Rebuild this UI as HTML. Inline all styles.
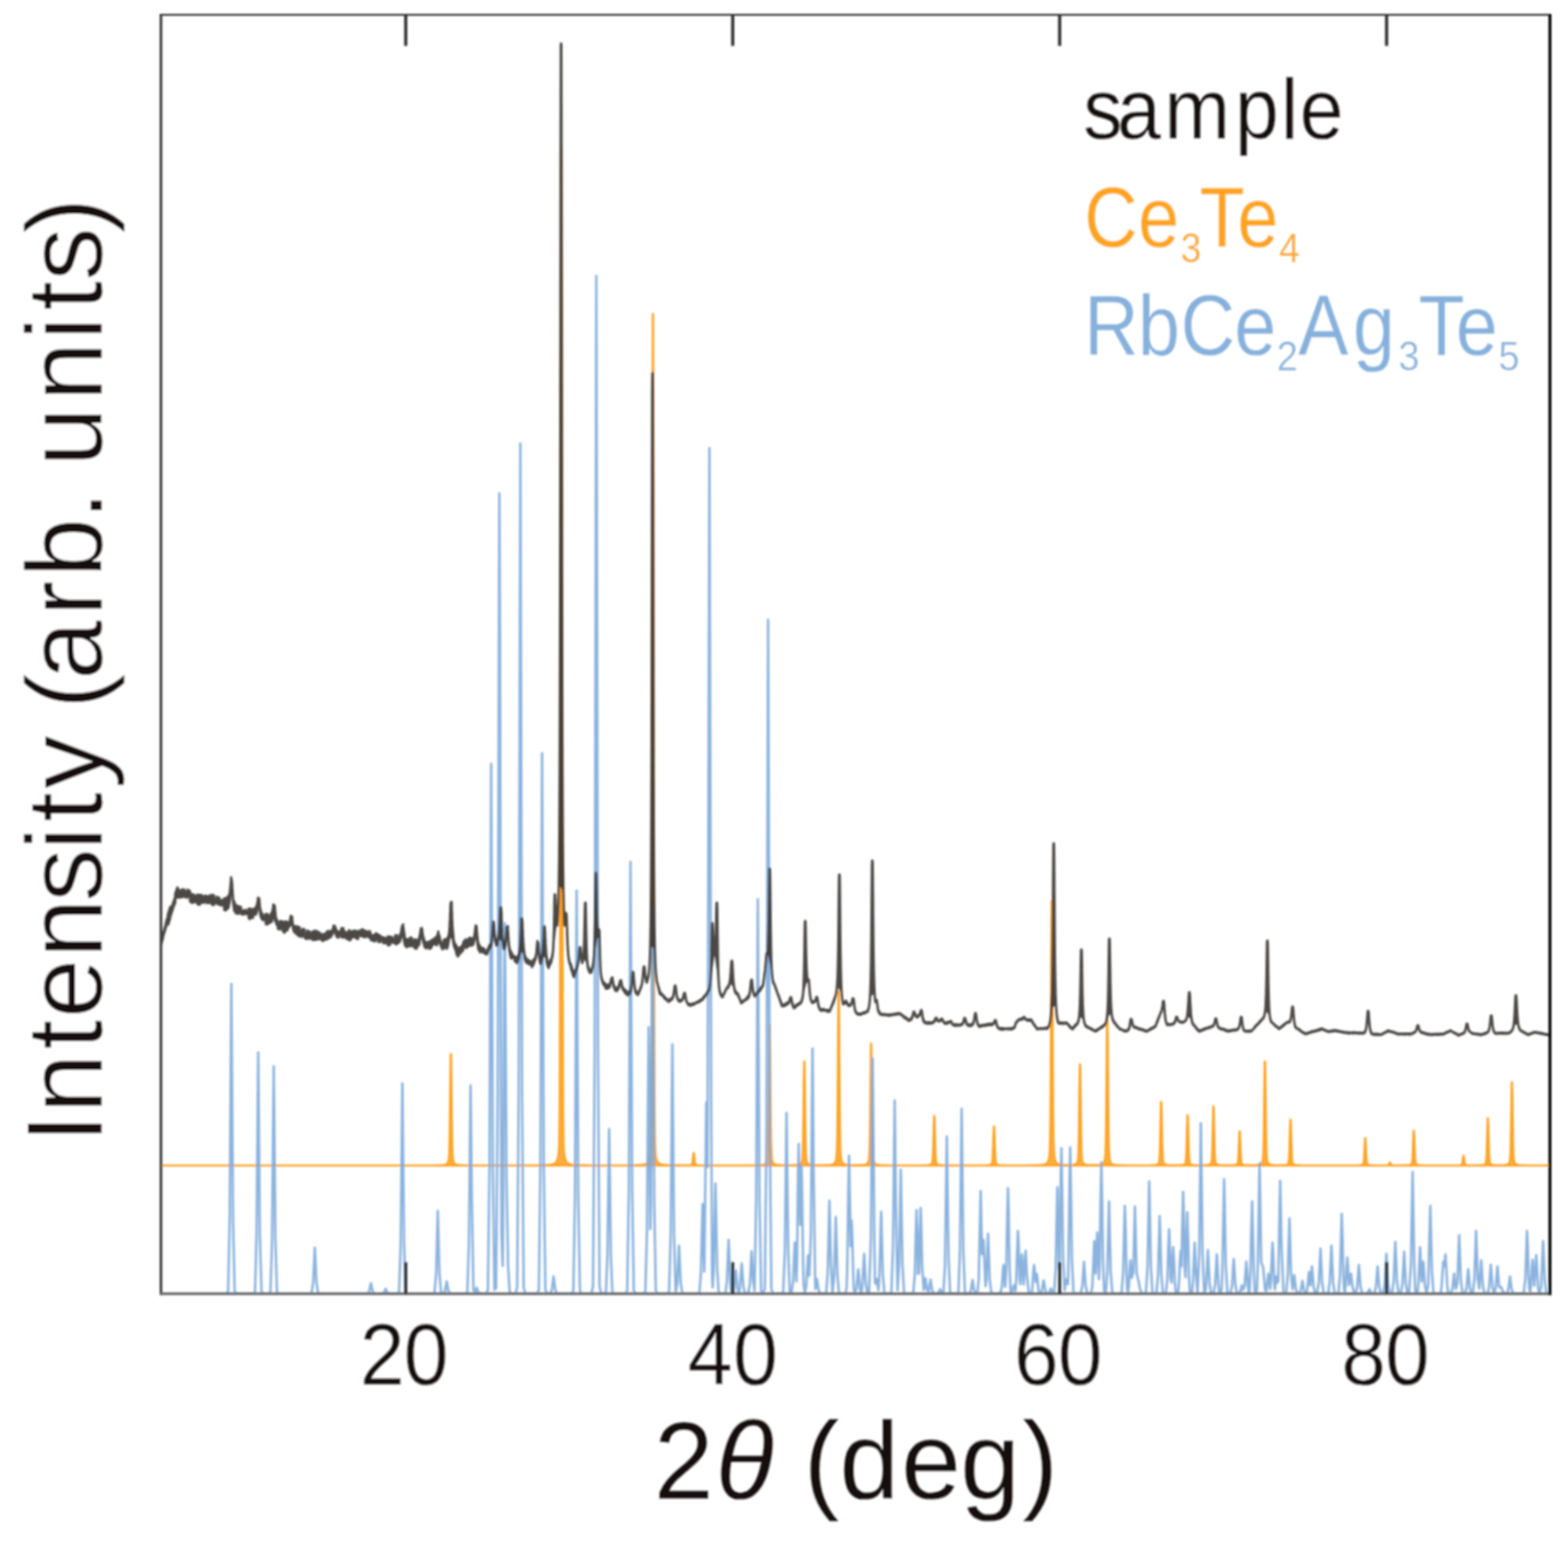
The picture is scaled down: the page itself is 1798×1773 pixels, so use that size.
<!DOCTYPE html>
<html lang="en">
<head>
<meta charset="utf-8">
<title>XRD pattern: sample, Ce3Te4, RbCe2Ag3Te5</title>
<style>
html,body{margin:0;padding:0;background:#fff;}
body{width:1798px;height:1773px;overflow:hidden;font-family:"Liberation Sans",sans-serif;}
svg{display:block;}
</style>
</head>
<body>
<svg width="1798" height="1773" viewBox="0 0 1798 1773">
<defs><filter id="soft" x="0" y="0" width="1798" height="1773" filterUnits="userSpaceOnUse"><feGaussianBlur stdDeviation="0.85"/></filter><clipPath id="plot"><rect x="184.2" y="17" width="1593" height="1466.8"/></clipPath></defs>
<rect width="1798" height="1773" fill="#fff"/>
<g filter="url(#soft)">
<g clip-path="url(#plot)" fill="none" stroke-linejoin="round" stroke-linecap="butt">
<path id="ce3te4" stroke="#ffa01e" fill="#ffa01e" fill-opacity="0.85" stroke-width="2.2" d="M184.2 1336.6L489.7 1336.5L497.7 1336.5L501.7 1336.4L503.7 1336.4L505.2 1336.3L506.2 1336.3L507.2 1336.2L507.7 1336.2L508.2 1336.1L508.7 1336L509.2 1336L509.7 1335.9L510.2 1335.8L510.7 1335.6L511.2 1335.5L511.7 1335.2L512.2 1334.9L512.7 1334.5L513.2 1334L513.7 1333.1L514.2 1331.7L514.7 1328.8L515.2 1320.2L515.7 1296.9L516.2 1253.2L516.7 1211.9L516.9 1208.7L517.1 1208.7L517.2 1209.1L517.7 1243.1L518.2 1289.7L518.7 1317.1L519.2 1327.7L519.7 1331.3L520.2 1332.9L520.7 1333.8L521.2 1334.4L521.7 1334.9L522.2 1335.2L522.7 1335.4L523.2 1335.6L523.7 1335.8L524.2 1335.9L524.7 1336L525.2 1336L525.7 1336.1L526.2 1336.2L527.2 1336.2L528.2 1336.3L529.7 1336.4L531.7 1336.4L534.7 1336.5L540.2 1336.5L557.2 1336.6L603.2 1336.6L603.7 1336.5L612.2 1336.5L617.2 1336.4L620.2 1336.4L622.7 1336.3L624.7 1336.2L626.2 1336.2L627.2 1336.1L628.2 1336L629.2 1335.9L629.7 1335.9L630.2 1335.8L630.7 1335.8L631.2 1335.7L631.7 1335.6L632.2 1335.6L632.7 1335.5L633.2 1335.3L633.7 1335.2L634.2 1335.1L634.7 1334.9L635.2 1334.7L635.7 1334.4L636.2 1334.1L636.7 1333.8L637.2 1333.3L637.7 1332.7L638.2 1332L638.7 1331L639.2 1329.7L639.7 1327.9L640.2 1325.3L640.7 1320.9L641.2 1310.1L641.7 1267.3L642.2 1112.9L642.7 753L643.2 305.2L643.5 169.4L643.9 169.4L644.2 305.2L644.7 753L645.2 1112.9L645.7 1267.3L646.2 1310.1L646.7 1320.9L647.2 1325.3L647.7 1327.9L648.2 1329.7L648.7 1331L649.2 1332L649.7 1332.7L650.2 1333.3L650.7 1333.8L651.2 1334.1L651.7 1334.4L652.2 1334.7L652.7 1334.9L653.2 1335.1L653.7 1335.2L654.2 1335.3L654.7 1335.5L655.2 1335.6L655.7 1335.6L656.2 1335.7L656.7 1335.8L657.2 1335.8L657.7 1335.9L658.7 1336L659.7 1336.1L660.7 1336.1L661.7 1336.2L663.2 1336.2L665.2 1336.3L667.7 1336.4L671.2 1336.4L676.2 1336.5L683.7 1336.5L684.2 1336.6L708.2 1336.6L708.7 1336.5L718.2 1336.5L723.2 1336.4L726.2 1336.4L728.7 1336.3L730.7 1336.2L732.2 1336.2L733.2 1336.1L734.2 1336.1L735.2 1336L735.7 1335.9L736.2 1335.9L736.7 1335.8L737.2 1335.7L737.7 1335.6L738.2 1335.6L738.7 1335.4L739.2 1335.3L739.7 1335.2L740.2 1335L740.7 1334.8L741.2 1334.5L741.7 1334.2L742.2 1333.8L742.7 1333.4L743.2 1332.8L743.7 1331.9L744.2 1330.9L744.7 1329.3L745.2 1327.1L745.7 1323.5L746.2 1314.4L746.7 1278.6L747.2 1149.5L747.7 848.3L748.2 473.6L748.5 360L748.9 360L749.2 473.6L749.7 848.3L750.2 1149.5L750.7 1278.6L751.2 1314.4L751.7 1323.5L752.2 1327.1L752.7 1329.3L753.2 1330.9L753.7 1331.9L754.2 1332.8L754.7 1333.4L755.2 1333.8L755.7 1334.2L756.2 1334.5L756.7 1334.8L757.2 1335L757.7 1335.2L758.2 1335.3L758.7 1335.4L759.2 1335.5L759.7 1335.6L760.2 1335.7L760.7 1335.8L761.2 1335.9L761.7 1335.9L762.7 1336L763.7 1336.1L764.7 1336.1L765.7 1336.2L767.2 1336.3L769.2 1336.3L771.7 1336.4L775.2 1336.4L788.7 1336.4L789.2 1336.5L790.7 1336.4L791.2 1336.4L791.7 1336.3L792.2 1336.2L792.7 1336L793.2 1335.7L793.7 1334.7L794.2 1332.1L794.7 1327.1L795.2 1322.4L795.4 1322L795.7 1322L796.2 1325.9L796.7 1331.2L797.2 1334.4L797.7 1335.6L798.2 1336L798.7 1336.2L799.2 1336.3L799.7 1336.4L800.7 1336.4L802.2 1336.5L805.2 1336.6L860.7 1336.5L865.2 1336.4L867.7 1336.4L869.2 1336.3L870.7 1336.3L871.7 1336.2L872.7 1336.1L873.2 1336.1L873.7 1336L874.2 1335.9L874.7 1335.8L875.2 1335.7L875.7 1335.6L876.2 1335.4L876.7 1335.2L877.2 1334.9L877.7 1334.6L878.2 1334.1L878.7 1333.4L879.2 1332.5L879.7 1330.9L880.2 1327.8L880.7 1319.1L881.2 1294.5L881.7 1243.7L882.2 1185.8L882.5 1175L882.8 1175L883.2 1206.2L883.7 1267L884.2 1307.1L884.7 1323.7L885.2 1329.3L885.7 1331.6L886.2 1332.9L886.7 1333.7L887.2 1334.3L887.7 1334.7L888.2 1335L888.7 1335.3L889.2 1335.5L889.7 1335.6L890.2 1335.7L890.7 1335.8L891.2 1335.9L891.7 1336L892.2 1336L893.2 1336.1L894.2 1336.2L895.2 1336.3L896.7 1336.3L899.2 1336.4L910.2 1336.3L911.7 1336.2L912.7 1336.2L913.7 1336.1L914.2 1336L914.7 1335.9L915.2 1335.9L915.7 1335.7L916.2 1335.6L916.7 1335.4L917.2 1335.2L917.7 1334.9L918.2 1334.5L918.7 1333.8L919.2 1332.9L919.7 1331.2L920.2 1327.1L920.7 1314.9L921.2 1285.3L921.7 1240.5L922.1 1217.4L922.5 1217.4L922.7 1225.4L923.2 1268.1L923.7 1305.5L924.2 1323.7L924.7 1330.1L925.2 1332.4L925.7 1333.5L926.2 1334.2L926.7 1334.7L927.2 1335.1L927.7 1335.3L928.2 1335.5L928.7 1335.7L929.2 1335.8L929.7 1335.9L930.2 1336L930.7 1336L931.2 1336.1L932.2 1336.2L933.2 1336.2L934.7 1336.3L937.2 1336.3L946.2 1336.3L948.2 1336.2L949.2 1336.2L950.2 1336.1L951.2 1336L951.7 1336L952.2 1335.9L952.7 1335.8L953.2 1335.7L953.7 1335.6L954.2 1335.5L954.7 1335.4L955.2 1335.2L955.7 1334.9L956.2 1334.6L956.7 1334.2L957.2 1333.6L957.7 1332.9L958.2 1331.7L958.7 1330L959.2 1326.7L959.7 1318.1L960.2 1293L960.7 1236.7L961.2 1161.8L961.5 1136.9L961.9 1136.9L962.2 1161.8L962.7 1236.8L963.2 1293.1L963.7 1318.2L964.2 1326.7L964.7 1330L965.2 1331.7L965.7 1332.9L966.2 1333.6L966.7 1334.2L967.2 1334.6L967.7 1334.9L968.2 1335.2L968.7 1335.3L969.2 1335.5L969.7 1335.6L970.2 1335.7L970.7 1335.8L971.2 1335.9L971.7 1336L972.2 1336L973.2 1336.1L974.2 1336.2L975.7 1336.2L977.7 1336.3L986.7 1336.2L988.2 1336.2L989.2 1336.1L989.7 1336L990.2 1336L990.7 1335.9L991.2 1335.8L991.7 1335.7L992.2 1335.6L992.7 1335.5L993.2 1335.3L993.7 1335L994.2 1334.7L994.7 1334.2L995.2 1333.5L995.7 1332.5L996.2 1330.8L996.7 1326.8L997.2 1315.2L997.7 1285.2L998.2 1234.2L998.7 1197L998.8 1196.6L999 1196.6L999.2 1200L999.7 1245.2L1000.2 1293.2L1000.7 1318.7L1001.2 1328L1001.7 1331.2L1002.2 1332.8L1002.7 1333.7L1003.2 1334.3L1003.7 1334.8L1004.2 1335.1L1004.7 1335.4L1005.2 1335.6L1005.7 1335.7L1006.2 1335.8L1006.7 1335.9L1007.2 1336L1007.7 1336.1L1008.2 1336.1L1009.2 1336.2L1010.2 1336.3L1011.2 1336.3L1012.7 1336.4L1014.7 1336.4L1018.2 1336.5L1025.2 1336.5L1059.2 1336.5L1061.2 1336.4L1062.7 1336.4L1063.7 1336.3L1064.2 1336.3L1064.7 1336.2L1065.2 1336.1L1065.7 1336.1L1066.2 1335.9L1066.7 1335.8L1067.2 1335.6L1067.7 1335.3L1068.2 1334.8L1068.7 1334L1069.2 1332.1L1069.7 1326.2L1070.2 1312.1L1070.7 1290.7L1071.2 1279.7L1071.5 1279.7L1071.7 1283.5L1072.2 1303.9L1072.7 1321.8L1073.2 1330.4L1073.7 1333.5L1074.2 1334.6L1074.7 1335.1L1075.2 1335.5L1075.7 1335.7L1076.2 1335.9L1076.7 1336L1077.2 1336.1L1077.7 1336.2L1078.2 1336.2L1079.2 1336.3L1080.2 1336.4L1081.7 1336.4L1084.2 1336.5L1089.7 1336.6L1128.7 1336.5L1130.7 1336.4L1132.2 1336.4L1133.2 1336.3L1133.7 1336.2L1134.2 1336.2L1134.7 1336.1L1135.2 1336L1135.7 1335.8L1136.2 1335.6L1136.7 1335.2L1137.2 1334.6L1137.7 1333L1138.2 1328.4L1138.7 1317.2L1139.2 1300.2L1139.7 1291.5L1140 1291.5L1140.2 1294.5L1140.7 1310.7L1141.2 1324.9L1141.7 1331.7L1142.2 1334.1L1142.7 1335L1143.2 1335.4L1143.7 1335.7L1144.2 1335.9L1144.7 1336L1145.2 1336.1L1145.7 1336.2L1146.2 1336.3L1147.2 1336.4L1148.2 1336.4L1149.7 1336.5L1152.7 1336.5L1161.2 1336.6L1165.7 1336.6L1166.2 1336.5L1178.7 1336.5L1183.7 1336.4L1186.7 1336.4L1188.7 1336.3L1190.2 1336.2L1191.7 1336.2L1192.7 1336.1L1193.7 1336L1194.2 1336L1194.7 1335.9L1195.2 1335.8L1195.7 1335.8L1196.2 1335.7L1196.7 1335.6L1197.2 1335.5L1197.7 1335.3L1198.2 1335.2L1198.7 1334.9L1199.2 1334.7L1199.7 1334.4L1200.2 1334L1200.7 1333.5L1201.2 1332.8L1201.7 1331.9L1202.2 1330.6L1202.7 1328.8L1203.2 1325.9L1203.7 1320L1204.2 1303.7L1204.7 1257.5L1205.2 1162L1205.7 1053.1L1206 1032.9L1206.2 1032.9L1206.7 1091.6L1207.2 1205.9L1207.7 1281.3L1208.2 1312.4L1208.7 1322.9L1209.2 1327.2L1209.7 1329.6L1210.2 1331.2L1210.7 1332.3L1211.2 1333.1L1211.7 1333.7L1212.2 1334.1L1212.7 1334.5L1213.2 1334.8L1213.7 1335L1214.2 1335.2L1214.7 1335.3L1215.2 1335.5L1215.7 1335.6L1216.2 1335.7L1216.7 1335.7L1217.2 1335.8L1217.7 1335.9L1218.2 1335.9L1219.2 1336L1220.2 1336L1221.7 1336.1L1228.7 1336.1L1229.2 1336L1229.7 1336L1230.2 1335.9L1230.7 1335.8L1231.2 1335.8L1231.7 1335.7L1232.2 1335.5L1232.7 1335.4L1233.2 1335.2L1233.7 1334.9L1234.2 1334.5L1234.7 1333.9L1235.2 1333.1L1235.7 1331.7L1236.2 1328.4L1236.7 1318.8L1237.2 1293.9L1237.7 1251.6L1238.2 1220.7L1238.2 1220.4L1238.5 1220.4L1238.7 1223.3L1239.2 1260.7L1239.7 1300.5L1240.2 1321.6L1240.7 1329.4L1241.2 1332.1L1241.7 1333.3L1242.2 1334.1L1242.7 1334.6L1243.2 1335L1243.7 1335.2L1244.2 1335.4L1244.7 1335.6L1245.2 1335.7L1245.7 1335.8L1246.2 1335.9L1246.7 1336L1247.2 1336.1L1248.2 1336.1L1249.2 1336.2L1251.2 1336.2L1257.2 1336.2L1258.7 1336.1L1259.7 1336L1260.2 1336L1260.7 1335.9L1261.2 1335.8L1261.7 1335.7L1262.2 1335.6L1262.7 1335.5L1263.2 1335.3L1263.7 1335.1L1264.2 1334.9L1264.7 1334.5L1265.2 1334L1265.7 1333.4L1266.2 1332.4L1266.7 1330.9L1267.2 1328.1L1267.7 1320.7L1268.2 1299.2L1268.7 1250.8L1269.2 1186.3L1269.5 1165L1269.8 1165L1270.2 1186.3L1270.7 1250.8L1271.2 1299.2L1271.7 1320.7L1272.2 1328.1L1272.7 1330.9L1273.2 1332.4L1273.7 1333.4L1274.2 1334L1274.7 1334.5L1275.2 1334.9L1275.7 1335.2L1276.2 1335.4L1276.7 1335.5L1277.2 1335.7L1277.7 1335.8L1278.2 1335.9L1278.7 1336L1279.2 1336L1279.7 1336.1L1280.7 1336.2L1281.7 1336.2L1282.7 1336.3L1284.2 1336.4L1286.2 1336.4L1289.2 1336.5L1298.2 1336.5L1318.7 1336.5L1320.7 1336.4L1322.2 1336.3L1323.2 1336.3L1323.7 1336.2L1324.2 1336.2L1324.7 1336.1L1325.2 1336L1325.7 1335.9L1326.2 1335.8L1326.7 1335.6L1327.2 1335.4L1327.7 1335.1L1328.2 1334.6L1328.7 1333.8L1329.2 1332.1L1329.7 1327.2L1330.2 1314L1330.7 1289L1331.2 1265.4L1331.3 1263.6L1331.7 1263.6L1331.7 1263.8L1332.2 1283.2L1332.7 1309.8L1333.2 1325.5L1333.7 1331.5L1334.2 1333.6L1334.7 1334.5L1335.2 1335L1335.7 1335.3L1336.2 1335.6L1336.7 1335.8L1337.2 1335.9L1337.7 1336L1338.2 1336.1L1338.7 1336.1L1339.2 1336.2L1340.2 1336.3L1341.2 1336.3L1342.7 1336.4L1346.7 1336.4L1351.7 1336.4L1353.2 1336.3L1354.2 1336.2L1354.7 1336.2L1355.2 1336.2L1355.7 1336.1L1356.2 1336L1356.7 1335.9L1357.2 1335.7L1357.7 1335.5L1358.2 1335.2L1358.7 1334.8L1359.2 1334L1359.7 1332L1360.2 1326L1360.7 1311.7L1361.2 1289.9L1361.7 1278.8L1362 1278.8L1362.2 1282.6L1362.7 1303.3L1363.2 1321.5L1363.7 1330.3L1364.2 1333.4L1364.7 1334.5L1365.2 1335.1L1365.7 1335.4L1366.2 1335.7L1366.7 1335.8L1367.2 1336L1367.7 1336.1L1368.2 1336.1L1368.7 1336.2L1369.7 1336.3L1370.7 1336.3L1371.7 1336.4L1374.7 1336.4L1381.2 1336.4L1382.7 1336.3L1383.7 1336.2L1384.2 1336.2L1384.7 1336.1L1385.2 1336.1L1385.7 1336L1386.2 1335.8L1386.7 1335.7L1387.2 1335.5L1387.7 1335.2L1388.2 1334.7L1388.7 1334L1389.2 1332.4L1389.7 1327.9L1390.2 1315.5L1390.7 1292.3L1391.2 1270.4L1391.3 1268.7L1391.7 1268.7L1391.7 1268.9L1392.2 1286.9L1392.7 1311.7L1393.2 1326.2L1393.7 1331.9L1394.2 1333.8L1394.7 1334.6L1395.2 1335.1L1395.7 1335.4L1396.2 1335.7L1396.7 1335.8L1397.2 1335.9L1397.7 1336L1398.2 1336.1L1398.7 1336.2L1399.7 1336.3L1400.7 1336.3L1402.2 1336.4L1404.7 1336.4L1412.7 1336.4L1414.2 1336.3L1415.2 1336.2L1415.7 1336.2L1416.2 1336.1L1416.7 1336L1417.2 1335.9L1417.7 1335.7L1418.2 1335.5L1418.7 1335L1419.2 1334.1L1419.7 1331.5L1420.2 1324.4L1420.7 1311L1421.2 1298.3L1421.3 1297.3L1421.7 1297.3L1421.7 1297.4L1422.2 1307.9L1422.7 1322.2L1423.2 1330.6L1423.7 1333.8L1424.2 1334.9L1424.7 1335.4L1425.2 1335.7L1425.7 1335.9L1426.2 1336L1426.7 1336.1L1427.2 1336.2L1427.7 1336.2L1428.7 1336.3L1430.2 1336.3L1439.2 1336.3L1440.2 1336.2L1441.2 1336.2L1441.7 1336.1L1442.2 1336L1442.7 1336L1443.2 1335.9L1443.7 1335.8L1444.2 1335.7L1444.7 1335.5L1445.2 1335.3L1445.7 1335L1446.2 1334.6L1446.7 1334.1L1447.2 1333.3L1447.7 1332L1448.2 1329.3L1448.7 1321.3L1449.2 1299.5L1449.7 1258.5L1450.2 1219.9L1450.3 1217L1450.7 1217L1450.7 1217.3L1451.2 1249.2L1451.7 1292.7L1452.2 1318.3L1452.7 1328.3L1453.2 1331.6L1453.7 1333.1L1454.2 1334L1454.7 1334.5L1455.2 1335L1455.7 1335.2L1456.2 1335.5L1456.7 1335.6L1457.2 1335.8L1457.7 1335.9L1458.2 1336L1458.7 1336L1459.2 1336.1L1460.2 1336.2L1461.2 1336.2L1462.2 1336.3L1464.2 1336.3L1471.7 1336.3L1472.7 1336.2L1473.2 1336.2L1473.7 1336.1L1474.2 1336L1474.7 1335.9L1475.2 1335.8L1475.7 1335.6L1476.2 1335.3L1476.7 1334.9L1477.2 1334.2L1477.7 1332.4L1478.2 1327L1478.7 1313.9L1479.2 1294.1L1479.7 1283.9L1480 1283.9L1480.2 1287.4L1480.7 1306.3L1481.2 1322.8L1481.7 1330.9L1482.2 1333.7L1482.7 1334.7L1483.2 1335.2L1483.7 1335.5L1484.2 1335.8L1484.7 1335.9L1485.2 1336L1485.7 1336.1L1486.2 1336.2L1486.7 1336.2L1487.7 1336.3L1488.7 1336.4L1490.2 1336.4L1491.7 1336.5L1496.2 1336.5L1520.2 1336.6L1552.2 1336.5L1556.2 1336.5L1558.2 1336.4L1559.2 1336.4L1559.7 1336.3L1560.2 1336.3L1560.7 1336.2L1561.2 1336.1L1561.7 1335.9L1562.2 1335.7L1562.7 1335.4L1563.2 1334.7L1563.7 1332.6L1564.2 1326.8L1564.7 1316L1565.2 1305.8L1565.3 1305L1565.7 1305L1565.7 1305.1L1566.2 1313.5L1566.7 1325L1567.2 1331.8L1567.7 1334.4L1568.2 1335.3L1568.7 1335.7L1569.2 1335.9L1569.7 1336.1L1570.2 1336.2L1570.7 1336.2L1571.2 1336.3L1572.2 1336.4L1573.2 1336.4L1575.2 1336.5L1579.7 1336.5L1590.2 1336.5L1590.7 1336.5L1591.2 1336.4L1591.7 1336.3L1592.2 1335.9L1592.7 1335L1593.2 1333.7L1593.7 1333L1594 1333L1594.2 1333.2L1594.7 1334.5L1595.2 1335.6L1595.7 1336.2L1596.2 1336.4L1596.7 1336.4L1597.7 1336.5L1612.7 1336.4L1614.2 1336.4L1615.2 1336.3L1615.7 1336.2L1616.2 1336.1L1616.7 1336L1617.2 1335.9L1617.7 1335.6L1618.2 1335.3L1618.7 1334.6L1619.2 1332.9L1619.7 1327.9L1620.2 1316.6L1620.7 1301.6L1621 1296.6L1621.3 1296.6L1621.7 1301.6L1622.2 1316.6L1622.7 1327.9L1623.2 1332.9L1623.7 1334.6L1624.2 1335.3L1624.7 1335.6L1625.2 1335.9L1625.7 1336L1626.2 1336.1L1626.7 1336.2L1627.2 1336.3L1628.2 1336.4L1629.2 1336.4L1630.7 1336.5L1633.7 1336.5L1643.7 1336.6L1671.2 1336.5L1673.2 1336.5L1674.2 1336.4L1674.7 1336.3L1675.2 1336.2L1675.7 1336L1676.2 1335.5L1676.7 1334.1L1677.2 1331L1677.7 1326.8L1678 1325.4L1678.3 1325.4L1678.7 1326.8L1679.2 1331L1679.7 1334.1L1680.2 1335.5L1680.7 1336L1681.2 1336.2L1681.7 1336.3L1682.2 1336.4L1683.2 1336.4L1684.7 1336.5L1695.2 1336.4L1697.2 1336.4L1698.2 1336.3L1699.2 1336.2L1699.7 1336.2L1700.2 1336.1L1700.7 1336L1701.2 1335.9L1701.7 1335.7L1702.2 1335.5L1702.7 1335.2L1703.2 1334.6L1703.7 1333.6L1704.2 1330.7L1704.7 1322.4L1705.2 1305.3L1705.7 1285.8L1706 1282.2L1706.2 1282.2L1706.7 1292.7L1707.2 1313.1L1707.7 1326.6L1708.2 1332.2L1708.7 1334.1L1709.2 1334.9L1709.7 1335.3L1710.2 1335.6L1710.7 1335.8L1711.2 1335.9L1711.7 1336L1712.2 1336.1L1712.7 1336.2L1713.7 1336.2L1714.7 1336.3L1716.7 1336.4L1723.2 1336.3L1724.2 1336.2L1725.2 1336.2L1725.7 1336.1L1726.2 1336.1L1726.7 1336L1727.2 1335.9L1727.7 1335.8L1728.2 1335.6L1728.7 1335.4L1729.2 1335.2L1729.7 1334.8L1730.2 1334.3L1730.7 1333.4L1731.2 1331.9L1731.7 1327.7L1732.2 1315.7L1732.7 1288.7L1733.2 1252.7L1733.5 1240.8L1733.8 1240.8L1734.2 1252.7L1734.7 1288.7L1735.2 1315.7L1735.7 1327.7L1736.2 1331.9L1736.7 1333.4L1737.2 1334.3L1737.7 1334.8L1738.2 1335.2L1738.7 1335.4L1739.2 1335.6L1739.7 1335.8L1740.2 1335.9L1740.7 1336L1741.2 1336.1L1741.7 1336.1L1742.2 1336.2L1743.2 1336.3L1744.2 1336.3L1745.7 1336.4L1747.2 1336.4L1750.2 1336.5L1756.7 1336.5L1774.2 1336.6L1777.2 1336.6Z"/>
<path id="rbce2ag3te5" stroke="#7ba9d9" stroke-opacity="0.88" stroke-width="2.8" d="M184.7 1483.6L259.7 1483.6L261.6 1481L263.4 1397.7L265.3 1128.3L267.2 1399L269.1 1481L270.9 1483.6L290.5 1483.6L292.4 1481.6L294.2 1416.7L296.1 1206.8L298 1417.7L299.9 1481.6L301.7 1483.6L308.3 1483.6L310.1 1481.7L312 1421.5L313.9 1222.8L315.8 1420.5L317.6 1481.7L319.5 1483.6L355.4 1483.6L357.2 1483.2L359.1 1471.1L361 1431L362.9 1471.1L364.8 1483.2L366.6 1483.6L419.7 1483.6L421.6 1483.5L423.4 1480.7L425.3 1471.6L427.2 1480.7L429.1 1483.5L430.9 1483.6L436.6 1483.6L438.4 1483.6L440.3 1482.3L442.2 1478L444.1 1482.2L445.9 1483.6L447.8 1483.6L455.8 1483.6L457.6 1481.8L459.5 1426.2L461.4 1242.6L463.3 1425.3L465.1 1481.8L467 1483.6L496.4 1483.6L498.2 1482.9L500.1 1461L502 1388.7L503.9 1461L505.8 1482.9L506.6 1483.3L507.6 1483.6L508.4 1483.5L510.3 1480.2L512.2 1469.7L514.1 1480.3L516 1483.5L517.8 1483.6L534 1483.6L535.9 1481.9L537.7 1425.9L539.6 1244.9L541 1374.2L542.9 1479.3L544.7 1481.9L546.6 1476.7L548.5 1482L550.4 1483.5L552.2 1483.6L557.6 1483.6L559.5 1479.2L561.3 1336.6L563.2 875.8L565.1 1338.8L567 1479.2L568.8 1477.1L570.7 1261.7L572.6 565.7L573.3 721.6L574.5 1264.9L575.1 1414.8L576.4 1451.8L577 1382.5L578.2 1131.1L578.9 1059L580.8 1352L582.6 1450.8L584.5 1482.6L586.4 1483.6L591.1 1483.6L593 1476.5L594.8 1247.9L596.7 508.7L598.6 1251.4L600.5 1476.5L602.3 1483.6L616 1483.6L617.9 1479.1L619.7 1333.8L621.6 864L623.5 1336L625.4 1479.1L627.2 1483.6L629.2 1483.6L631 1483.5L632.9 1478.9L634.8 1464L636.7 1478.9L638.5 1483.5L640.4 1483.6L655.6 1483.6L657.5 1480.2L659.3 1371.8L661.2 1021.3L663.1 1373.5L665 1480.2L666.8 1483.6L678.2 1483.6L680 1475.1L681.9 1205.6L683.8 316.4L685.7 1201.4L687.5 1475.1L689.4 1483.6L692.9 1483.6L694.8 1482.2L696.6 1438.7L698.5 1295L700.4 1438.7L702.2 1482.2L704.1 1483.6L717.4 1483.6L719.2 1480L721.1 1365.7L723 988.5L724.9 1365.7L726.8 1480L728.6 1483.6L738.2 1483.6L740 1481.4L741.9 1410.8L742.7 1302.9L743.8 1178L744.5 1241.5L745.7 1409.7L746.4 1378.4L747.5 1133.8L748.3 1042L749.4 1220L750.2 1376.8L752 1480.4L753.9 1483.6L765.4 1483.6L767.2 1481.5L769.1 1415.5L771 1197.6L772.9 1415.5L774.8 1481.5L776.6 1472.4L778.6 1428.6L780.5 1470.5L782.4 1483.2L784.2 1483.6L800.1 1483.6L802 1482.9L803.8 1458.8L805.7 1381L807.6 1458.4L809.9 1264.5L811.3 1338.4L813.5 514L814.8 983.4L815.4 1252.6L816.6 1462.1L817.2 1476.5L818.5 1453.6L819.1 1419.2L820.4 1357.5L822.3 1453.1L824.1 1482.7L826 1483.6L829.9 1483.6L831.8 1483.1L833.6 1468.9L835.5 1421.8L837.4 1468.9L838.1 1479.2L839.2 1483.1L840 1483.4L841.1 1481.7L841.8 1477.2L843.7 1457L844.9 1468.6L845.6 1477.3L846.8 1482.9L847.5 1482.7L848.6 1475.4L849.3 1463.9L850.5 1449L852.4 1475.4L854.2 1483.3L856.1 1483.6L858 1483.2L859.9 1472L861.8 1435L863.4 1466.1L865.2 1480.3L867.1 1375.9L869 1031.5L870.9 1375.9L872.8 1480.3L874.6 1483.6L877 1478L878.9 1299.5L880.8 710.7L882.7 1296.7L884.5 1478L886.4 1483.6L896.3 1483.6L898.1 1482.1L900 1434.2L901.9 1276.3L903.8 1433.5L905.6 1482.1L907.5 1483.2L909.5 1469.6L910.3 1448.9L911.4 1425L912.1 1437.2L913.3 1469.4L914 1442.7L915.1 1347.5L915.9 1311.8L917 1381.1L917.8 1404.8L919 1337L919.6 1360.6L920.9 1448.7L921.5 1472L922.8 1482.5L924.6 1474.7L926.6 1440L928 1462.9L929.8 1415.6L931.7 1202.5L933 1350.4L934.9 1478.2L936.8 1467L938.7 1479.6L940.5 1483.5L942.4 1483.6L945.5 1483.6L947.4 1482.8L949.2 1457.8L951.1 1377L952.8 1449.4L954.6 1482.5L956.5 1462.6L958.4 1395.6L960.3 1462.3L962.1 1483L964 1483.6L968 1483.6L969.9 1482.4L970.9 1475.1L971.7 1445.3L972.8 1366.2L973.6 1325.4L974.6 1380.6L975.5 1429.2L976.5 1400L977.4 1421.6L978.4 1463.7L979.2 1479.2L980.2 1483L982.1 1477.9L984.1 1455.7L985.3 1467.7L986 1477L987.1 1482.8L987.9 1482.4L989 1472.7L989.7 1457.6L990.9 1437.9L992.8 1472.5L994.6 1483.3L996.5 1482.3L998.7 1418.4L999.7 1294.9L1000.6 1214L1001.5 1297.8L1002.5 1419.4L1003.4 1471.8L1004.4 1472.2L1005.3 1467L1006.2 1472L1007.2 1479.6L1008.5 1461.2L1010.4 1389.7L1012.3 1460.9L1014.1 1482.9L1016 1483.6L1020.3 1483.6L1022.1 1482L1024 1430L1025.9 1261.9L1027.3 1382L1029.2 1479.6L1031 1449.2L1032.9 1341.4L1034.8 1449.7L1036.7 1482.6L1038.5 1483.6L1045.4 1483.6L1047.2 1482.9L1049.1 1460.8L1050.1 1416.2L1051 1388L1052 1417.7L1052.9 1460.8L1053.8 1459.9L1054.8 1415.9L1055.7 1385.4L1056.6 1414.4L1057.3 1451.2L1059.2 1479.4L1061.1 1465.8L1063 1479.3L1064.8 1481.1L1067 1467.5L1068.9 1479.8L1070.8 1483.5L1072.4 1483.6L1074.2 1483.6L1076.1 1482.4L1078 1478.5L1079.9 1482.4L1081.8 1482.6L1083.6 1452.2L1085.7 1303.4L1087.6 1440.7L1089.5 1482.3L1091.3 1483.6L1097.1 1483.6L1099 1482.1L1100.8 1432.3L1102.7 1271.6L1104.6 1433.1L1106.5 1482.1L1108.3 1483.6L1109.6 1483.6L1111.5 1483.5L1113.3 1479.8L1115.2 1468L1117.1 1479.9L1118.9 1483.5L1120.8 1482.7L1122.3 1467.4L1124.5 1366L1126 1438.4L1127.9 1421.8L1129.2 1454.3L1130.1 1475.1L1131.1 1467.3L1133 1415L1134.9 1467.3L1136.8 1483.1L1138.6 1483.6L1145.2 1483.6L1147 1483.4L1148.9 1475.7L1150.2 1455.6L1150.8 1450.6L1152 1466.2L1152.7 1475.6L1153.9 1454.8L1154.5 1419.9L1155.8 1362.6L1156.4 1380.4L1157.7 1454.3L1158.8 1480.3L1159.5 1482.7L1160.7 1481.3L1161.4 1478.2L1162.6 1474L1163.5 1477L1164.5 1480.5L1165.4 1466.5L1166.3 1436.8L1167.3 1411.7L1168.2 1430.3L1169.2 1466.2L1170 1472.7L1171 1450.3L1171.9 1438.7L1172.9 1454.4L1173.8 1472.9L1176.1 1434.5L1177.5 1462.3L1179.8 1483.2L1181.7 1483.4L1183.2 1481.5L1183.9 1475.7L1185 1457.5L1185.8 1450.6L1186.9 1463.9L1187.7 1470.1L1188.8 1460.7L1189.5 1465.5L1190.7 1478.1L1191.4 1482.1L1192.5 1483.4L1194.4 1482L1196.8 1468.3L1198.7 1479.9L1199.4 1482.5L1200.5 1483.5L1201.2 1483.5L1202.4 1483.2L1203.1 1482.2L1205 1477.6L1206.9 1482.2L1208.8 1482.7L1210.6 1454.6L1211.5 1404.9L1212.5 1361.7L1213.3 1393.2L1214.4 1454.6L1215.2 1443.9L1216.2 1359.9L1217.1 1316.9L1218.1 1375L1219 1442.1L1220.8 1479.7L1221.6 1474L1222.7 1467.5L1223.5 1470.8L1224.6 1472.6L1225.3 1443.1L1226.5 1350.8L1227.2 1316L1228.3 1384.5L1229.1 1443.7L1231 1482.4L1232.8 1483.6L1237.4 1483.6L1239.2 1483.3L1241.1 1474.9L1243 1447.2L1244.9 1474.9L1246.8 1483.3L1248.6 1483.6L1251 1483.2L1252.6 1475.3L1254.8 1423.5L1256.3 1460.5L1257.3 1434.1L1258.2 1413.4L1259.2 1435.2L1260.1 1466.9L1261 1447.2L1262 1379.8L1262.9 1333L1263.8 1378.2L1264.8 1447.7L1266.1 1480.5L1268 1482.8L1269.8 1458L1271.7 1377.8L1273.6 1458.4L1275.5 1482.8L1277.3 1483.6L1284.2 1483.6L1286 1482.9L1287.9 1459.6L1289.8 1382.9L1290.7 1409.9L1291.7 1459.3L1292.5 1478.5L1293.5 1481.7L1294.4 1474.5L1295.4 1455.9L1296.3 1445.5L1297.7 1465.5L1299.5 1459.4L1301.4 1383.7L1303.3 1459.8L1305.6 1469L1307 1477.3L1309.3 1483.5L1311.2 1483.6L1312.2 1483.6L1314 1482.7L1315.9 1453L1317.8 1355L1319.7 1452.5L1321.5 1482.7L1323.4 1483.6L1324.2 1483.6L1326 1483L1327.9 1462.4L1329.8 1394.7L1331.7 1462.1L1333.5 1483L1335 1483.4L1336.8 1483.1L1338.7 1466.1L1339.7 1432.1L1340.6 1410L1341.5 1432.9L1342.5 1465.8L1343.4 1470.9L1344.3 1446.9L1345.3 1430.3L1346.2 1446L1347.2 1470.7L1348.2 1481.5L1349 1483.2L1350 1483.2L1350.9 1481.7L1351.9 1472L1353 1447.5L1353.8 1435L1354.8 1452.2L1355.7 1408.2L1356.7 1366.8L1357.5 1397L1358.6 1455.8L1359.4 1464.6L1360.5 1419.4L1361.4 1390.5L1362.3 1418.5L1363.3 1461.4L1364.3 1480L1365.2 1482.9L1366.2 1483.2L1367 1481.3L1368 1469.5L1369.9 1425.2L1371.4 1459.8L1373.2 1482.2L1375.1 1437L1377 1288.1L1378.9 1437L1380.8 1482.2L1382.6 1479.3L1383.2 1471.7L1385.1 1433.7L1387 1471.5L1388.8 1483.2L1389.7 1483.4L1390.7 1483.5L1391.5 1483.3L1393.4 1472.9L1395.3 1438.7L1397.2 1472.7L1398.1 1481.5L1399 1483.2L1400 1482.6L1400.9 1477.4L1401.8 1451.9L1403.7 1352.4L1405.6 1452.3L1407.5 1482.6L1409.1 1483.3L1411 1483.3L1412.8 1474L1414.7 1443.8L1416.6 1474.1L1418.4 1483.3L1420.2 1483.5L1422.1 1481.3L1424 1474L1425.3 1479.1L1427.2 1474.9L1429.1 1447L1430.2 1460.8L1431 1474.8L1432 1482.4L1432.8 1480.1L1433.9 1458.4L1434.7 1418.1L1435.8 1377.8L1437.7 1458L1438.7 1479.4L1439.5 1482.8L1440.5 1482.5L1441.4 1477.8L1442.4 1447.9L1444.3 1333.8L1446.2 1447.4L1448.5 1454L1449.9 1470.6L1450.8 1479.7L1452.2 1480.6L1453.6 1467.5L1454.5 1460.7L1455.5 1467.8L1456.4 1478.1L1457.3 1469.5L1458.2 1445.9L1459.2 1425.2L1460 1440.3L1461.1 1469.7L1461.9 1478.9L1463 1469.1L1463.8 1464L1464.8 1470.9L1465.7 1469L1468 1354.1L1469.4 1426.9L1471.8 1482.7L1473 1483.3L1473.6 1483.4L1474.8 1483L1476.7 1463L1478.6 1397.3L1480.3 1458.8L1482.2 1478.5L1484.1 1462.4L1486 1478.5L1487.8 1483.4L1489.7 1483.5L1491.5 1480.1L1493.4 1469L1495.3 1480.1L1497.2 1483.4L1498.8 1480.2L1501 1459L1502.5 1474.1L1504.4 1452.3L1506.3 1476.1L1508.2 1483.4L1510 1483.4L1512.3 1471.1L1514.2 1432L1516.1 1471.3L1518 1483.2L1519.8 1483.6L1521.1 1483.6L1523 1483.2L1524.8 1470.3L1526.7 1428.6L1528.6 1470.5L1530.5 1483.2L1532.3 1483.6L1534.8 1482.9L1536.6 1461.8L1538.5 1392.2L1539.4 1417.2L1540.4 1461.8L1541.2 1479L1542.2 1481.5L1543.1 1473.7L1544.1 1453.5L1545 1442.1L1546.9 1473.7L1549.2 1460.7L1550.6 1473.6L1552.6 1483.3L1554.5 1483.4L1556.3 1475.6L1558.2 1450.6L1560.1 1475.7L1562 1483.4L1563.8 1483.6L1564.8 1483.6L1566.7 1483.6L1568.5 1482.4L1570.4 1478.5L1572.3 1482.4L1574.1 1483.6L1576 1483.4L1577.8 1476L1579.7 1452.3L1581.6 1476.1L1583.5 1483.4L1584.2 1483.5L1585.3 1483.4L1586 1483.3L1587.9 1472.7L1589.8 1437.9L1591.7 1472.5L1593.5 1483.3L1594.4 1483.5L1595.4 1483.4L1596.2 1483.2L1598.1 1469.5L1600 1424.3L1601.9 1469.5L1603.8 1483.2L1604.5 1483.4L1605.6 1483.4L1606.3 1483.2L1608.2 1472.1L1610.1 1435.3L1612 1471.9L1613.8 1483.2L1615.7 1482.9L1617.9 1450.3L1619.8 1344L1621.7 1449.8L1622.8 1479.2L1623.5 1482.6L1624.7 1483.2L1625.4 1481.9L1626.5 1471.8L1628.4 1430.3L1630.2 1469.7L1632.1 1447L1634 1474.8L1635.8 1483.2L1637.7 1473.2L1640.1 1382.9L1642 1459.3L1643.8 1482.9L1645.7 1483.6L1649.4 1483.6L1651.2 1483.3L1651.9 1482.7L1653.1 1474.9L1653.8 1464.3L1655 1447L1655.6 1452.4L1656.9 1445.3L1657.5 1438.7L1658.8 1460L1659.4 1472.9L1660.6 1482.5L1661.2 1483.3L1663.1 1483.5L1665.5 1478.1L1667.4 1460.7L1669.3 1478.1L1671.2 1471.4L1673.2 1416.7L1675.1 1467.7L1677 1483.1L1678 1483.4L1678.8 1483.5L1679.8 1483.4L1681.7 1477L1683.6 1455.7L1685.5 1476.9L1687 1483.2L1688.8 1483.1L1690.7 1466.5L1692.6 1411.7L1694.5 1466.2L1696.3 1477.7L1698.5 1445.5L1700.4 1474.5L1702.2 1483.3L1703.9 1483.5L1705.8 1483.4L1707.6 1475.7L1709.5 1450.6L1711.4 1475.7L1713.2 1483.4L1715.1 1477.2L1715.8 1468.3L1717.1 1452.3L1719 1476L1721.4 1476L1722.7 1479.9L1725.2 1483.5L1725.9 1483.6L1727 1483.5L1727.8 1483.5L1729.6 1478.9L1731.5 1464L1733.4 1478.9L1735.2 1483.5L1737.1 1483.6L1745.4 1483.6L1747.2 1483.1L1749.1 1466.5L1751 1411.7L1751.8 1427.7L1752.9 1466.5L1753.7 1479.2L1754.8 1481.2L1755.5 1474.2L1756.6 1453.3L1757.4 1444.6L1759.3 1474.3L1761.6 1439.5L1763 1464.5L1763.9 1478.1L1765.3 1483.3L1767.2 1476.2L1769.5 1423.5L1771.4 1469.3L1773.2 1483.2L1775.1 1483.6L1776.7 1483.6"/>
<g id="sample" opacity="0.9">
<path fill="#373432" stroke="none" d="M514.6 1074.5L514.8 1072.9L515 1071L515.2 1068.7L515.4 1065.9L515.6 1062.6L515.8 1058.7L516 1054.3L516.2 1049.4L516.4 1044.4L516.6 1039.9L516.8 1036.7L517 1035.5L517.2 1035.5L517.2 1035.5L517.4 1035.5L517.6 1036.8L517.8 1040.3L518 1045.2L518.2 1050.6L518.4 1055.9L518.6 1060.8L518.8 1065L519 1068.6L519.2 1071.6L519.4 1074.1L519.6 1076.2L519.8 1078ZM571.6 1075.9L571.8 1074.5L572 1072.8L572.2 1070.7L572.4 1068.3L572.6 1065.3L572.8 1061.9L573 1057.9L573.2 1053.6L573.4 1049.2L573.6 1045.2L573.8 1042.3L574 1041.3L574.2 1041.3L574.2 1041.3L574.4 1041.3L574.6 1042.5L574.8 1045.8L575 1050.4L575.2 1055.5L575.4 1060.5L575.6 1065.1L575.8 1069L576 1072.4L576.2 1075.3L576.4 1077.6L576.6 1079.6L576.8 1081.2ZM595.7 1092.6L595.9 1091L596.1 1089.1L596.3 1086.8L596.5 1084L596.7 1080.7L596.9 1076.9L597.1 1072.5L597.3 1067.6L597.5 1062.6L597.7 1058.1L597.9 1055L598.1 1053.8L598.3 1053.8L598.3 1053.8L598.5 1053.8L598.7 1055L598.9 1058.1L599.1 1062.6L599.3 1067.6L599.5 1072.5L599.7 1076.9L599.9 1080.8L600.1 1084.1L600.3 1086.8L600.5 1089.1L600.7 1091L600.9 1092.6ZM621.6 1096.9L621.8 1095.5L622 1093.8L622.2 1091.8L622.4 1089.4L622.6 1086.5L622.8 1083.2L623 1079.3L623.2 1075L623.4 1070.7L623.6 1066.8L623.8 1064L624 1063L624.2 1063L624.2 1063L624.4 1063L624.6 1064.1L624.8 1067L625 1071.2L625.2 1075.8L625.4 1080.3L625.6 1084.5L625.8 1088.1L626 1091.1L626.2 1093.7L626.4 1095.8L626.6 1097.6L626.8 1099.1ZM633.7 1095.2L633.9 1093.6L634.1 1091.6L634.3 1089.1L634.5 1085.9L634.7 1081.8L634.9 1076.4L635.1 1069.5L635.3 1060.7L635.5 1050.1L635.7 1038.8L635.9 1029.5L636.1 1025.8L636.3 1025.8L636.3 1025.8L636.5 1025.8L636.7 1026.7L636.9 1029.3L637.1 1032.9L637.3 1036.8L637.5 1040.7L637.7 1044.3L637.9 1047.4L638.1 1050L638.3 1052.2L638.5 1054.1L638.7 1055.6L638.9 1056.9ZM640.8 1014.6L641 1001.8L641.2 985.6L641.4 964.6L641.6 936.7L641.8 898.9L642 846.6L642.2 772.8L642.4 667.4L642.6 519.6L642.8 328.9L643 137.5L643.2 50.3L643.4 50.3L643.4 50.3L643.6 50.3L643.8 138.2L644 331.2L644.2 523.5L644.4 672.5L644.6 778.7L644.8 853.1L645 905.9L645.2 943.9L645.4 972.1L645.6 993.3L645.8 1009.7L646 1022.5ZM668.6 1098.6L668.8 1097.1L669 1095.3L669.2 1093.1L669.4 1090.2L669.6 1086.4L669.8 1081.6L670 1075.3L670.2 1067.3L670.4 1057.6L670.6 1047.4L670.8 1038.9L671 1035.5L671.2 1035.5L671.2 1035.5L671.4 1035.5L671.6 1039.3L671.8 1048.8L672 1060.4L672.2 1071.2L672.4 1080.1L672.6 1087.2L672.8 1092.7L673 1096.9L673.2 1100.1L673.4 1102.7L673.6 1104.7L673.8 1106.3ZM680.8 1101.4L681 1099.1L681.2 1096.2L681.4 1092.6L681.6 1088L681.8 1082.1L682 1074.4L682.2 1064.4L682.4 1051.7L682.6 1036.4L682.8 1020.1L683 1006.7L683.2 1001.3L683.4 1001.3L683.4 1001.3L683.6 1001.3L683.8 1005.4L684 1015.7L684.2 1028.1L684.4 1039.8L684.6 1049.5L684.8 1057.1L685 1063L685.2 1067.6L685.4 1071.1L685.6 1073.1L685.8 1071.5L686 1069.9ZM745.7 1084.6L745.9 1075.9L746.1 1064.9L746.3 1050.5L746.5 1031.5L746.7 1005.8L746.9 970.2L747.1 919.9L747.3 848.2L747.5 747.5L747.7 617.7L747.9 487.3L748.1 427.9L748.3 427.9L748.3 427.9L748.5 427.9L748.7 487.7L748.9 618.9L749.1 749.5L749.3 850.9L749.5 923.1L749.7 973.7L749.9 1009.5L750.1 1035.4L750.3 1054.5L750.5 1068.9L750.7 1080.1L750.9 1088.8ZM814.1 1130.5L814.3 1128.8L814.5 1126.8L814.7 1124.2L814.9 1120.9L815.1 1116.7L815.3 1111.1L815.5 1104L815.7 1094.9L815.9 1084L816.1 1072.3L816.3 1062.6L816.5 1058.8L816.7 1058.8L816.7 1058.8L816.9 1058.8L817.1 1059.9L817.3 1062.9L817.5 1067.1L817.7 1071.8L817.9 1076.4L818.1 1080.6L818.3 1084.2L818.5 1087.3L818.7 1089.9L818.9 1092.1L819.1 1093.9L819.3 1095.7ZM819.4 1095.1L819.6 1093.8L819.8 1092L820 1089.9L820.2 1087.2L820.4 1083.6L820.6 1079L820.8 1073.1L821 1065.5L821.2 1056.4L821.4 1046.7L821.6 1038.7L821.8 1035.5L822 1035.5L822 1035.5L822.2 1035.5L822.4 1040.7L822.6 1053.6L822.8 1069.3L823 1084.1L823.2 1096.3L823.4 1105.9L823.6 1113.3L823.8 1119.1L824 1123.5L824.2 1127L824.4 1129.7L824.6 1131.9ZM836.6 1127.4L836.8 1126.3L837 1125.1L837.2 1123.6L837.4 1121.8L837.6 1119.7L837.8 1117.2L838 1114.3L838.2 1111.1L838.4 1107.8L838.6 1104.9L838.8 1102.9L839 1102.1L839.2 1102.1L839.2 1102.1L839.4 1102.1L839.6 1103L839.8 1105.5L840 1109L840.2 1112.9L840.4 1116.7L840.6 1120.2L840.8 1123.2L841 1125.8L841.2 1127.9L841.4 1129.7L841.6 1131.2L841.8 1132.5ZM880 1092.7L880.2 1092L880.4 1091.3L880.6 1086.4L880.8 1081.9L881 1076L881.2 1068.4L881.4 1058.6L881.6 1046L881.8 1031L882 1014.9L882.2 1001.6L882.4 996.3L882.6 996.3L882.6 996.3L882.8 996.3L883 1002.7L883.2 1018.9L883.4 1038.5L883.6 1056.8L883.8 1072L884 1084L884.2 1093.3L884.4 1100.4L884.6 1105.9L884.8 1110.3L885 1113.7L885.2 1116.4ZM920.7 1141.1L920.9 1139.2L921.1 1136.7L921.3 1133.7L921.5 1129.8L921.7 1124.7L921.9 1118.2L922.1 1109.7L922.3 1099L922.5 1086.1L922.7 1072.3L922.9 1060.9L923.1 1056.3L923.3 1056.3L923.3 1056.3L923.5 1056.3L923.7 1059.9L923.9 1069.1L924.1 1080.1L924.3 1090.5L924.5 1099.1L924.7 1105.9L924.9 1111.1L925.1 1115.1L925.3 1118.3L925.5 1120.7L925.7 1122.6L925.9 1124.2ZM959.9 1130.5L960.1 1127.5L960.3 1123.9L960.5 1119.3L960.7 1113.4L960.9 1105.9L961.1 1096L961.3 1083.3L961.5 1067.2L961.7 1047.7L961.9 1027L962.1 1009.8L962.3 1003L962.5 1003L962.5 1003L962.7 1003L962.9 1010.3L963.1 1028.7L963.3 1050.9L963.5 1071.6L963.7 1088.9L963.9 1102.5L964.1 1113L964.3 1121.1L964.5 1127.4L964.7 1132.3L964.9 1136.2L965.1 1139.4ZM997.7 1143.1L997.9 1139.5L998.1 1135L998.3 1129.4L998.5 1122.2L998.7 1113L998.9 1100.9L999.1 1085.4L999.3 1065.6L999.5 1041.8L999.7 1016.4L999.9 995.5L1000.1 987.1L1000.3 987.1L1000.3 987.1L1000.5 987.1L1000.7 995.3L1000.9 1015.7L1001.1 1040.5L1001.3 1063.8L1001.5 1083.1L1001.7 1098.2L1001.9 1110L1002.1 1119L1002.3 1126L1002.5 1131.5L1002.7 1135.9L1002.9 1139.4ZM1205.7 1156L1205.9 1151.7L1206.1 1146.3L1206.3 1139.5L1206.5 1130.8L1206.7 1119.6L1206.9 1105L1207.1 1086.2L1207.3 1062.3L1207.5 1033.5L1207.7 1002.8L1207.9 977.4L1208.1 967.3L1208.3 967.3L1208.3 967.3L1208.5 967.3L1208.7 977.3L1208.9 1002.2L1209.1 1032.5L1209.3 1060.8L1209.5 1084.3L1209.7 1102.9L1209.9 1117.2L1210.1 1128.2L1210.3 1136.8L1210.5 1143.5L1210.7 1148.8L1210.9 1153ZM1237.4 1166.3L1237.6 1164.5L1237.8 1162.3L1238 1159.5L1238.2 1156L1238.4 1151.4L1238.6 1145.4L1238.8 1137.8L1239 1128L1239.2 1116.2L1239.4 1103.7L1239.6 1093.3L1239.8 1089.2L1240 1089.2L1240 1089.2L1240.2 1089.2L1240.4 1093.5L1240.6 1104.1L1240.8 1117L1241 1129.1L1241.2 1139.1L1241.4 1147L1241.6 1153.1L1241.8 1157.8L1242 1161.5L1242.2 1164.3L1242.4 1166.6L1242.6 1168.4ZM1269.5 1165.9L1269.7 1163.8L1269.9 1161.3L1270.1 1158.1L1270.3 1153.9L1270.5 1148.6L1270.7 1141.8L1270.9 1132.8L1271.1 1121.5L1271.3 1107.9L1271.5 1093.3L1271.7 1081.3L1271.9 1076.5L1272.1 1076.5L1272.1 1076.5L1272.3 1076.5L1272.5 1081.1L1272.7 1092.7L1272.9 1106.7L1273.1 1119.8L1273.3 1130.7L1273.5 1139.3L1273.7 1146L1273.9 1151.1L1274.1 1155L1274.3 1158.1L1274.5 1160.6L1274.7 1162.6ZM1361.2 1165.6L1361.4 1164.5L1361.6 1163.1L1361.8 1161.5L1362 1159.5L1362.2 1157.2L1362.4 1154.4L1362.6 1151.3L1362.8 1147.8L1363 1144.3L1363.2 1141.1L1363.4 1138.8L1363.6 1138L1363.8 1138L1363.8 1138L1364 1138L1364.2 1138.9L1364.4 1141.5L1364.6 1145L1364.8 1149L1365 1152.9L1365.2 1156.4L1365.4 1159.5L1365.6 1162.1L1365.8 1164.3L1366 1166.2L1366.2 1167.7L1366.4 1169ZM1450.7 1159.6L1450.9 1157.7L1451.1 1155.4L1451.3 1152.5L1451.5 1148.8L1451.7 1144L1451.9 1137.8L1452.1 1129.7L1452.3 1119.5L1452.5 1107.1L1452.7 1094L1452.9 1083.1L1453.1 1078.8L1453.3 1078.8L1453.3 1078.8L1453.5 1078.8L1453.7 1083.4L1453.9 1094.8L1454.1 1108.7L1454.3 1121.7L1454.5 1132.5L1454.7 1141L1454.9 1147.6L1455.1 1152.6L1455.3 1156.5L1455.5 1159.6L1455.7 1162L1455.9 1164ZM1735.7 1175.7L1735.9 1174.3L1736.1 1172.6L1736.3 1170.5L1736.5 1168.1L1736.7 1165.2L1736.9 1161.8L1737.1 1157.9L1737.3 1153.6L1737.5 1149.3L1737.7 1145.3L1737.9 1142.5L1738.1 1141.5L1738.3 1141.5L1738.3 1141.5L1738.5 1141.5L1738.7 1142.5L1738.9 1145.2L1739.1 1149L1739.3 1153.2L1739.5 1157.3L1739.7 1161.1L1739.9 1164.4L1740.1 1167.2L1740.3 1169.5L1740.5 1171.5L1740.7 1173.1L1740.9 1174.4Z"/>
<path stroke="#373432" stroke-width="2.8" d="M184.2 1080.4L184.4 1084.4L184.6 1079.4L184.8 1083.2L185 1078.2L185.2 1081.8L185.4 1076.2L185.6 1080.6L185.8 1075.1L186 1079.2L186.2 1073.8L186.4 1077.7L186.6 1072.3L186.8 1076.4L187 1070.5L187.2 1074L187.4 1069.3L187.6 1072.5L187.8 1067.8L188 1071.1L188.2 1066.8L188.4 1069.9L188.6 1065L188.8 1068.6L189 1063.8L189.2 1067.3L189.4 1062.4L189.6 1065.9L189.8 1061.2L190 1064.6L190.2 1058.3L190.4 1063.2L190.6 1057.2L190.8 1062.1L191 1055.5L191.2 1060.7L191.4 1054.7L191.6 1059.3L191.8 1053.2L192 1058L192.2 1051.9L192.4 1056.7L192.6 1048.4L192.8 1060.2L193 1047.5L193.2 1060L193.4 1046.6L193.6 1058.1L193.8 1044.3L194 1056L194.2 1043.7L194.4 1054.8L194.6 1041.9L194.8 1054.9L195 1041L195.2 1052.2L195.4 1039.8L195.6 1050.4L195.8 1043.5L196 1049.3L196.2 1042.5L196.4 1048.6L196.6 1041.4L196.8 1046.9L197 1040.2L197.2 1045.6L197.4 1039.2L197.6 1044.7L197.8 1038L198 1043.3L198.2 1036.2L198.4 1041.8L198.6 1035.5L198.8 1040.6L199 1034.2L199.2 1039.2L199.4 1033.1L199.6 1038.6L199.8 1031.9L200 1037.4L200.2 1031L200.4 1036.2L200.6 1029.7L200.8 1036L201 1024.8L201.2 1031.3L201.4 1023.3L201.6 1030.3L201.8 1023L202 1029L202.2 1021.1L202.4 1028.4L202.6 1020.2L202.8 1027.1L203 1019.2L203.2 1025.8L203.4 1017.9L203.6 1025.6L203.8 1018.4L204 1029.2L204.2 1022.5L204.4 1028.8L204.6 1022.7L204.8 1028.9L205 1022.8L205.2 1029.3L205.4 1022.8L205.6 1029.4L205.8 1022.9L206 1028.8L206.2 1022.9L206.4 1028.9L206.6 1021.1L206.8 1027.7L207 1020.7L207.2 1028L207.4 1021.1L207.6 1028.1L207.8 1021L208 1028.3L208.2 1020.9L208.4 1028.6L208.6 1021.2L208.8 1029L209 1020.7L209.2 1028L209.4 1020.8L209.6 1028.1L209.8 1020.2L210 1027.6L210.2 1020.2L210.4 1028L210.6 1021.4L210.8 1027.6L211 1020.1L211.2 1028.1L211.4 1021.1L211.6 1027.7L211.8 1021.3L212 1027.9L212.2 1022.8L212.4 1028.3L212.6 1023.1L212.8 1029L213 1022.9L213.2 1028.2L213.4 1022.9L213.6 1028.8L213.8 1023.1L214 1029.1L214.2 1023.3L214.4 1029.4L214.6 1023.5L214.8 1028.9L215 1020.5L215.2 1027L215.4 1020.6L215.6 1027.2L215.8 1020.6L216 1027.4L216.2 1021.6L216.4 1027.4L216.6 1021.9L216.8 1027.7L217 1022.2L217.2 1027.9L217.4 1022.3L217.6 1028L217.8 1022L218 1033.9L218.2 1025L218.4 1033.2L218.6 1025.2L218.8 1034.1L219 1025.6L219.2 1034.7L219.4 1025.6L219.6 1034.3L219.8 1026L220 1035.5L220.2 1026.5L220.4 1035.1L220.6 1025.8L220.8 1032.7L221 1026L221.2 1034.1L221.4 1026L221.6 1033.6L221.8 1026.2L222 1034.1L222.2 1026.6L222.4 1035L222.6 1026.9L222.8 1034.8L223 1026.9L223.2 1034.3L223.4 1026.9L223.6 1033.2L223.8 1027.9L224 1033.6L224.2 1028L224.4 1033.4L224.6 1028.3L224.8 1033.8L225 1028.4L225.2 1034.4L225.4 1028.5L225.6 1034.4L225.8 1028.5L226 1034.1L226.2 1026.8L226.4 1036.8L226.6 1026L226.8 1037.1L227 1026.2L227.2 1036.6L227.4 1026.8L227.6 1036.6L227.8 1026.6L228 1037.2L228.2 1026.4L228.4 1036.2L228.6 1026.5L228.8 1037.7L229 1026.6L229.2 1034.4L229.4 1026.9L229.6 1034.4L229.8 1027.1L230 1035.5L230.2 1026.7L230.4 1035.2L230.6 1026.5L230.8 1035.5L231 1026.7L231.2 1035.2L231.4 1026.7L231.6 1035.4L231.8 1028.3L232 1034.8L232.2 1028.5L232.4 1034.8L232.6 1028.4L232.8 1035L233 1028.6L233.2 1034.2L233.4 1028.7L233.6 1035.1L233.8 1028.4L234 1034.9L234.2 1028.6L234.4 1035.2L234.6 1027.4L234.8 1034.2L235 1027.8L235.2 1034L235.4 1027.7L235.6 1034L235.8 1027.7L236 1034.4L236.2 1027.4L236.4 1033.8L236.6 1027.7L236.8 1033.8L237 1028L237.2 1034.7L237.4 1027.7L237.6 1035.6L237.8 1028.9L238 1034.4L238.2 1029L238.4 1035.3L238.6 1028.8L238.8 1035.8L239 1029L239.2 1035.1L239.4 1029.2L239.6 1035.4L239.8 1029.2L240 1034.8L240.2 1027.9L240.4 1034.8L240.6 1027.1L240.8 1035L241 1026.7L241.2 1035L241.4 1026.9L241.6 1035.1L241.8 1028.1L242 1035.7L242.2 1027.8L242.4 1035.7L242.6 1027.9L242.8 1035.1L243 1026.7L243.2 1037.7L243.4 1026.6L243.6 1037.7L243.8 1027.6L244 1037.6L244.2 1026.9L244.4 1037.3L244.6 1026.6L244.8 1037L245 1026.6L245.2 1037.9L245.4 1027.9L245.6 1036.8L245.8 1030.9L246 1035.2L246.2 1031.3L246.4 1035L246.6 1031.2L246.8 1035L247 1031.3L247.2 1035.4L247.4 1031.8L247.6 1035.5L247.8 1031.7L248 1035.7L248.2 1031.8L248.4 1035.6L248.6 1028.6L248.8 1036.2L249 1029L249.2 1036.5L249.4 1029.4L249.6 1036.5L249.8 1029.1L250 1037L250.2 1029.2L250.4 1036.9L250.6 1030L250.8 1036.7L251 1029.3L251.2 1037.3L251.4 1029.6L251.6 1037L251.8 1032.5L252 1037.8L252.2 1032.6L252.4 1037.6L252.6 1032.9L252.8 1037.6L253 1032.8L253.2 1037.7L253.4 1033.1L253.6 1038L253.8 1033.1L254 1038.4L254.2 1032.5L254.4 1037L254.6 1032.6L254.8 1037.4L255 1032.5L255.2 1037.8L255.4 1032.5L255.6 1037.4L255.8 1032.7L256 1038.1L256.2 1032.8L256.4 1038.1L256.6 1033.4L256.8 1038.5L257 1030.3L257.2 1043.6L257.4 1030.2L257.6 1043.1L257.8 1031.8L258 1043.6L258.2 1030.7L258.4 1043L258.6 1030.7L258.8 1044.2L259 1031.5L259.2 1043.5L259.4 1030.6L259.6 1043.1L259.8 1030.6L260 1041.9L260.2 1029.5L260.4 1042.6L260.6 1029.7L260.8 1041.1L261 1028.7L261.2 1041.9L261.4 1029.3L261.6 1041L261.8 1027.5L262 1040.9L262.2 1027.4L262.4 1039.2L262.6 1027.1L262.8 1036.8L263 1026.1L263.2 1035L263.4 1023.3L263.6 1032.8L263.8 1020.4L264 1029.2L264.2 1016.1L264.4 1023.8L264.6 1011.4L264.8 1019.8L265 1006.1L265.2 1010.8L265.4 1008.5L265.5 1009.6L265.6 1010.2L265.8 1009.6L266 1014.3L266.2 1013.3L266.4 1020.6L266.6 1020.5L266.8 1027.3L267 1026.5L267.2 1033.5L267.4 1031.5L267.6 1037.3L267.8 1034.9L268 1040.2L268.2 1033.3L268.4 1043.5L268.6 1034.5L268.8 1044.7L269 1035.4L269.2 1045.1L269.4 1037.6L269.6 1045.8L269.8 1038.1L270 1046.2L270.2 1038.7L270.4 1047.3L270.6 1038.1L270.8 1047.5L271 1038.2L271.2 1047.4L271.4 1039.7L271.6 1047.3L271.8 1039.4L272 1047.1L272.2 1038.9L272.4 1047.3L272.6 1039.5L272.8 1047.8L273 1039.1L273.2 1048L273.4 1040L273.6 1047.9L273.8 1040.5L274 1045.9L274.2 1039.6L274.4 1045.6L274.6 1040.8L274.8 1045.7L275 1040.4L275.2 1046L275.4 1039.8L275.6 1046L275.8 1040.9L276 1046.1L276.2 1040.2L276.4 1046.1L276.6 1044.2L276.8 1048L277 1044.6L277.2 1048.6L277.4 1044.3L277.6 1048.6L277.8 1044.6L278 1048.6L278.2 1044.5L278.4 1048.3L278.6 1044.7L278.8 1048.4L279 1044.9L279.2 1048.6L279.4 1044.2L279.6 1047.8L279.8 1044.3L280 1048.1L280.2 1044.5L280.4 1048.1L280.6 1044.4L280.8 1047.9L281 1043.9L281.2 1048L281.4 1044L281.6 1048.3L281.8 1044L282 1048.1L282.2 1044.9L282.4 1047.7L282.6 1044.8L282.8 1048L283 1045L283.2 1047.9L283.4 1045.1L283.6 1048.1L283.8 1045.1L284 1048.1L284.2 1045.3L284.4 1048L284.6 1045.4L284.8 1048.2L285 1042.4L285.2 1052.8L285.4 1042.1L285.6 1053.1L285.8 1042.7L286 1052.9L286.2 1043L286.4 1054.2L286.6 1042.9L286.8 1053L287 1042.7L287.2 1053.3L287.4 1042.1L287.6 1052.9L287.8 1043L288 1051.2L288.2 1043L288.4 1052.2L288.6 1043.5L288.8 1051.8L289 1043.4L289.2 1051.4L289.4 1043.4L289.6 1051.5L289.8 1042.8L290 1052.6L290.2 1042.7L290.4 1050.9L290.6 1042.7L290.8 1049.4L291 1042.8L291.2 1049.1L291.4 1042.4L291.6 1049.2L291.8 1042.5L292 1048.8L292.2 1042L292.4 1048L292.6 1042L292.8 1048.3L293 1041.2L293.2 1047.3L293.4 1040.4L293.6 1048.7L293.8 1040L294 1047.6L294.2 1039.2L294.4 1046.1L294.6 1037.2L294.8 1045.1L295 1036L295.2 1042.2L295.4 1033.6L295.6 1039.9L295.8 1029.9L296 1036.3L296.2 1029.7L296.4 1031.1L296.6 1029.9L296.7 1030.3L296.8 1031L297 1030.1L297.2 1034.6L297.4 1032.1L297.6 1039.2L297.8 1036.6L298 1043.9L298.2 1041.2L298.4 1047.8L298.6 1044.2L298.8 1050.5L299 1043.6L299.2 1051.1L299.4 1046.3L299.6 1052.6L299.8 1046.8L300 1053.5L300.2 1047.9L300.4 1054L300.6 1047.7L300.8 1054.6L301 1049.1L301.2 1055L301.4 1048.9L301.6 1055.1L301.8 1051.7L302 1054.6L302.2 1051.7L302.4 1054.5L302.6 1051.7L302.8 1054.8L303 1051.6L303.2 1054.6L303.4 1051.7L303.6 1054.7L303.8 1051.8L304 1054.6L304.2 1051.8L304.4 1055L304.6 1048.4L304.8 1059.4L305 1048.4L305.2 1059.4L305.4 1049.2L305.6 1060.2L305.8 1048.9L306 1058.9L306.2 1049.1L306.4 1059.1L306.6 1048.2L306.8 1058.7L307 1049.2L307.2 1059.9L307.4 1050.7L307.6 1057.3L307.8 1050.4L308 1058L308.2 1050.5L308.4 1058.2L308.6 1050.9L308.8 1058.4L309 1050.3L309.2 1057.3L309.4 1050.7L309.6 1057.7L309.8 1050.2L310 1057.2L310.2 1049.2L310.4 1057.8L310.6 1048.8L310.8 1057.7L311 1047.4L311.2 1056.6L311.4 1047.3L311.6 1056.8L311.8 1047L312 1055.9L312.2 1044.8L312.4 1054L312.6 1043.9L312.8 1052.7L313 1040.8L313.2 1051.7L313.4 1037.4L313.6 1049.8L313.8 1040.6L314 1042.6L314.2 1040.3L314.2 1041.3L314.4 1042.7L314.6 1040.5L314.8 1050.4L315 1038.6L315.2 1054.1L315.4 1042.5L315.6 1056.4L315.8 1046.4L316 1056.3L316.2 1050.9L316.4 1057.6L316.6 1052.9L316.8 1059.4L317 1054.1L317.2 1060.2L317.4 1055.1L317.6 1060.8L317.8 1055.4L318 1061L318.2 1056.1L318.4 1062.3L318.6 1058.2L318.8 1065.2L319 1058.5L319.2 1065.3L319.4 1058.6L319.6 1065.5L319.8 1059.1L320 1065.4L320.2 1059.2L320.4 1065.6L320.6 1059.4L320.8 1065.6L321 1059.3L321.2 1065.9L321.4 1056.6L321.6 1063.5L321.8 1056.5L322 1064L322.2 1056.8L322.4 1063.7L322.6 1056.5L322.8 1063.7L323 1056.7L323.2 1064.5L323.4 1057L323.6 1064.1L323.8 1057.2L324 1064.5L324.2 1058L324.4 1067.8L324.6 1058.1L324.8 1068.3L325 1057.9L325.2 1068.4L325.4 1058.3L325.6 1068.2L325.8 1058.1L326 1069.7L326.2 1058.1L326.4 1069.4L326.6 1058.2L326.8 1068.9L327 1056.7L327.2 1066.6L327.4 1057.2L327.6 1066.9L327.8 1057.4L328 1066.8L328.2 1058L328.4 1066.7L328.6 1057.5L328.8 1066.8L329 1057.2L329.2 1066.3L329.4 1057.5L329.6 1067L329.8 1057.6L330 1064.4L330.2 1060.3L330.4 1064L330.6 1059.7L330.8 1063.7L331 1059.5L331.2 1063.2L331.4 1059.5L331.6 1063L331.8 1058.6L332 1061.8L332.2 1057.6L332.4 1060.8L332.6 1054.6L332.8 1060.9L333 1053.1L333.2 1059.7L333.4 1050.4L333.6 1056.5L333.8 1051.7L334 1052.8L334.2 1051.4L334.2 1052.1L334.4 1052.9L334.6 1051.7L334.8 1057.8L335 1051.5L335.2 1060.9L335.4 1056.6L335.6 1062.3L335.8 1059.5L336 1064.7L336.2 1061.5L336.4 1066.5L336.6 1063.1L336.8 1067.7L337 1064.2L337.2 1068.4L337.4 1064.6L337.6 1068.9L337.8 1065L338 1069.4L338.2 1062.5L338.4 1069.9L338.6 1062.2L338.8 1070.1L339 1063.1L339.2 1070.2L339.4 1063.1L339.6 1070.5L339.8 1063.5L340 1070.5L340.2 1063.3L340.4 1070.6L340.6 1063.8L340.8 1071L341 1062.4L341.2 1072.5L341.4 1063.2L341.6 1072.4L341.8 1063.6L342 1072.5L342.2 1063.3L342.4 1073L342.6 1064.3L342.8 1073.5L343 1064.1L343.2 1073.6L343.4 1063.3L343.6 1073.8L343.8 1067.7L344 1073.1L344.2 1067.6L344.4 1072.8L344.6 1068.1L344.8 1073.6L345 1068L345.2 1074.1L345.4 1068.1L345.6 1073.8L345.8 1068.1L346 1074L346.2 1068.5L346.4 1074.3L346.6 1065.7L346.8 1071.7L347 1065.6L347.2 1071.9L347.4 1065.3L347.6 1072.1L347.8 1066L348 1072.1L348.2 1066.4L348.4 1072.3L348.6 1066.3L348.8 1072.6L349 1066L349.2 1072.9L349.4 1070.8L349.6 1075.5L349.8 1070.9L350 1076.2L350.2 1071.2L350.4 1075.9L350.6 1071.2L350.8 1075.7L351 1071.5L351.2 1076.6L351.4 1071.5L351.6 1076.3L351.8 1071.9L352 1076.8L352.2 1067.5L352.4 1076.1L352.6 1067.3L352.8 1076.3L353 1068.2L353.2 1075.8L353.4 1068.5L353.6 1076.2L353.8 1068.3L354 1075.9L354.2 1068.7L354.4 1076.4L354.6 1068.2L354.8 1076.1L355 1070L355.2 1076.1L355.4 1070.7L355.6 1076L355.8 1070.2L356 1075.9L356.2 1070.3L356.4 1075.7L356.6 1070.6L356.8 1076.5L357 1070.5L357.2 1076.4L357.4 1070.8L357.6 1076.2L357.8 1068.9L358 1077.3L358.2 1068.8L358.4 1077.7L358.6 1068.5L358.8 1077.8L359 1069.2L359.2 1077.3L359.4 1069.5L359.6 1078.1L359.8 1069.6L360 1077.3L360.2 1069.6L360.4 1077.9L360.6 1067.5L360.8 1077.5L361 1067.6L361.2 1077L361.4 1069L361.6 1077.7L361.8 1068.5L362 1077.7L362.2 1068.5L362.4 1077.2L362.6 1068.7L362.8 1077.2L363 1067.7L363.2 1077.7L363.4 1069.6L363.6 1076.4L363.8 1069.6L364 1076.2L364.2 1069L364.4 1076.6L364.6 1069L364.8 1076.5L365 1069.4L365.2 1076.5L365.4 1070.2L365.6 1077L365.8 1069.2L366 1076.6L366.2 1070.9L366.4 1076.9L366.6 1071.7L366.8 1076.9L367 1071L367.2 1076.9L367.4 1071L367.6 1076.8L367.8 1071.7L368 1077.1L368.2 1071.9L368.4 1076.9L368.6 1071.2L368.8 1077.1L369 1072.1L369.2 1078.5L369.4 1072.7L369.6 1078.6L369.8 1072.7L370 1079.2L370.2 1072.6L370.4 1078.8L370.6 1072.6L370.8 1078.6L371 1072.3L371.2 1078.4L371.4 1072.5L371.6 1078.1L371.8 1071L372 1077.6L372.2 1071.6L372.4 1077.4L372.6 1071.4L372.8 1077.3L373 1071.6L373.2 1077.5L373.4 1071.2L373.6 1077L373.8 1070.6L374 1076.9L374.2 1071L374.4 1077.3L374.6 1069.4L374.8 1076.5L375 1068.4L375.2 1076.8L375.4 1069.2L375.6 1076.2L375.8 1068.3L376 1076.2L376.2 1067.9L376.4 1075.9L376.6 1067.8L376.8 1076.1L377 1068.7L377.2 1075.9L377.4 1068.9L377.6 1074.9L377.8 1068.7L378 1074.9L378.2 1068.2L378.4 1074.5L378.6 1068.5L378.8 1074.5L379 1068.4L379.2 1074.5L379.4 1068.3L379.6 1074.1L379.8 1067.6L380 1073.7L380.2 1067.9L380.4 1072.5L380.6 1067.6L380.8 1072L381 1067.3L381.2 1071.3L381.4 1066.7L381.6 1070.2L381.8 1064.8L382 1068.8L382.2 1063.3L382.4 1066.9L382.6 1061.6L382.8 1065.4L383 1063.7L383.2 1064.9L383.3 1064.3L383.4 1063.7L383.6 1064.9L383.8 1061.8L384 1068L384.2 1062.6L384.4 1069.5L384.6 1064.2L384.8 1071.3L385 1064.9L385.2 1072.2L385.4 1065.6L385.6 1072.2L385.8 1067.8L386 1073.6L386.2 1067.9L386.4 1074.6L386.6 1068.4L386.8 1074.5L387 1068.4L387.2 1075L387.4 1068.8L387.6 1075.3L387.8 1068.9L388 1075.2L388.2 1069.1L388.4 1074.7L388.6 1068.2L388.8 1072.3L389 1068.4L389.2 1072.1L389.4 1068.9L389.6 1072.2L389.8 1068.8L390 1072.3L390.2 1068.7L390.4 1072.2L390.6 1068.8L390.8 1072.4L391 1068.9L391.2 1072.5L391.4 1064.7L391.6 1074.8L391.8 1065.3L392 1074.5L392.2 1064.6L392.4 1074.5L392.6 1065.8L392.8 1075L393 1064.5L393.2 1074.4L393.4 1065.7L393.6 1075.1L393.8 1064.8L394 1074.2L394.2 1069L394.4 1073.9L394.6 1068.6L394.8 1074L395 1068.6L395.2 1074.5L395.4 1069.1L395.6 1074.5L395.8 1069L396 1074.5L396.2 1068.7L396.4 1074.1L396.6 1069.2L396.8 1074.7L397 1070.3L397.2 1076.6L397.4 1070.2L397.6 1076.4L397.8 1070.1L398 1076.2L398.2 1070.3L398.4 1075.5L398.6 1070.2L398.8 1076L399 1070.3L399.2 1076.7L399.4 1070.5L399.6 1076.5L399.8 1068L400 1077.9L400.2 1067L400.4 1077.2L400.6 1067.4L400.8 1078.4L401 1067.3L401.2 1077.7L401.4 1067.8L401.6 1076.9L401.8 1067.7L402 1077.5L402.2 1067.9L402.4 1077.4L402.6 1069.3L402.8 1074.5L403 1068.9L403.2 1074.2L403.4 1069.2L403.6 1074.4L403.8 1069.1L404 1074.7L404.2 1069.2L404.4 1074.3L404.6 1068.7L404.8 1074.2L405 1069L405.2 1074.3L405.4 1067.4L405.6 1074.6L405.8 1067.5L406 1074.3L406.2 1067.6L406.4 1074.6L406.6 1067.9L406.8 1074.7L407 1067.4L407.2 1074.3L407.4 1068.1L407.6 1074.4L407.8 1068.2L408 1074.2L408.2 1068.4L408.4 1076L408.6 1067.9L408.8 1076.3L409 1068.6L409.2 1076.1L409.4 1068.2L409.6 1076.2L409.8 1068.5L410 1075.8L410.2 1068.7L410.4 1076.9L410.6 1067.9L410.8 1075.8L411 1067.9L411.2 1072.6L411.4 1068L411.6 1072.3L411.8 1068.1L412 1072.4L412.2 1068.3L412.4 1072.5L412.6 1068.5L412.8 1072.6L413 1067.9L413.2 1072.5L413.4 1067.7L413.6 1072.5L413.8 1067L414 1073.5L414.2 1067.1L414.4 1073.4L414.6 1066.1L414.8 1073.7L415 1066.9L415.2 1073.4L415.4 1066.3L415.6 1073.7L415.8 1065.9L416 1073.4L416.2 1066.1L416.4 1073.7L416.6 1067.3L416.8 1074.3L417 1067.9L417.2 1074.7L417.4 1067.8L417.6 1074.3L417.8 1067.6L418 1074.3L418.2 1067.3L418.4 1074.2L418.6 1068.1L418.8 1074.5L419 1067.5L419.2 1074.7L419.4 1068.6L419.6 1073.3L419.8 1068.4L420 1073.1L420.2 1068.9L420.4 1073.1L420.6 1069.2L420.8 1073.4L421 1069.5L421.2 1073.6L421.4 1069.6L421.6 1073.7L421.8 1069L422 1073.7L422.2 1068.5L422.4 1074.5L422.6 1068.5L422.8 1074.9L423 1068.9L423.2 1075.1L423.4 1067.9L423.6 1075.2L423.8 1068.6L424 1075L424.2 1068.5L424.4 1075.3L424.6 1068.9L424.8 1075.3L425 1072.5L425.2 1077.8L425.4 1072.5L425.6 1078.2L425.8 1072.9L426 1077.7L426.2 1072.9L426.4 1078.1L426.6 1073.1L426.8 1077.8L427 1073.3L427.2 1078.1L427.4 1073.3L427.6 1078.9L427.8 1072.5L428 1078.7L428.2 1072.6L428.4 1079L428.6 1072.9L428.8 1078.9L429 1073.2L429.2 1078.9L429.4 1073.2L429.6 1078.6L429.8 1073.3L430 1079.5L430.2 1073.5L430.4 1079.3L430.6 1071L430.8 1076.3L431 1070.4L431.2 1076.3L431.4 1071.4L431.6 1076.7L431.8 1071.2L432 1076.6L432.2 1071.1L432.4 1076.9L432.6 1071.3L432.8 1077L433 1071.5L433.2 1077.2L433.4 1072.4L433.6 1079.3L433.8 1072.8L434 1080.3L434.2 1072.5L434.4 1079.6L434.6 1072.3L434.8 1079.9L435 1073.3L435.2 1080.3L435.4 1073.2L435.6 1080.4L435.8 1073.1L436 1080.3L436.2 1074.6L436.4 1078L436.6 1074.7L436.8 1078.3L437 1075.1L437.2 1078.3L437.4 1075.1L437.6 1078.3L437.8 1074.7L438 1078.4L438.2 1074.8L438.4 1078.5L438.6 1075.2L438.8 1078.7L439 1075.2L439.2 1081L439.4 1075.2L439.6 1081.2L439.8 1075.8L440 1081.8L440.2 1075.5L440.4 1081.6L440.6 1075.9L440.8 1081.7L441 1076L441.2 1081.3L441.4 1075.8L441.6 1081.1L441.8 1075.9L442 1080.9L442.2 1076.2L442.4 1081.3L442.6 1076.1L442.8 1081.5L443 1076.1L443.2 1081.6L443.4 1076.2L443.6 1081.6L443.8 1076L444 1081.1L444.2 1076.1L444.4 1081.3L444.6 1074.2L444.8 1083.9L445 1074.2L445.2 1083.1L445.4 1074.7L445.6 1084L445.8 1074.2L446 1084.1L446.2 1075.2L446.4 1083.9L446.6 1075.2L446.8 1083.9L447 1074.5L447.2 1083.2L447.4 1074.5L447.6 1080.9L447.8 1075.2L448 1080.6L448.2 1075.1L448.4 1081L448.6 1075L448.8 1080.6L449 1075.6L449.2 1080.7L449.4 1074.9L449.6 1080.8L449.8 1075.2L450 1080.9L450.2 1078.4L450.4 1080.9L450.6 1078.5L450.8 1081L451 1078.3L451.2 1080.9L451.4 1078.1L451.6 1080.9L451.8 1078.3L452 1080.6L452.2 1078.2L452.4 1080.6L452.6 1077.9L452.8 1080.6L453 1073.9L453.2 1082.2L453.4 1072.6L453.6 1082.7L453.8 1073.2L454 1082.4L454.2 1073.5L454.4 1082.8L454.6 1073L454.8 1082.8L455 1072.7L455.2 1081.8L455.4 1073L455.6 1081.8L455.8 1076.3L456 1081.8L456.2 1076.4L456.4 1081.1L456.6 1076.2L456.8 1081.3L457 1075.9L457.2 1081L457.4 1075.8L457.6 1080.3L457.8 1075.4L458 1080.4L458.2 1075.2L458.4 1080.1L458.6 1072L458.8 1078.2L459 1072.3L459.2 1077.7L459.4 1071.1L459.6 1076.3L459.8 1069.4L460 1074.6L460.2 1067.3L460.4 1072.3L460.6 1064.2L460.8 1069.6L461 1062.2L461.2 1066.7L461.4 1062.6L461.6 1064.5L461.7 1063.3L461.8 1062.5L462 1064.6L462.2 1060.2L462.4 1071L462.6 1063.9L462.8 1075.2L463 1066.7L463.2 1078.7L463.4 1069.8L463.6 1080.2L463.8 1071.7L464 1082.5L464.2 1075.2L464.4 1084L464.6 1076.3L464.8 1084.7L465 1077L465.2 1084.6L465.4 1077.5L465.6 1085.4L465.8 1077.4L466 1086L466.2 1078.2L466.4 1085.9L466.6 1078.6L466.8 1086.3L467 1077.5L467.2 1083.6L467.4 1077.1L467.6 1084.2L467.8 1077.6L468 1084.5L468.2 1077.8L468.4 1084.1L468.6 1078L468.8 1084.3L469 1077.9L469.2 1084.8L469.4 1077.7L469.6 1085.1L469.8 1076.1L470 1085L470.2 1075.8L470.4 1084.2L470.6 1076.4L470.8 1084.7L471 1075.2L471.2 1084.5L471.4 1075.6L471.6 1084.6L471.8 1075.5L472 1084.3L472.2 1076.1L472.4 1085.1L472.6 1079.2L472.8 1084.4L473 1079.4L473.2 1084.3L473.4 1079.2L473.6 1084.8L473.8 1079.3L474 1084.6L474.2 1079.4L474.4 1084.8L474.6 1078.9L474.8 1084.8L475 1079.4L475.2 1084.9L475.4 1077.5L475.6 1087.4L475.8 1078.5L476 1087.7L476.2 1077.7L476.4 1087L476.6 1078.5L476.8 1086.8L477 1078.1L477.2 1087.9L477.4 1078L477.6 1088L477.8 1078.5L478 1087L478.2 1078.5L478.4 1085.7L478.6 1078.6L478.8 1085.5L479 1078.5L479.2 1084.6L479.4 1078.1L479.6 1084.3L479.8 1077.5L480 1084.1L480.2 1077.1L480.4 1083.8L480.6 1076.7L480.8 1082.8L481 1074.2L481.2 1079.3L481.4 1072.2L481.6 1077.6L481.8 1070.8L482 1075L482.2 1067.3L482.4 1071.9L482.6 1065L482.8 1069.1L483 1066.4L483.2 1067.4L483.3 1067.1L483.4 1066.3L483.6 1067.5L483.8 1064.3L484 1071.7L484.2 1067L484.4 1074.9L484.6 1070.1L484.8 1077.8L485 1073L485.2 1080.1L485.4 1074.8L485.6 1081.6L485.8 1075.6L486 1082.7L486.2 1076.9L486.4 1083.4L486.6 1079.2L486.8 1085.8L487 1079.9L487.2 1086.3L487.4 1080L487.6 1086.1L487.8 1080.6L488 1086.8L488.2 1080.6L488.4 1087.4L488.6 1080.8L488.8 1087.7L489 1080.8L489.2 1087.3L489.4 1080.9L489.6 1085.2L489.8 1080.8L490 1085.2L490.2 1080.6L490.4 1085.7L490.6 1080.6L490.8 1086.1L491 1080.5L491.2 1085.1L491.4 1080.5L491.6 1085.7L491.8 1080.2L492 1085L492.2 1080.2L492.4 1088L492.6 1080L492.8 1088.2L493 1079.7L493.2 1087.6L493.4 1079.8L493.6 1087.8L493.8 1079.6L494 1087.1L494.2 1079.2L494.4 1086.7L494.6 1079.3L494.8 1086.6L495 1078.1L495.2 1083.5L495.4 1077.8L495.6 1083.2L495.8 1078L496 1083.4L496.2 1077.6L496.4 1083.6L496.6 1077.9L496.8 1083.1L497 1078.2L497.2 1083.1L497.4 1077.9L497.6 1083L497.8 1077L498 1082.8L498.2 1076.3L498.4 1082.6L498.6 1075.7L498.8 1082.4L499 1076.2L499.2 1082.3L499.4 1075.6L499.6 1082.3L499.8 1076.3L500 1082L500.2 1075.2L500.4 1081.6L500.6 1074.8L500.8 1084.2L501 1073.4L501.2 1083.1L501.4 1072.9L501.6 1082.8L501.8 1072.2L502 1081.4L502.2 1070.1L502.4 1079.3L502.6 1068.4L502.8 1078L503 1071.9L503.2 1074.1L503.3 1073L503.4 1072.9L503.6 1074L503.8 1072.7L504 1078.5L504.2 1075L504.4 1080.4L504.6 1076.8L504.8 1082.3L505 1078.5L505.2 1083.9L505.4 1079.8L505.6 1084.8L505.8 1080.9L506 1086.2L506.2 1080.9L506.4 1086.8L506.6 1081.1L506.8 1087.7L507 1081.4L507.2 1088.4L507.4 1081.9L507.6 1087.5L507.8 1081.9L508 1088.4L508.2 1082.2L508.4 1088.1L508.6 1082.1L508.8 1087.9L509 1078.6L509.2 1085.7L509.4 1077.3L509.6 1085.9L509.8 1077.5L510 1085.7L510.2 1078L510.4 1085.7L510.6 1078L510.8 1085.7L511 1077.7L511.2 1085.6L511.4 1077.6L511.6 1085.9L511.8 1079.1L512 1087.8L512.2 1078.1L512.4 1088L512.6 1077.7L512.8 1086.4L513 1076.1L513.2 1086.4L513.4 1075.4L513.6 1084.4L513.8 1074.8L514 1082.8L514.2 1073.2L514.4 1080.4L514.6 1072.5L514.8 1078.2L515 1069L515.2 1073.9L515.4 1064.3L515.6 1068.2L515.8 1056.6L516 1059.7L516.2 1047.4L516.4 1050L516.6 1037.6L516.8 1037.8L517 1035.1L517.2 1035.5L517.2 1036.5L517.4 1034.5L517.6 1037.4L517.8 1034.3L518 1048.2L518.2 1045.5L518.4 1059L518.6 1056L518.8 1068.6L519 1064L519.2 1074.8L519.4 1068.3L519.6 1079.1L519.8 1072.6L520 1082.4L520.2 1077.5L520.4 1083.6L520.6 1079.6L520.8 1085.6L521 1080.3L521.2 1086.9L521.4 1082.2L521.6 1087.8L521.8 1082.7L522 1088.8L522.2 1083.6L522.4 1089.5L522.6 1084.1L522.8 1090.2L523 1084L523.2 1093.4L523.4 1085.2L523.6 1094.1L523.8 1085.5L524 1094.6L524.2 1086.9L524.4 1096L524.6 1088.1L524.8 1096.8L525 1088.9L525.2 1096.8L525.4 1088.2L525.6 1096.5L525.8 1089L526 1095.4L526.2 1088.4L526.4 1094.5L526.6 1087.8L526.8 1094.1L527 1087.1L527.2 1093.8L527.4 1086.8L527.6 1093.4L527.8 1086.5L528 1092.6L528.2 1086.3L528.4 1092.8L528.6 1086.3L528.8 1092.1L529 1085.8L529.2 1091.9L529.4 1085.6L529.6 1090.8L529.8 1084.7L530 1090.6L530.2 1084.3L530.4 1090.5L530.6 1083.7L530.8 1090L531 1083.8L531.2 1089.1L531.4 1080.1L531.6 1086.1L531.8 1080.6L532 1085.4L532.2 1079.9L532.4 1084.9L532.6 1079.3L532.8 1084.6L533 1078.6L533.2 1084L533.4 1078.8L533.6 1083.7L533.8 1077.4L534 1083.6L534.2 1079.5L534.4 1086.9L534.6 1079L534.8 1087.1L535 1079.4L535.2 1086.8L535.4 1079L535.6 1086.3L535.8 1078.9L536 1086L536.2 1078.6L536.4 1085.8L536.6 1078.7L536.8 1085.3L537 1076.6L537.2 1084.1L537.4 1076.9L537.6 1084.5L537.8 1076.6L538 1084L538.2 1076.4L538.4 1084.3L538.6 1076.4L538.8 1083.9L539 1075.3L539.2 1083.2L539.4 1075.6L539.6 1083.6L539.8 1077.8L540 1084.4L540.2 1077.9L540.4 1084.3L540.6 1077.5L540.8 1084.5L541 1077.4L541.2 1083.8L541.4 1076.9L541.6 1084.1L541.8 1076.8L542 1083.1L542.2 1076.2L542.4 1083.3L542.6 1077.2L542.8 1082.8L543 1076.2L543.2 1081.1L543.4 1075.1L543.6 1079.7L543.8 1073.7L544 1078.3L544.2 1071.4L544.4 1075.4L544.6 1068.2L544.8 1072.4L545 1064.5L545.2 1067.7L545.4 1061.9L545.6 1062.9L545.8 1061.5L545.8 1062.1L546 1063L546.2 1062.1L546.4 1068.5L546.6 1063.5L546.8 1073.8L547 1069.3L547.2 1079.1L547.4 1073.7L547.6 1083.3L547.8 1077.2L548 1085.8L548.2 1080.4L548.4 1087.9L548.6 1081.7L548.8 1089.4L549 1082.8L549.2 1089.6L549.4 1084L549.6 1090.3L549.8 1084.2L550 1090.9L550.2 1085.2L550.4 1092.1L550.6 1085.4L550.8 1091.7L551 1086.6L551.2 1090.4L551.4 1087L551.6 1090.4L551.8 1087.2L552 1090.9L552.2 1087.6L552.4 1091.4L552.6 1087.8L552.8 1091.7L553 1088.4L553.2 1091.7L553.4 1088.5L553.6 1091.8L553.8 1087.2L554 1092L554.2 1088.2L554.4 1092.3L554.6 1088.5L554.8 1092.7L555 1088.5L555.2 1092.9L555.4 1088.9L555.6 1093.1L555.8 1089.3L556 1093.6L556.2 1089.1L556.4 1093.9L556.6 1091.5L556.8 1093.4L557 1091.8L557.2 1093.8L557.4 1092L557.6 1094.1L557.8 1092.3L558 1094.4L558.2 1092.6L558.4 1094.5L558.6 1092.1L558.8 1093.6L559 1091.1L559.2 1092.5L559.4 1088.7L559.6 1091.9L559.8 1087.7L560 1091L560.2 1086.9L560.4 1090L560.6 1085.6L560.8 1089.1L561 1084.6L561.2 1088.4L561.4 1084.3L561.6 1087.8L561.8 1083.4L562 1087.2L562.2 1084.6L562.4 1086.7L562.6 1083.7L562.8 1085.8L563 1082.5L563.2 1084.2L563.4 1080.5L563.6 1081.8L563.8 1077.7L564 1078.6L564.2 1073.6L564.4 1073.8L564.6 1068.1L564.8 1067.6L565 1061.5L565.2 1064.2L565.4 1057.6L565.6 1058.1L565.8 1056.9L565.8 1057.1L566 1058.1L566.2 1057.5L566.4 1063.6L566.6 1061.1L566.8 1069.9L567 1066.5L567.2 1074.9L567.4 1071.4L567.6 1078.9L567.8 1074L568 1080L568.2 1076.9L568.4 1081.7L568.6 1078.3L568.8 1083.1L569 1079.4L569.2 1084.3L569.4 1080.8L569.6 1084.7L569.8 1080.1L570 1084L570.2 1079.5L570.4 1083.4L570.6 1078.3L570.8 1080.3L571 1077L571.2 1078.7L571.4 1074.8L571.6 1076.3L571.8 1072.6L572 1073.2L572.2 1068.6L572.4 1068.6L572.6 1063.2L572.8 1062.2L573 1055.9L573.2 1054.1L573.4 1044.8L573.6 1047.5L573.8 1041.5L574 1041.8L574.2 1040.5L574.2 1041.3L574.4 1041.8L574.6 1041.5L574.8 1048.3L575 1045.9L575.2 1057.5L575.4 1056.3L575.6 1067.5L575.8 1064.6L576 1075L576.2 1073.7L576.4 1080.1L576.6 1077.7L576.8 1083.8L577 1080.9L577.2 1086L577.4 1083.3L577.6 1088L577.8 1084.5L578 1088.8L578.2 1084.1L578.4 1088.1L578.6 1083.3L578.8 1086.8L579 1080.7L579.2 1085.8L579.4 1079.1L579.6 1084L579.8 1077.3L580 1080.9L580.2 1073.6L580.4 1076.8L580.6 1068.8L580.8 1071.7L581 1063.6L581.2 1067.2L581.4 1062.7L581.6 1063.6L581.7 1063L581.8 1062.6L582 1063.4L582.2 1062.1L582.4 1068.6L582.6 1068.5L582.8 1075.3L583 1075.2L583.2 1081.4L583.4 1080.5L583.6 1086L583.8 1084.4L584 1089.3L584.2 1087.2L584.4 1091.6L584.6 1088.7L584.8 1095.2L585 1089.5L585.2 1096.5L585.4 1090.5L585.6 1098L585.8 1091.5L586 1097.8L586.2 1092.4L586.4 1099.1L586.6 1092.8L586.8 1099.1L587 1092.9L587.2 1099L587.4 1094.9L587.6 1096.7L587.8 1095.1L588 1097L588.2 1095.4L588.4 1097.2L588.6 1095.7L588.8 1097.6L589 1096.1L589.2 1097.9L589.4 1096.3L589.6 1098.3L589.8 1096.6L590 1098.5L590.2 1096.8L590.4 1102.4L590.6 1097.2L590.8 1102.8L591 1097.5L591.2 1102.7L591.4 1097.8L591.6 1103L591.8 1098.4L592 1103.2L592.2 1098.7L592.4 1104L592.6 1099L592.8 1104.7L593 1098.3L593.2 1103.5L593.4 1098L593.6 1102.9L593.8 1097L594 1102.3L594.2 1096.7L594.4 1101L594.6 1095.3L594.8 1100.4L595 1094.2L595.2 1098.4L595.4 1091.9L595.6 1096.3L595.8 1089.3L596 1093.9L596.2 1085.3L596.4 1089.3L596.6 1080.1L596.8 1082.8L597 1072.1L597.2 1073.4L597.4 1062.7L597.6 1063.4L597.8 1053.5L598 1054.8L598.2 1053.3L598.3 1053.8L598.4 1054.5L598.6 1053.6L598.8 1057.5L599 1057.5L599.2 1066.3L599.4 1066.7L599.6 1076.2L599.8 1075.7L600 1083.7L600.2 1082.5L600.4 1089.4L600.6 1086.8L600.8 1093.2L601 1090.3L601.2 1095.7L601.4 1094.1L601.6 1099.6L601.8 1095.7L602 1100.5L602.2 1096.9L602.4 1101.7L602.6 1098.2L602.8 1103L603 1098.6L603.2 1103.4L603.4 1099.5L603.6 1104L603.8 1099.5L604 1104.4L604.2 1100L604.4 1103.8L604.6 1100.3L604.8 1104L605 1100.8L605.2 1104.4L605.4 1101L605.6 1104.8L605.8 1101.6L606 1105.2L606.2 1101.8L606.4 1105.5L606.6 1102.3L606.8 1105.9L607 1101.6L607.2 1105.1L607.4 1102L607.6 1105.4L607.8 1102.7L608 1105.8L608.2 1103.1L608.4 1106.2L608.6 1103L608.8 1106.6L609 1103.4L609.2 1106.9L609.4 1103.7L609.6 1107.3L609.8 1103.6L610 1109.2L610.2 1103.4L610.4 1108.2L610.6 1103.3L610.8 1107.7L611 1102.1L611.2 1106.9L611.4 1101.7L611.6 1106.6L611.8 1100.9L612 1105.4L612.2 1100.5L612.4 1104.8L612.6 1100.9L612.8 1103.1L613 1099.9L613.2 1102.2L613.4 1099.2L613.6 1101.3L613.8 1098.4L614 1100.3L614.2 1096.9L614.4 1098.9L614.6 1095.4L614.8 1096.6L615 1092.8L615.2 1093.7L615.4 1088L615.6 1092.7L615.8 1083.2L616 1087.6L616.2 1079.3L616.4 1082.1L616.6 1080.6L616.7 1081.3L616.8 1082L617 1080.9L617.2 1086.7L617.4 1081.6L617.6 1090.4L617.8 1086L618 1095.5L618.2 1091.8L618.4 1098.6L618.6 1095.3L618.8 1101.7L619 1097.7L619.2 1103.7L619.4 1099.5L619.6 1104.9L619.8 1100.6L620 1105.7L620.2 1100.8L620.4 1104.5L620.6 1099.2L620.8 1103.6L621 1097.9L621.2 1101.3L621.4 1096.3L621.6 1099L621.8 1093.6L622 1096.5L622.2 1089.9L622.4 1091.7L622.6 1084.5L622.8 1085.8L623 1077.3L623.2 1077.1L623.4 1068.8L623.6 1069.1L623.8 1063.2L624 1063.1L624.2 1062.3L624.2 1063L624.4 1063.1L624.6 1063.4L624.8 1067.5L625 1067.5L625.2 1076.4L625.4 1076.8L625.6 1084.9L625.8 1084.1L626 1091.5L626.2 1089.9L626.4 1096.3L626.6 1095.6L626.8 1102.4L627 1098.2L627.2 1105.1L627.4 1100.2L627.6 1106.7L627.8 1102.1L628 1107.5L628.2 1103.1L628.4 1109L628.6 1103.4L628.8 1109L629 1104.2L629.2 1110.1L629.4 1105L629.6 1108.1L629.8 1104L630 1107.5L630.2 1103.4L630.4 1106.8L630.6 1102.7L630.8 1105.9L631 1101.9L631.2 1105.5L631.4 1101L631.6 1104.6L631.8 1100.3L632 1103.6L632.2 1099.3L632.4 1101.1L632.6 1098.6L632.8 1099.7L633 1097.2L633.2 1098.3L633.4 1095.2L633.6 1096.2L633.8 1092.8L634 1092.9L634.2 1088.7L634.4 1088L634.6 1082.4L634.8 1079.6L635 1072.9L635.2 1068.6L635.4 1055.3L635.6 1047.7L635.8 1033.4L636 1027.5L636.2 1025.7L636.3 1025.8L636.4 1026.4L636.6 1026L636.8 1031.6L637 1030.7L637.2 1038.1L637.4 1038.5L637.6 1045.6L637.8 1044.7L638 1051.7L638.2 1049.9L638.4 1056.6L638.6 1053.7L638.8 1059L639 1056L639.2 1061.4L639.4 1055.7L639.6 1056.8L639.8 1048.5L640 1048L640.2 1038.5L640.4 1036.1L640.6 1023.8L640.8 1016.9L641 1000.9L641.2 988L641.4 963.7L641.6 938.8L641.8 897.8L642 848.9L642.2 771.9L642.4 669.8L642.6 518.8L642.8 331.3L643 137.4L643.2 50.8L643.4 50.3L643.4 50L643.6 50.6L643.8 138L644 332.6L644.2 522.3L644.4 673.8L644.6 777.4L644.8 854.7L645 904.6L645.2 945.4L645.4 970.7L645.6 994.6L645.8 1008.5L646 1024L646.2 1029.7L646.4 1042L646.6 1045L646.8 1054.4L647 1058.8L647.2 1061.5L647.4 1056.6L647.6 1059.1L647.8 1054.2L648 1056L648.2 1050.8L648.4 1052.2L648.6 1046.8L648.8 1048.6L649 1047.8L649.2 1048L649.2 1048.3L649.4 1047.7L649.6 1049.7L649.8 1052.3L650 1060.3L650.2 1064.1L650.4 1072.8L650.6 1075.6L650.8 1083.2L651 1084.6L651.2 1090.6L651.4 1090.9L651.6 1095.8L651.8 1095.5L652 1099.1L652.2 1098.6L652.4 1101.5L652.6 1100.9L652.8 1103.6L653 1102.5L653.2 1105.1L653.4 1103.7L653.6 1106.1L653.8 1104.7L654 1106.9L654.2 1105.7L654.4 1108.1L654.6 1105.7L654.8 1111.2L655 1107.1L655.2 1112.1L655.4 1108.6L655.6 1113.7L655.8 1109.6L656 1114.7L656.2 1111.2L656.4 1116L656.6 1112.5L656.8 1117.6L657 1113.4L657.2 1119L657.4 1115.1L657.6 1118.9L657.8 1116.6L658 1120.2L658.2 1117.8L658.4 1120.6L658.6 1117L658.8 1119.4L659 1115.9L659.2 1118L659.4 1114.5L659.6 1116.9L659.8 1113L660 1115.4L660.2 1112.8L660.4 1114.2L660.6 1111.7L660.8 1113.1L661 1110.3L661.2 1111.7L661.4 1109L661.6 1110.4L661.8 1107.6L662 1108.6L662.2 1105.9L662.4 1107.4L662.6 1104.5L662.8 1105.4L663 1102.1L663.2 1104.3L663.4 1099.1L663.6 1100.9L663.8 1095L664 1096.3L664.2 1089.7L664.4 1091.4L664.6 1086.7L664.8 1086.9L665 1086.1L665 1086.3L665.2 1086.8L665.4 1086.5L665.6 1091.2L665.8 1088.2L666 1094.5L666.2 1092.4L666.4 1098.3L666.6 1095.9L666.8 1100.9L667 1098.4L667.2 1102.9L667.4 1099.9L667.6 1104.5L667.8 1100.6L668 1103.6L668.2 1099.2L668.4 1101.9L668.6 1098.1L668.8 1098.7L669 1094.8L669.2 1094.8L669.4 1089.7L669.6 1088L669.8 1081L670 1076.8L670.2 1066.8L670.4 1059.4L670.6 1046.9L670.8 1039.3L671 1035.4L671.2 1035.5L671.2 1035.9L671.4 1035.3L671.6 1039.6L671.8 1047.7L672 1061.7L672.2 1070.2L672.4 1081.4L672.6 1086.1L672.8 1094.3L673 1095.8L673.2 1101.5L673.4 1101.7L673.6 1106L673.8 1105.3L674 1109.3L674.2 1107.2L674.4 1111L674.6 1108.9L674.8 1112.5L675 1109.8L675.2 1113.7L675.4 1110.9L675.6 1114.1L675.8 1111.7L676 1114.7L676.2 1111.9L676.4 1115.3L676.6 1112.2L676.8 1115.8L677 1112.1L677.2 1114.7L677.4 1112.4L677.6 1114.9L677.8 1112.9L678 1115.1L678.2 1112.9L678.4 1114.9L678.6 1111.9L678.8 1113.2L679 1110L679.2 1111.6L679.4 1108.3L679.6 1110L679.8 1107.5L680 1108.6L680.2 1104.8L680.4 1106.3L680.6 1101.8L680.8 1102.6L681 1098L681.2 1097.5L681.4 1091.3L681.6 1089.3L681.8 1081L682 1075.8L682.2 1063L682.4 1053L682.6 1035L682.8 1022.6L683 1006.3L683.2 1001.7L683.4 1001.3L683.4 1001L683.6 1001.7L683.8 1005L684 1017.8L684.2 1026.4L684.4 1041.8L684.6 1048L684.8 1059.5L685 1061.5L685.2 1069.5L685.4 1069.7L685.6 1074.3L685.8 1070.3L686 1071.3L686.2 1067L686.4 1068.5L686.6 1066.1L686.8 1066.6L686.9 1066.3L687 1066.1L687.2 1067.3L687.4 1071.4L687.6 1082.4L687.8 1088.6L688 1099L688.2 1102.4L688.4 1108.8L688.6 1110.9L688.8 1115.4L689 1116.1L689.2 1119.3L689.4 1119.1L689.6 1121.9L689.8 1121.4L690 1123.6L690.2 1122.5L690.4 1124.7L690.6 1123.7L690.8 1125.6L691 1124.8L691.2 1127.5L691.4 1125.3L691.6 1127.7L691.8 1126.1L692 1128.9L692.2 1126.6L692.4 1129.1L692.6 1127.4L692.8 1129.8L693 1127.8L693.2 1130.4L693.4 1128.4L693.6 1131.3L693.8 1128L694 1132.5L694.2 1128.8L694.4 1132.7L694.6 1129.6L694.8 1133.6L695 1130.1L695.2 1134L695.4 1129.7L695.6 1133.5L695.8 1129.6L696 1133.4L696.2 1129.7L696.4 1133.3L696.6 1129.5L696.8 1133.7L697 1129.9L697.2 1133.1L697.4 1129.8L697.6 1133.2L697.8 1129.6L698 1133L698.2 1129.5L698.4 1132.8L698.6 1129.1L698.8 1132.1L699 1129L699.2 1131.8L699.4 1127.9L699.6 1129.5L699.8 1127.1L700 1128.5L700.2 1125.8L700.4 1127L700.6 1123.8L700.8 1125.1L701 1122.2L701.2 1123.4L701.4 1122.1L701.6 1122.4L701.7 1122.3L701.8 1122L702 1122.5L702.2 1121L702.4 1124.3L702.6 1123.6L702.8 1127L703 1125.8L703.2 1129.4L703.4 1128.3L703.6 1131.1L703.8 1129.7L704 1132.4L704.2 1130.8L704.4 1133.2L704.6 1131.1L704.8 1133.9L705 1132.5L705.2 1135.5L705.4 1132.8L705.6 1136L705.8 1132.9L706 1136.2L706.2 1133.2L706.4 1136.3L706.6 1133.3L706.8 1136.5L707 1133.1L707.2 1136.4L707.4 1133L707.6 1136.3L707.8 1132.8L708 1135.3L708.2 1132.9L708.4 1135L708.6 1132.1L708.8 1134.5L709 1131.6L709.2 1133.8L709.4 1130.8L709.6 1133L709.8 1129.9L710 1131.7L710.2 1128.6L710.4 1130L710.6 1126.6L710.8 1127.7L711 1125.4L711.2 1125.9L711.4 1124.3L711.6 1124.5L711.7 1124.3L711.8 1124.2L712 1124.6L712.2 1124.5L712.4 1126.9L712.6 1126.8L712.8 1129.3L713 1129.2L713.2 1131.5L713.4 1130.3L713.6 1133.2L713.8 1131.5L714 1134.2L714.2 1132.6L714.4 1135.1L714.6 1133.2L714.8 1135.7L715 1133.8L715.2 1135.9L715.4 1134.1L715.6 1136.3L715.8 1134.4L716 1136.6L716.2 1134.7L716.4 1138.5L716.6 1135.3L716.8 1138.7L717 1135.5L717.2 1139.1L717.4 1135.7L717.6 1139.4L717.8 1136.2L718 1139.9L718.2 1136.5L718.4 1140L718.6 1137.3L718.8 1140.5L719 1137.6L719.2 1140.6L719.4 1138.2L719.6 1141.3L719.8 1138.3L720 1141.3L720.2 1138.5L720.4 1141.4L720.6 1138.2L720.8 1141.1L721 1137.9L721.2 1140.6L721.4 1137.8L721.6 1140.1L721.8 1137.1L722 1139.8L722.2 1137.1L722.4 1139.5L722.6 1136.1L722.8 1138.4L723 1135L723.2 1137L723.4 1133.4L723.6 1135L723.8 1131.4L724 1132.2L724.2 1128.2L724.4 1128.6L724.6 1123.8L724.8 1122.7L725 1118.3L725.2 1117.9L725.4 1115L725.6 1114.8L725.8 1114.4L725.8 1114.6L726 1114.8L726.2 1115L726.4 1117.7L726.6 1118.3L726.8 1122.8L727 1123.5L727.2 1127.8L727.4 1128.1L727.6 1132.1L727.8 1131.3L728 1134.7L728.2 1133.6L728.4 1136.6L728.6 1135.1L728.8 1137.9L729 1136.1L729.2 1138.8L729.4 1137L729.6 1139.3L729.8 1137.7L730 1140.1L730.2 1137.9L730.4 1140.2L730.6 1138.1L730.8 1140.5L731 1138.5L731.2 1140.6L731.4 1138.8L731.6 1141L731.8 1138.7L732 1140.3L732.2 1137.6L732.4 1139.2L732.6 1136.8L732.8 1138.2L733 1136.6L733.2 1137L733.4 1135.6L733.6 1136.1L733.8 1134.7L734 1135.1L734.2 1133.7L734.4 1134.1L734.6 1132.8L734.8 1133.2L735 1131.5L735.2 1131.9L735.4 1130.5L735.6 1130.9L735.8 1129.4L736 1129.1L736.2 1126.9L736.4 1127L736.6 1124.5L736.8 1124.1L737 1121L737.2 1120.1L737.4 1116.3L737.6 1115L737.8 1111.3L738 1110.4L738.2 1108.7L738.4 1108.8L738.5 1108.8L738.6 1108.6L738.8 1109.1L739 1108.6L739.2 1112.4L739.4 1112L739.6 1116.5L739.8 1116.4L740 1120.3L740.2 1119.6L740.4 1123L740.6 1121.8L740.8 1124.9L741 1123.6L741.2 1126.3L741.4 1125.2L741.6 1126.9L741.8 1125.8L742 1126.2L742.2 1124.3L742.4 1124.7L742.6 1122.7L742.8 1123.2L743 1121L743.2 1121.6L743.4 1119.7L743.6 1120.1L743.8 1118L744 1116.8L744.2 1114.4L744.4 1113.6L744.6 1109.8L744.8 1108L745 1103.5L745.2 1100.6L745.4 1094.2L745.6 1089.3L745.8 1080.4L746 1071.8L746.2 1058L746.4 1042.7L746.6 1019.5L746.8 990.5L747 946.7L747.2 887.9L747.4 801.2L747.6 686L747.8 548.3L748 443.9L748.2 427.8L748.3 427.9L748.4 428L748.6 443.7L748.8 550.2L749 686.5L749.2 804.7L749.4 889.5L749.6 951.2L749.8 992.4L750 1024.5L750.2 1045.2L750.4 1063.6L750.6 1074.4L750.8 1086L751 1092L751.2 1100L751.4 1103.4L751.6 1109L751.8 1111L752 1115.7L752.2 1116.5L752.4 1120L752.6 1120.4L752.8 1122.6L753 1124.5L753.2 1126L753.4 1125.9L753.6 1127.4L753.8 1127.3L754 1128.8L754.2 1128.8L754.4 1130.2L754.6 1130.2L754.8 1131.7L755 1131.7L755.2 1133.2L755.4 1132.7L755.6 1135.6L755.8 1134.1L756 1137.1L756.2 1135.8L756.4 1138.6L756.6 1137.2L756.8 1139.8L757 1137.8L757.2 1139.9L757.4 1138.1L757.6 1140.4L757.8 1138.6L758 1140.8L758.2 1139.3L758.4 1140.4L758.6 1139.7L758.8 1140.8L759 1140L759.2 1141.2L759.4 1140.5L759.6 1141.6L759.8 1140.9L760 1142L760.2 1141.3L760.4 1142.4L760.6 1141.7L760.8 1142.8L761 1142.2L761.2 1143.7L761.4 1142.6L761.6 1144.3L761.8 1143L762 1144.8L762.2 1143.4L762.4 1145L762.6 1143.8L762.8 1145.5L763 1144.2L763.2 1145.8L763.4 1144.6L763.6 1146.3L763.8 1145L764 1146.4L764.2 1145.1L764.4 1146.8L764.6 1145.5L764.8 1147L765 1145.8L765.2 1147.4L765.4 1146.4L765.6 1147.9L765.8 1146.7L766 1148.4L766.2 1147L766.4 1148.7L766.6 1147.5L766.8 1149L767 1147.1L767.2 1148.6L767.4 1146.9L767.6 1148.1L767.8 1146.6L768 1147.9L768.2 1146.1L768.4 1147.6L768.6 1145.7L768.8 1147.3L769 1145.6L769.2 1146.8L769.4 1145.8L769.6 1147.1L769.8 1145.5L770 1146.8L770.2 1145.1L770.4 1146.3L770.6 1144.6L770.8 1145.8L771 1144L771.2 1145L771.4 1143.3L771.6 1144.4L771.8 1142.4L772 1143.3L772.2 1140.7L772.4 1140.9L772.6 1138.8L772.8 1138.7L773 1136L773.2 1135.6L773.4 1132.8L773.6 1132.6L773.8 1130.6L774 1130.4L774.2 1130.2L774.2 1130.3L774.4 1130.5L774.6 1130.7L774.8 1132.6L775 1133.3L775.2 1136.1L775.4 1137L775.6 1139.5L775.8 1140L776 1142.2L776.2 1142.2L776.4 1143.9L776.6 1143.8L776.8 1145.3L777 1144.9L777.2 1146.2L777.4 1145.7L777.6 1146.9L777.8 1146.3L778 1147.5L778.2 1146.1L778.4 1148.1L778.6 1146.4L778.8 1148.2L779 1146.7L779.2 1148.5L779.4 1147L779.6 1148.6L779.8 1147.2L780 1148.8L780.2 1147.2L780.4 1148.7L780.6 1146.8L780.8 1148.4L781 1146.9L781.2 1148.1L781.4 1146.7L781.6 1147.9L781.8 1146.4L782 1147.4L782.2 1146L782.4 1147L782.6 1145.5L782.8 1146.4L783 1144.6L783.2 1145.4L783.4 1143.2L783.6 1144.2L783.8 1141.7L784 1142.3L784.2 1139.7L784.4 1140.6L784.6 1138.9L784.8 1139L785 1138.7L785 1138.8L785.2 1139L785.4 1139L785.6 1140.8L785.8 1140.6L786 1143.5L786.2 1143.6L786.4 1145.4L786.6 1146L786.8 1147.4L787 1147.6L787.2 1148.9L787.4 1148.8L787.6 1149.8L787.8 1149.6L788 1150.5L788.2 1150.2L788.4 1151L788.6 1150.7L788.8 1151.3L789 1150.9L789.2 1152.3L789.4 1151.1L789.6 1152.7L789.8 1151.2L790 1152.7L790.2 1151.3L790.4 1153L790.6 1151.5L790.8 1153L791 1151.6L791.2 1153.2L791.4 1151.7L791.6 1153.1L791.8 1151.8L792 1152.8L792.2 1151.5L792.4 1152.9L792.6 1151.6L792.8 1153L793 1151.5L793.2 1152.9L793.4 1151.6L793.6 1152.8L793.8 1151.3L794 1152.7L794.2 1151.1L794.4 1152.4L794.6 1151.1L794.8 1152.4L795 1151.4L795.2 1152.1L795.4 1151.3L795.6 1152L795.8 1151.1L796 1151.8L796.2 1150.9L796.4 1151.6L796.6 1150.6L796.8 1151.4L797 1150.4L797.2 1151.1L797.4 1150.1L797.6 1150.6L797.8 1150L798 1150.4L798.2 1149.7L798.4 1150.2L798.6 1149.5L798.8 1150L799 1149.4L799.2 1149.8L799.4 1149.2L799.6 1149.6L799.8 1149L800 1149.4L800.2 1148.6L800.4 1149.8L800.6 1148.3L800.8 1149.6L801 1148.2L801.2 1149.3L801.4 1148L801.6 1149L801.8 1147.8L802 1148.8L802.2 1147.7L802.4 1148.7L802.6 1147.5L802.8 1148.6L803 1146.7L803.2 1147.9L803.4 1146.7L803.6 1147.7L803.8 1146.4L804 1147.5L804.2 1146.3L804.4 1147.3L804.6 1146L804.8 1147.1L805 1146L805.2 1146.7L805.4 1145.4L805.6 1146.2L805.8 1144.9L806 1146L806.2 1144.4L806.4 1145.4L806.6 1143.8L806.8 1145L807 1143.3L807.2 1144.4L807.4 1142.8L807.6 1144L807.8 1142.2L808 1143.4L808.2 1141.8L808.4 1142.9L808.6 1141.6L808.8 1142.5L809 1141.2L809.2 1142.2L809.4 1140.5L809.6 1141.5L809.8 1140.1L810 1141L810.2 1139.6L810.4 1140.4L810.6 1139L810.8 1140L811 1138.5L811.2 1139.4L811.4 1137.3L811.6 1138.3L811.8 1136.4L812 1137.6L812.2 1136.1L812.4 1137.1L812.6 1135.4L812.8 1136.2L813 1134.5L813.2 1135.1L813.4 1133.1L813.6 1133.7L813.8 1131.3L814 1131.4L814.2 1129L814.4 1128.7L814.6 1125L814.8 1123.4L815 1118.3L815.2 1115L815.4 1107.2L815.6 1100.5L815.8 1089L816 1079L816.2 1066.3L816.4 1060L816.6 1058.7L816.7 1058.8L816.8 1059L817 1058.9L817.2 1061.8L817.4 1064.1L817.6 1070.1L817.8 1073.5L818 1079.1L818.2 1081.7L818.4 1086.4L818.6 1087.9L818.8 1091.6L819 1092.3L819.2 1095.3L819.4 1094.4L819.6 1094.5L819.8 1091.4L820 1090.6L820.2 1086.4L820.4 1084.2L820.6 1078.1L820.8 1073.7L821 1064.8L821.2 1057L821.4 1045.8L821.6 1038.8L821.8 1035.3L822 1035.5L822 1035.6L822.2 1035.3L822.4 1040.8L822.6 1053L822.8 1070.2L823 1083.5L823.2 1097.1L823.4 1105.2L823.6 1114L823.8 1118.5L824 1124.2L824.2 1126.4L824.4 1130.4L824.6 1131.4L824.8 1134.4L825 1134.5L825.2 1137.1L825.4 1136.6L825.6 1138.7L825.8 1138.1L826 1140L826.2 1139.3L826.4 1141.1L826.6 1140.2L826.8 1141.8L827 1140.9L827.2 1142.5L827.4 1141.5L827.6 1142.9L827.8 1141.9L828 1143.3L828.2 1142.9L828.4 1143.6L828.6 1142.5L828.8 1142.9L829 1141.7L829.2 1142.1L829.4 1140.9L829.6 1141.3L829.8 1140.1L830 1140.5L830.2 1139.3L830.4 1139.6L830.6 1138.5L830.8 1138.8L831 1137.7L831.2 1137.8L831.4 1136.9L831.6 1137L831.8 1136.1L832 1136.3L832.2 1135.3L832.4 1135.4L832.6 1134.5L832.8 1134.6L833 1133.8L833.2 1133.8L833.4 1133L833.6 1133.4L833.8 1132.7L834 1133.5L834.2 1131.9L834.4 1133.3L834.6 1131.5L834.8 1132.8L835 1131L835.2 1132.3L835.4 1130.2L835.6 1131.4L835.8 1129.4L836 1130.6L836.2 1128.3L836.4 1129.2L836.6 1126.5L836.8 1126.5L837 1124.2L837.2 1123.8L837.4 1121.1L837.6 1119.8L837.8 1116.2L838 1114.4L838.2 1110.3L838.4 1108L838.6 1104L838.8 1102.9L839 1101.9L839.2 1102.1L839.2 1102.1L839.4 1102L839.6 1103.1L839.8 1104.7L840 1109.4L840.2 1112.1L840.4 1117.1L840.6 1119.4L840.8 1123.6L841 1125L841.2 1128.3L841.4 1129.1L841.6 1131.7L841.8 1131.7L842 1134L842.2 1133.6L842.4 1136.1L842.6 1134.9L842.8 1137.5L843 1136.1L843.2 1138.4L843.4 1136.7L843.6 1138.9L843.8 1137.4L844 1139.5L844.2 1137.8L844.4 1139.8L844.6 1138.3L844.8 1140.2L845 1138.6L845.2 1140.2L845.4 1138.9L845.6 1140.5L845.8 1139.1L846 1140.6L846.2 1139.7L846.4 1141.9L846.6 1140.8L846.8 1142.8L847 1141.9L847.2 1143.8L847.4 1142.8L847.6 1144.8L847.8 1143.7L848 1145.5L848.2 1145.2L848.4 1146.5L848.6 1146.3L848.8 1147.6L849 1147.2L849.2 1148.6L849.4 1148.2L849.6 1149.6L849.8 1149.2L850 1150.6L850.2 1149.6L850.4 1150.3L850.6 1149L850.8 1149.9L851 1148.7L851.2 1149.5L851.4 1148.4L851.6 1149.3L851.8 1148.1L852 1149L852.2 1147.8L852.4 1148.6L852.6 1147.5L852.8 1148.4L853 1147.2L853.2 1148L853.4 1147.2L853.6 1147.7L853.8 1146.9L854 1147.4L854.2 1146.6L854.4 1147.1L854.6 1146.3L854.8 1146.9L855 1146L855.2 1146.6L855.4 1145.7L855.6 1146.2L855.8 1145.4L856 1146L856.2 1144.4L856.4 1146.2L856.6 1144L856.8 1145.6L857 1143.7L857.2 1145.4L857.4 1143.2L857.6 1144.9L857.8 1142.9L858 1144.6L858.2 1142.2L858.4 1143.8L858.6 1141.5L858.8 1143L859 1140.9L859.2 1141.8L859.4 1139.5L859.6 1140.2L859.8 1137.4L860 1137.6L860.2 1134.4L860.4 1134.1L860.6 1130.5L860.8 1129.8L861 1126L861.2 1125.8L861.4 1123.8L861.6 1124L861.7 1123.8L861.8 1123.6L862 1124.1L862.2 1123.7L862.4 1127.3L862.6 1127.5L862.8 1131.4L863 1131.5L863.2 1134.9L863.4 1134.6L863.6 1137.7L863.8 1136.6L864 1139.5L864.2 1138.4L864.4 1140.9L864.6 1139.8L864.8 1141.4L865 1140.6L865.2 1142L865.4 1141.1L865.6 1142.6L865.8 1141.9L866 1142.7L866.2 1141.2L866.4 1142.1L866.6 1140.7L866.8 1141.7L867 1140.2L867.2 1141L867.4 1139.7L867.6 1140.4L867.8 1139.1L868 1139.8L868.2 1138.5L868.4 1139.3L868.6 1138.1L868.8 1138.8L869 1137.4L869.2 1138.2L869.4 1136.9L869.6 1137.6L869.8 1136.3L870 1137.1L870.2 1135.6L870.4 1137.3L870.6 1135.1L870.8 1137L871 1134.3L871.2 1136.2L871.4 1134L871.6 1135.8L871.8 1133.4L872 1135.2L872.2 1132.7L872.4 1134.6L872.6 1132.3L872.8 1134.3L873 1132.3L873.2 1133L873.4 1131.8L873.6 1132.5L873.8 1131.2L874 1132L874.2 1130.7L874.4 1131.4L874.6 1130.1L874.8 1130.8L875 1129.5L875.2 1129.1L875.4 1126.7L875.6 1126.2L875.8 1123.8L876 1123.1L876.2 1120.4L876.4 1120.2L876.6 1117.6L876.8 1117.3L877 1114.6L877.2 1114.4L877.4 1111.8L877.6 1110.1L877.8 1107.1L878 1106.3L878.2 1102.5L878.4 1101.2L878.6 1097.8L878.8 1096.4L879 1093.9L879.2 1093.4L879.4 1093.3L879.4 1093.2L879.6 1093.4L879.8 1093.1L880 1093.4L880.2 1091.8L880.4 1092L880.6 1086.2L880.8 1082.7L881 1075.8L881.2 1069.1L881.4 1058L881.6 1046.6L881.8 1030.6L882 1015.5L882.2 1001.5L882.4 996.4L882.6 996.3L882.6 996.2L882.8 996.4L883 1002.7L883.2 1019.5L883.4 1038L883.6 1057.5L883.8 1071.5L884 1084.6L884.2 1092.5L884.4 1101.2L884.6 1105.3L884.8 1111L885 1113.1L885.2 1117.4L885.4 1117.9L885.6 1121.4L885.8 1121.4L886 1124.1L886.2 1123.8L886.4 1126.1L886.6 1125.3L886.8 1127.5L887 1126.6L887.2 1128L887.4 1127.7L887.6 1128.8L887.8 1128.3L888 1129.5L888.2 1129L888.4 1130.4L888.6 1130.1L888.8 1131.5L889 1131.3L889.2 1132.7L889.4 1132.3L889.6 1133.8L889.8 1133.5L890 1135.2L890.2 1135L890.4 1136.3L890.6 1136L890.8 1137.4L891 1137.1L891.2 1138.6L891.4 1138.3L891.6 1139.6L891.8 1139.4L892 1140.8L892.2 1140.5L892.4 1141.9L892.6 1140.9L892.8 1142.9L893 1142L893.2 1144L893.4 1143.1L893.6 1145.1L893.8 1144.4L894 1146.2L894.2 1145.5L894.4 1147.3L894.6 1146.5L894.8 1148.4L895 1147.6L895.2 1149.6L895.4 1148.9L895.6 1151L895.8 1150L896 1152.1L896.2 1151.1L896.4 1153.2L896.6 1152.2L896.8 1154L897 1152.5L897.2 1154L897.4 1152.4L897.6 1153.8L897.8 1152.1L898 1153.5L898.2 1152.6L898.4 1153.8L898.6 1152.4L898.8 1153.7L899 1152.3L899.2 1153.7L899.4 1152.2L899.6 1153.5L899.8 1152L900 1153.2L900.2 1151.9L900.4 1153.2L900.6 1151.7L900.8 1153L901 1150.9L901.2 1152.3L901.4 1150.7L901.6 1152L901.8 1150.5L902 1152L902.2 1150.5L902.4 1151.9L902.6 1150.3L902.8 1151.7L903 1149.9L903.2 1151.5L903.4 1149.7L903.6 1151.1L903.8 1149.9L904 1151.1L904.2 1149.5L904.4 1150.5L904.6 1148.8L904.8 1149.7L905 1147.9L905.2 1148.7L905.4 1146.8L905.6 1147.3L905.8 1145.3L906 1145.7L906.2 1143.9L906.4 1144L906.6 1143.6L906.7 1143.8L906.8 1143.9L907 1143.7L907.2 1145L907.4 1144.4L907.6 1147.1L907.8 1146.7L908 1149.4L908.2 1148.9L908.4 1151.3L908.6 1150.4L908.8 1152.8L909 1151.8L909.2 1153.7L909.4 1153.4L909.6 1155L909.8 1153.9L910 1155.4L910.2 1154.3L910.4 1155.7L910.6 1154.7L910.8 1156.3L911 1154.8L911.2 1155.8L911.4 1154.5L911.6 1155.6L911.8 1154.2L912 1155.5L912.2 1153.2L912.4 1154.5L912.6 1153L912.8 1154.2L913 1152.7L913.2 1154L913.4 1152.3L913.6 1153.7L913.8 1152L914 1153.4L914.2 1151.8L914.4 1153.2L914.6 1151.6L914.8 1152.8L915 1151.5L915.2 1152.7L915.4 1151.3L915.6 1152.4L915.8 1151.1L916 1152.1L916.2 1150.7L916.4 1151.9L916.6 1150.4L916.8 1151.5L917 1150.2L917.2 1151.3L917.4 1150L917.6 1151L917.8 1149.7L918 1150.8L918.2 1149.4L918.4 1150.2L918.6 1148.6L918.8 1149.6L919 1147.8L919.2 1148.8L919.4 1147L919.6 1147.7L919.8 1145.7L920 1146.2L920.2 1143.7L920.4 1143.9L920.6 1141.5L920.8 1141.1L921 1137.6L921.2 1136.1L921.4 1131.5L921.6 1128.1L921.8 1121.3L922 1115L922.2 1104.3L922.4 1093.6L922.6 1078.7L922.8 1066.9L923 1057.4L923.2 1056.5L923.3 1056.3L923.4 1056.2L923.6 1057.3L923.8 1063.5L924 1075L924.2 1084.9L924.4 1095.4L924.6 1102.1L924.8 1109L925 1112.7L925.2 1117.2L925.4 1119L925.6 1122.1L925.8 1123L926 1125.7L926.2 1124L926.4 1124.1L926.6 1123.4L926.8 1123.3L927 1123.2L927 1123.3L927.2 1123.3L927.4 1123.8L927.6 1126L927.8 1127.7L928 1131.4L928.2 1133.5L928.4 1136.7L928.6 1138.2L928.8 1140.8L929 1141.9L929.2 1144.1L929.4 1144.3L929.6 1146.1L929.8 1145.9L930 1147.6L930.2 1147.1L930.4 1148.5L930.6 1148.1L930.8 1149.3L931 1148.7L931.2 1149.8L931.4 1149.1L931.6 1150.3L931.8 1149L932 1150.1L932.2 1149L932.4 1150L932.6 1148.9L932.8 1149.8L933 1148.8L933.2 1149.7L933.4 1148.5L933.6 1149.4L933.8 1148.3L934 1149.1L934.2 1148L934.4 1148.7L934.6 1147.6L934.8 1148.7L935 1146.8L935.2 1147.8L935.4 1145.9L935.6 1146.6L935.8 1144.7L936 1145.3L936.2 1143.5L936.4 1144L936.6 1143.7L936.7 1143.8L936.8 1143.9L937 1143.8L937.2 1145.2L937.4 1145L937.6 1147.8L937.8 1147.9L938 1150.7L938.2 1150.7L938.4 1153.1L938.6 1152.7L938.8 1154.8L939 1154.2L939.2 1155.9L939.4 1155.3L939.6 1156.8L939.8 1155.9L940 1157.5L940.2 1156.8L940.4 1158.2L940.6 1157.2L940.8 1158.4L941 1157.4L941.2 1158.7L941.4 1157.7L941.6 1159L941.8 1157.9L942 1159.1L942.2 1157.8L942.4 1159.1L942.6 1157.9L942.8 1159.2L943 1157.3L943.2 1158.5L943.4 1157.5L943.6 1158.6L943.8 1157.4L944 1158.6L944.2 1157.4L944.4 1158.7L944.6 1157.5L944.8 1158.7L945 1157.4L945.2 1158.7L945.4 1157.6L945.6 1158.8L945.8 1158.3L946 1159.1L946.2 1158.3L946.4 1159.1L946.6 1158.4L946.8 1159.1L947 1158.4L947.2 1159.2L947.4 1158.4L947.6 1159.2L947.8 1158.4L948 1159.2L948.2 1158.5L948.4 1159.3L948.6 1158.4L948.8 1160.1L949 1158.3L949.2 1160.1L949.4 1158.4L949.6 1160.2L949.8 1158.4L950 1160.2L950.2 1158.5L950.4 1160.3L950.6 1158.6L950.8 1160.1L951 1158.5L951.2 1160.2L951.4 1158.7L951.6 1159.4L951.8 1158.4L952 1158.6L952.2 1157.5L952.4 1157.5L952.6 1156.4L952.8 1156.5L953 1155.3L953.2 1155.4L953.4 1154.3L953.6 1154.4L953.8 1153.3L954 1153.4L954.2 1152.2L954.4 1153L954.6 1151.2L954.8 1152L955 1150.2L955.2 1151L955.4 1149.1L955.6 1150L955.8 1148.1L956 1149L956.2 1147L956.4 1147.9L956.6 1146L956.8 1146.8L957 1144.8L957.2 1145.4L957.4 1143.7L957.6 1144.4L957.8 1142.6L958 1143.2L958.2 1141.6L958.4 1141.6L958.6 1139.7L958.8 1139.9L959 1137.8L959.2 1137.6L959.4 1134.9L959.6 1134.3L959.8 1130.6L960 1129.5L960.2 1124.7L960.4 1122.2L960.6 1115.4L960.8 1110.4L961 1100.4L961.2 1090.5L961.4 1074.6L961.6 1058.3L961.8 1036.2L962 1018L962.2 1004.5L962.4 1003.1L962.5 1003L962.6 1002.9L962.8 1005L963 1018L963.2 1040L963.4 1061.2L963.6 1081.1L963.8 1095.6L964 1108.6L964.2 1116.9L964.4 1124.9L964.6 1129.5L964.8 1134.8L965 1137.4L965.2 1141.1L965.4 1142.5L965.6 1145L965.8 1146L966 1147.9L966.2 1148.4L966.4 1150L966.6 1150.2L966.8 1151.7L967 1151.1L967.2 1151.6L967.4 1150.9L967.6 1151.3L967.8 1150.6L968 1151L968.2 1149.9L968.4 1151L968.6 1149.3L968.8 1150.3L969 1148.6L969.2 1149.6L969.4 1147.8L969.6 1148.5L969.8 1148.1L970 1148.3L970 1148.4L970.2 1148.1L970.4 1148.5L970.6 1148L970.8 1149.7L971 1149.2L971.2 1151L971.4 1150.1L971.6 1151.8L971.8 1150.9L972 1152.4L972.2 1151.4L972.4 1152.9L972.6 1151.8L972.8 1153.2L973 1152L973.2 1153.5L973.4 1152.3L973.6 1153.5L973.8 1152.4L974 1153.7L974.2 1152.4L974.4 1153.6L974.6 1152.2L974.8 1153.3L975 1152.1L975.2 1153L975.4 1151.7L975.6 1152.8L975.8 1151.2L976 1152.2L976.2 1150.5L976.4 1151.4L976.6 1149.3L976.8 1149.8L977 1148.1L977.2 1148.4L977.4 1146.3L977.6 1146.7L977.8 1144.9L978 1145.4L978.2 1145.1L978.3 1145.3L978.4 1145.4L978.6 1145.2L978.8 1146.6L979 1146.7L979.2 1149.8L979.4 1151L979.6 1153.4L979.8 1154.2L980 1156.2L980.2 1156.6L980.4 1158.2L980.6 1158.3L980.8 1159.7L981 1159.5L981.2 1160.7L981.4 1160.3L981.6 1161.4L981.8 1161L982 1162L982.2 1161.6L982.4 1162.5L982.6 1161.9L982.8 1162.9L983 1162.2L983.2 1163.1L983.4 1162.4L983.6 1163.2L983.8 1162.5L984 1163.4L984.2 1162.7L984.4 1163.6L984.6 1162.8L984.8 1163.6L985 1162.4L985.2 1163.5L985.4 1162.5L985.6 1163.5L985.8 1162.5L986 1163.6L986.2 1162.7L986.4 1163.6L986.6 1162.6L986.8 1163.7L987 1162.6L987.2 1163.5L987.4 1162.4L987.6 1163.3L987.8 1162.3L988 1163L988.2 1162.1L988.4 1162.9L988.6 1161.9L988.8 1162.7L989 1161.8L989.2 1162.5L989.4 1161.6L989.6 1162.4L989.8 1161.4L990 1162.2L990.2 1161.2L990.4 1162L990.6 1161.2L990.8 1162.2L991 1161.1L991.2 1162L991.4 1161L991.6 1161.9L991.8 1160.8L992 1161.7L992.2 1160.6L992.4 1161.6L992.6 1160.4L992.8 1161.3L993 1160.4L993.2 1161.2L993.4 1160.2L993.6 1160.8L993.8 1160L994 1160.6L994.2 1159.9L994.4 1160.4L994.6 1159.8L994.8 1160.2L995 1159.2L995.2 1159.4L995.4 1158.2L995.6 1158.3L995.8 1157.1L996 1157L996.2 1155.3L996.4 1155.3L996.6 1153.2L996.8 1153L997 1150.3L997.2 1149.7L997.4 1146.4L997.6 1144.9L997.8 1140.5L998 1137.7L998.2 1131.6L998.4 1126.4L998.6 1117.1L998.8 1107.7L999 1092.9L999.2 1076.9L999.4 1053.4L999.6 1030L999.8 1004.2L1000 989.5L1000.2 987L1000.3 987.1L1000.4 987.3L1000.6 989.1L1000.8 1005.5L1001 1027.4L1001.2 1053.4L1001.4 1073.2L1001.6 1092.1L1001.8 1104.1L1002 1115.3L1002.2 1122.2L1002.4 1129.4L1002.6 1133.4L1002.8 1138.3L1003 1140.4L1003.2 1143.9L1003.4 1145.1L1003.6 1147.8L1003.8 1148.9L1004 1149.2L1004.2 1147.6L1004.4 1147.9L1004.6 1146.8L1004.8 1147L1005 1146.7L1005 1146.8L1005.2 1147L1005.4 1147.1L1005.6 1149.2L1005.8 1149.4L1006 1152.8L1006.2 1152.8L1006.4 1156L1006.6 1155.7L1006.8 1158.4L1007 1157.9L1007.2 1160.1L1007.4 1158.8L1007.6 1160.7L1007.8 1159.9L1008 1161.6L1008.2 1160.7L1008.4 1162.2L1008.6 1161.2L1008.8 1162.6L1009 1161.6L1009.2 1163L1009.4 1162L1009.6 1163.3L1009.8 1162.1L1010 1163.5L1010.2 1163L1010.4 1163.8L1010.6 1163L1010.8 1163.9L1011 1163L1011.2 1163.9L1011.4 1163.1L1011.6 1163.9L1011.8 1163L1012 1163.9L1012.2 1163.1L1012.4 1163.9L1012.6 1163.1L1012.8 1164L1013 1163L1013.2 1164.1L1013.4 1163.1L1013.6 1164.1L1013.8 1163.2L1014 1164.2L1014.2 1163.1L1014.4 1164.2L1014.6 1163.2L1014.8 1164.2L1015 1163.2L1015.2 1164.2L1015.4 1163.2L1015.6 1164.1L1015.8 1163.4L1016 1164.3L1016.2 1163.5L1016.4 1164.4L1016.6 1163.5L1016.8 1164.4L1017 1163.6L1017.2 1164.4L1017.4 1163.6L1017.6 1164.3L1017.8 1163.6L1018 1164.4L1018.2 1163.7L1018.4 1164.5L1018.6 1163.7L1018.8 1164.6L1019 1163.7L1019.2 1164.7L1019.4 1163.6L1019.6 1164.8L1019.8 1163.7L1020 1164.9L1020.2 1163.7L1020.4 1164.8L1020.6 1163.7L1020.8 1164.7L1021 1163.5L1021.2 1164.6L1021.4 1163.6L1021.6 1164.1L1021.8 1163.5L1022 1164.2L1022.2 1163.4L1022.4 1164.1L1022.6 1163.4L1022.8 1164.1L1023 1163.3L1023.2 1164L1023.4 1163.3L1023.6 1163.9L1023.8 1163.2L1024 1163.8L1024.2 1163.2L1024.4 1163.9L1024.6 1163.2L1024.8 1163.8L1025 1163.1L1025.2 1163.7L1025.4 1163.1L1025.6 1163.8L1025.8 1163L1026 1163.7L1026.2 1162.9L1026.4 1163.6L1026.6 1162.8L1026.8 1163.6L1027 1162.4L1027.2 1163.5L1027.4 1162.5L1027.6 1163.4L1027.8 1162.3L1028 1163.4L1028.2 1162.3L1028.4 1163.4L1028.6 1162.3L1028.8 1163.4L1029 1162.2L1029.2 1163.2L1029.4 1162.1L1029.6 1163.1L1029.8 1162.3L1030 1163.2L1030.2 1162.2L1030.4 1163.1L1030.6 1162.2L1030.8 1163.1L1031 1162.1L1031.2 1163L1031.4 1162.1L1031.6 1162.9L1031.8 1162L1032 1163L1032.2 1162.3L1032.4 1163.4L1032.6 1162.5L1032.8 1163.4L1033 1162.9L1033.2 1163.7L1033.4 1163.2L1033.6 1164L1033.8 1163.5L1034 1164.3L1034.2 1163.7L1034.4 1164.6L1034.6 1164L1034.8 1164.9L1035 1164.4L1035.2 1165.2L1035.4 1164.8L1035.6 1166L1035.8 1165L1036 1166.4L1036.2 1165.4L1036.4 1166.6L1036.6 1165.6L1036.8 1167L1037 1165.9L1037.2 1167.2L1037.4 1166.2L1037.6 1167.5L1037.8 1166.5L1038 1167.9L1038.2 1166.5L1038.4 1167.8L1038.6 1166.8L1038.8 1168L1039 1167L1039.2 1168.4L1039.4 1167.5L1039.6 1168.8L1039.8 1167.7L1040 1169L1040.2 1168.1L1040.4 1169.4L1040.6 1168.3L1040.8 1169.6L1041 1168.7L1041.2 1170.1L1041.4 1168.9L1041.6 1170.4L1041.8 1169.3L1042 1170.6L1042.2 1169.3L1042.4 1170.6L1042.6 1169.3L1042.8 1170.5L1043 1169.1L1043.2 1170.3L1043.4 1169L1043.6 1170.3L1043.8 1168.8L1044 1169.9L1044.2 1168.5L1044.4 1169.6L1044.6 1168.3L1044.8 1169.3L1045 1167.8L1045.2 1168.8L1045.4 1167.3L1045.6 1168.2L1045.8 1166.4L1046 1167.3L1046.2 1165.4L1046.4 1165.9L1046.6 1164.4L1046.8 1164L1047 1162.5L1047.2 1162L1047.4 1160.7L1047.6 1160.5L1047.8 1160.3L1047.9 1160.3L1048 1160.4L1048.2 1160.3L1048.4 1161L1048.6 1161L1048.8 1162.1L1049 1162.2L1049.2 1163.3L1049.4 1162.7L1049.6 1164.7L1049.8 1163.6L1050 1165.4L1050.2 1164.2L1050.4 1165.9L1050.6 1164.6L1050.8 1166.1L1051 1164.9L1051.2 1166.5L1051.4 1165.1L1051.6 1166.6L1051.8 1165.2L1052 1166.7L1052.2 1165L1052.4 1166L1052.6 1164.9L1052.8 1165.9L1053 1164.8L1053.2 1165.6L1053.4 1164.3L1053.6 1165.3L1053.8 1164.1L1054 1164.8L1054.2 1163.4L1054.4 1164.1L1054.6 1162.6L1054.8 1163.1L1055 1162L1055.2 1161.9L1055.4 1160.4L1055.6 1160.3L1055.8 1158.9L1056 1158.8L1056.2 1158.5L1056.4 1158.6L1056.4 1158.7L1056.6 1158.5L1056.8 1159L1057 1159.6L1057.2 1161.6L1057.4 1162.5L1057.6 1164.6L1057.8 1164.8L1058 1167.7L1058.2 1167L1058.4 1169.4L1058.6 1168.4L1058.8 1170.6L1059 1169.4L1059.2 1171.5L1059.4 1170.1L1059.6 1172.1L1059.8 1170.7L1060 1172.6L1060.2 1171.3L1060.4 1173L1060.6 1172.1L1060.8 1173L1061 1172.4L1061.2 1173.2L1061.4 1172.6L1061.6 1173.5L1061.8 1172.7L1062 1173.5L1062.2 1172.8L1062.4 1173.7L1062.6 1172.9L1062.8 1173.7L1063 1173L1063.2 1173.8L1063.4 1172.3L1063.6 1173.7L1063.8 1172.5L1064 1173.7L1064.2 1172.5L1064.4 1173.9L1064.6 1172.6L1064.8 1173.9L1065 1172.4L1065.2 1173.9L1065.4 1172.6L1065.6 1173.9L1065.8 1172.5L1066 1173.9L1066.2 1173L1066.4 1173.8L1066.6 1173L1066.8 1173.8L1067 1173L1067.2 1173.8L1067.4 1172.9L1067.6 1173.7L1067.8 1172.9L1068 1173.7L1068.2 1172.9L1068.4 1173.7L1068.6 1172.8L1068.8 1173.5L1069 1172.3L1069.2 1173.1L1069.4 1172.3L1069.6 1173L1069.8 1172.1L1070 1172.9L1070.2 1172L1070.4 1172.7L1070.6 1171.7L1070.8 1172.4L1071 1171.4L1071.2 1172L1071.4 1170.9L1071.6 1171.4L1071.8 1169.8L1072 1170.9L1072.2 1168.9L1072.4 1170L1072.6 1167.8L1072.8 1169L1073 1167.8L1073.2 1168.1L1073.3 1167.9L1073.4 1167.7L1073.6 1168.1L1073.8 1167.1L1074 1169L1074.2 1167.9L1074.4 1169.9L1074.6 1169.1L1074.8 1170.2L1075 1169.7L1075.2 1170.6L1075.4 1170.1L1075.6 1171L1075.8 1170.4L1076 1171.2L1076.2 1170.5L1076.4 1171.3L1076.6 1170.6L1076.8 1171.3L1077 1170.5L1077.2 1171.3L1077.4 1170.2L1077.6 1171.1L1077.8 1170L1078 1170.9L1078.2 1169.7L1078.4 1170.6L1078.6 1169.4L1078.8 1170.3L1079 1168.9L1079.2 1169.8L1079.4 1168.3L1079.6 1168.9L1079.8 1168.6L1080 1168.7L1080 1168.8L1080.2 1168.6L1080.4 1168.9L1080.6 1168.8L1080.8 1169.8L1081 1169.8L1081.2 1170.8L1081.4 1170.7L1081.6 1171.6L1081.8 1171.4L1082 1172.2L1082.2 1172L1082.4 1172.7L1082.6 1172.4L1082.8 1173L1083 1172.4L1083.2 1173.7L1083.4 1172.6L1083.6 1173.8L1083.8 1172.8L1084 1174L1084.2 1172.9L1084.4 1174L1084.6 1173L1084.8 1174.2L1085 1172.9L1085.2 1174L1085.4 1172.9L1085.6 1174.1L1085.8 1172.4L1086 1173.5L1086.2 1172.4L1086.4 1173.5L1086.6 1172.3L1086.8 1173.4L1087 1172.2L1087.2 1173.4L1087.4 1172.1L1087.6 1173.3L1087.8 1172.1L1088 1173.1L1088.2 1171.9L1088.4 1172.9L1088.6 1172L1088.8 1172.6L1089 1171.6L1089.2 1172.2L1089.4 1171.2L1089.6 1171.8L1089.8 1171.3L1090 1171.3L1090.2 1171.2L1090.2 1171.3L1090.4 1171.4L1090.6 1171.3L1090.8 1172L1091 1171.6L1091.2 1172.8L1091.4 1172.9L1091.6 1174.1L1091.8 1173.7L1092 1174.7L1092.2 1174.3L1092.4 1175.2L1092.6 1174.7L1092.8 1175.5L1093 1174.9L1093.2 1175.8L1093.4 1175.1L1093.6 1175.9L1093.8 1175.3L1094 1176.1L1094.2 1174.8L1094.4 1176L1094.6 1174.8L1094.8 1176L1095 1174.7L1095.2 1176.1L1095.4 1175L1095.6 1176.3L1095.8 1175L1096 1176.2L1096.2 1175.1L1096.4 1176.2L1096.6 1174.9L1096.8 1176.3L1097 1175.3L1097.2 1176.2L1097.4 1175.3L1097.6 1176.2L1097.8 1175.2L1098 1176.2L1098.2 1175.1L1098.4 1176.1L1098.6 1175.1L1098.8 1176.1L1099 1175.1L1099.2 1176.1L1099.4 1175.1L1099.6 1176.1L1099.8 1175.1L1100 1176L1100.2 1175.1L1100.4 1176L1100.6 1175.1L1100.8 1175.9L1101 1175L1101.2 1175.9L1101.4 1174.9L1101.6 1175.8L1101.8 1174.8L1102 1175.7L1102.2 1174.6L1102.4 1175.6L1102.6 1174.5L1102.8 1175.3L1103 1174.2L1103.2 1175L1103.4 1173.9L1103.6 1174.7L1103.8 1173.4L1104 1174.1L1104.2 1172.8L1104.4 1173.4L1104.6 1171.9L1104.8 1172.3L1105 1170.7L1105.2 1170.9L1105.4 1169L1105.6 1169.3L1105.8 1167.5L1106 1168L1106.2 1167.7L1106.3 1167.9L1106.4 1168L1106.6 1167.8L1106.8 1168.7L1107 1168.3L1107.2 1170.2L1107.4 1169.9L1107.6 1171.9L1107.8 1171.2L1108 1173.1L1108.2 1173L1108.4 1174.4L1108.6 1173.8L1108.8 1175.2L1109 1174.4L1109.2 1175.4L1109.4 1174.7L1109.6 1175.7L1109.8 1175L1110 1176.1L1110.2 1175.2L1110.4 1176.2L1110.6 1175.4L1110.8 1176.5L1111 1175L1111.2 1176.5L1111.4 1175.1L1111.6 1176.7L1111.8 1175.2L1112 1176.8L1112.2 1175.2L1112.4 1176.7L1112.6 1175.1L1112.8 1176.7L1113 1175.1L1113.2 1176.5L1113.4 1175L1113.6 1176.3L1113.8 1175.2L1114 1176.2L1114.2 1175L1114.4 1176L1114.6 1174.7L1114.8 1175.8L1115 1174.4L1115.2 1175.3L1115.4 1174L1115.6 1174.8L1115.8 1173.4L1116 1174.1L1116.2 1172.6L1116.4 1173.1L1116.6 1171.2L1116.8 1171.1L1117 1169.5L1117.2 1169L1117.4 1167L1117.6 1166.4L1117.8 1164.2L1118 1163.6L1118.2 1162.3L1118.4 1162.1L1118.6 1162L1118.6 1161.9L1118.8 1162.1L1119 1162.3L1119.2 1163.8L1119.4 1164.5L1119.6 1166.9L1119.8 1167.6L1120 1169.9L1120.2 1170.2L1120.4 1172.1L1120.6 1172.1L1120.8 1173.7L1121 1173.5L1121.2 1174.9L1121.4 1174.4L1121.6 1175.6L1121.8 1175.1L1122 1176.2L1122.2 1175.7L1122.4 1176.9L1122.6 1176L1122.8 1177.2L1123 1176.3L1123.2 1177.5L1123.4 1176.5L1123.6 1177.5L1123.8 1176.4L1124 1177.4L1124.2 1176.4L1124.4 1177.3L1124.6 1176.3L1124.8 1177.3L1125 1176L1125.2 1176.6L1125.4 1176L1125.6 1176.6L1125.8 1176L1126 1176.6L1126.2 1175.9L1126.4 1176.5L1126.6 1175.8L1126.8 1176.4L1127 1175.8L1127.2 1176.3L1127.4 1175.7L1127.6 1176.3L1127.8 1175.5L1128 1176.5L1128.2 1175.5L1128.4 1176.5L1128.6 1175.4L1128.8 1176.4L1129 1175.4L1129.2 1176.3L1129.4 1175.3L1129.6 1176.3L1129.8 1175.2L1130 1176.2L1130.2 1175.2L1130.4 1176.2L1130.6 1175L1130.8 1176L1131 1175L1131.2 1176L1131.4 1174.9L1131.6 1175.9L1131.8 1174.8L1132 1175.9L1132.2 1174.8L1132.4 1175.9L1132.6 1174.8L1132.8 1175.7L1133 1174.8L1133.2 1175.7L1133.4 1174.4L1133.6 1175.7L1133.8 1174.3L1134 1175.6L1134.2 1174.2L1134.4 1175.6L1134.6 1174.3L1134.8 1175.6L1135 1174.1L1135.2 1175.4L1135.4 1174L1135.6 1175.5L1135.8 1174.2L1136 1175.3L1136.2 1174.5L1136.4 1175.6L1136.6 1174.5L1136.8 1175.5L1137 1174.4L1137.2 1175.4L1137.4 1174.3L1137.6 1175.4L1137.8 1174.2L1138 1175.3L1138.2 1174L1138.4 1175L1138.6 1173.9L1138.8 1174.9L1139 1173.4L1139.2 1174.4L1139.4 1173.1L1139.6 1173.9L1139.8 1172.5L1140 1173.2L1140.2 1171.7L1140.4 1172.5L1140.6 1170.9L1140.8 1171.5L1141 1170L1141.2 1170.4L1141.4 1170.2L1141.5 1170.3L1141.6 1170.4L1141.8 1170.3L1142 1171.1L1142.2 1171.2L1142.4 1172.9L1142.6 1173.1L1142.8 1174.8L1143 1175L1143.2 1176.4L1143.4 1176.3L1143.6 1177.5L1143.8 1177.3L1144 1178.3L1144.2 1177.8L1144.4 1178.8L1144.6 1178.4L1144.8 1179.3L1145 1178.8L1145.2 1179.7L1145.4 1178.9L1145.6 1179.9L1145.8 1179.2L1146 1180L1146.2 1179.3L1146.4 1180.2L1146.6 1179.4L1146.8 1180.3L1147 1179.5L1147.2 1180.4L1147.4 1179.2L1147.6 1180.7L1147.8 1179.2L1148 1180.7L1148.2 1179.3L1148.4 1180.8L1148.6 1179.3L1148.8 1180.7L1149 1179.3L1149.2 1180.8L1149.4 1179.2L1149.6 1180.7L1149.8 1179.3L1150 1180.8L1150.2 1179.5L1150.4 1180.2L1150.6 1179.5L1150.8 1180.3L1151 1179.6L1151.2 1180.2L1151.4 1179.6L1151.6 1180.3L1151.8 1179.5L1152 1180.2L1152.2 1179.6L1152.4 1180.3L1152.6 1179.6L1152.8 1180.2L1153 1179.6L1153.2 1180.1L1153.4 1179.6L1153.6 1180.1L1153.8 1179.6L1154 1180.1L1154.2 1179.6L1154.4 1180.1L1154.6 1179.6L1154.8 1180.1L1155 1179.6L1155.2 1180.1L1155.4 1179.6L1155.6 1180.1L1155.8 1179.4L1156 1180.4L1156.2 1179.5L1156.4 1180.4L1156.6 1179.5L1156.8 1180.4L1157 1179.4L1157.2 1180.4L1157.4 1179.5L1157.6 1180.4L1157.8 1179.5L1158 1180.4L1158.2 1179.4L1158.4 1180.3L1158.6 1179.4L1158.8 1180.5L1159 1179.4L1159.2 1180.5L1159.4 1179.4L1159.6 1180.4L1159.8 1179.2L1160 1180.4L1160.2 1179.3L1160.4 1180.4L1160.6 1179.2L1160.8 1180.2L1161 1179.1L1161.2 1180.1L1161.4 1179.1L1161.6 1179.9L1161.8 1179L1162 1179.6L1162.2 1178.8L1162.4 1179.3L1162.6 1178.4L1162.8 1179L1163 1178L1163.2 1178.6L1163.4 1177.4L1163.6 1177.7L1163.8 1176.5L1164 1176.6L1164.2 1175.4L1164.4 1175.4L1164.6 1173.8L1164.8 1173.7L1165 1172.4L1165.2 1172.3L1165.4 1172.1L1165.5 1172.1L1165.6 1172.2L1165.8 1172L1166 1172.5L1166.2 1171.5L1166.4 1171.9L1166.6 1170.9L1166.8 1171.3L1167 1170.2L1167.2 1170.5L1167.4 1169.8L1167.6 1170.1L1167.8 1169.5L1168 1169.8L1168.2 1169.3L1168.4 1169.6L1168.6 1169.1L1168.8 1169.5L1169 1169L1169.2 1169.4L1169.4 1168.9L1169.6 1169.4L1169.8 1168.4L1170 1169.5L1170.2 1168.3L1170.4 1169.5L1170.6 1168.3L1170.8 1169.4L1171 1168.2L1171.2 1169.3L1171.4 1168.1L1171.6 1169.3L1171.8 1168L1172 1169.2L1172.2 1167.9L1172.4 1168.9L1172.6 1167.6L1172.8 1168.6L1173 1167.2L1173.2 1168.2L1173.4 1166.8L1173.6 1167.8L1173.8 1166.4L1174 1167.1L1174.2 1166.9L1174.3 1167L1174.4 1167.1L1174.6 1166.9L1174.8 1167.7L1175 1166.7L1175.2 1168.1L1175.4 1167.8L1175.6 1168.7L1175.8 1168.3L1176 1169.2L1176.2 1168.7L1176.4 1169.5L1176.6 1169L1176.8 1169.8L1177 1169.2L1177.2 1170L1177.4 1169.3L1177.6 1170L1177.8 1169.4L1178 1170.1L1178.2 1169.2L1178.4 1170.3L1178.6 1169.3L1178.8 1170.4L1179 1169.3L1179.2 1170.5L1179.4 1169.4L1179.6 1170.5L1179.8 1169.5L1180 1170.5L1180.2 1169.5L1180.4 1170.5L1180.6 1169.5L1180.8 1170.6L1181 1169.2L1181.2 1170.1L1181.4 1169.1L1181.6 1170.2L1181.8 1169.1L1182 1170.2L1182.2 1169.3L1182.4 1170.2L1182.6 1169.5L1182.8 1170.8L1183 1170.2L1183.2 1171.4L1183.4 1170.6L1183.6 1172L1183.8 1171.8L1184 1172.9L1184.2 1172.3L1184.4 1173.5L1184.6 1173L1184.8 1174.1L1185 1173.5L1185.2 1174.7L1185.4 1174.2L1185.6 1175.2L1185.8 1174.7L1186 1175.8L1186.2 1175.3L1186.4 1176.5L1186.6 1175.7L1186.8 1176.7L1187 1176.2L1187.2 1177.3L1187.4 1176.8L1187.6 1177.9L1187.8 1177.5L1188 1178.5L1188.2 1178L1188.4 1179.1L1188.6 1178.6L1188.8 1179.7L1189 1179.2L1189.2 1180.3L1189.4 1179.6L1189.6 1180.2L1189.8 1179.6L1190 1180.2L1190.2 1179.6L1190.4 1180.1L1190.6 1179.6L1190.8 1180.1L1191 1179.6L1191.2 1180.1L1191.4 1179.5L1191.6 1180.1L1191.8 1179.5L1192 1180.1L1192.2 1179.5L1192.4 1179.9L1192.6 1179.4L1192.8 1179.9L1193 1179.4L1193.2 1179.8L1193.4 1179.4L1193.6 1179.8L1193.8 1179.4L1194 1179.8L1194.2 1179.3L1194.4 1179.8L1194.6 1179.3L1194.8 1179.8L1195 1179.5L1195.2 1180L1195.4 1179.5L1195.6 1180L1195.8 1179.5L1196 1179.9L1196.2 1179.5L1196.4 1179.9L1196.6 1179.4L1196.8 1179.9L1197 1179.4L1197.2 1179.9L1197.4 1179.4L1197.6 1179.8L1197.8 1179L1198 1179.7L1198.2 1179L1198.4 1179.8L1198.6 1179L1198.8 1179.7L1199 1178.9L1199.2 1179.7L1199.4 1178.9L1199.6 1179.7L1199.8 1178.8L1200 1179.6L1200.2 1178.8L1200.4 1179.6L1200.6 1179.1L1200.8 1179.8L1201 1178.9L1201.2 1179.5L1201.4 1178.5L1201.6 1179.1L1201.8 1178L1202 1178.5L1202.2 1177.3L1202.4 1177.8L1202.6 1176.7L1202.8 1177.1L1203 1175.7L1203.2 1176.1L1203.4 1174.6L1203.6 1174.5L1203.8 1173.1L1204 1172.9L1204.2 1171.3L1204.4 1170.8L1204.6 1168.9L1204.8 1167.9L1205 1165.4L1205.2 1163.9L1205.4 1160.7L1205.6 1158.1L1205.8 1153.6L1206 1149.4L1206.2 1142.5L1206.4 1135.8L1206.6 1125L1206.8 1113.1L1207 1095.6L1207.2 1075.2L1207.4 1047.8L1207.6 1018.4L1207.8 988.2L1208 970L1208.2 967.2L1208.3 967.3L1208.4 967.4L1208.6 969.7L1208.8 988.8L1209 1016.9L1209.2 1047.4L1209.4 1072.9L1209.6 1094.4L1209.8 1110.1L1210 1123.2L1210.2 1132.4L1210.4 1140.5L1210.6 1145.9L1210.8 1151.3L1211 1154.4L1211.2 1158.2L1211.4 1160.2L1211.6 1162.9L1211.8 1163.9L1212 1166.4L1212.2 1166.8L1212.4 1168.9L1212.6 1168.9L1212.8 1170.6L1213 1170.4L1213.2 1172L1213.4 1171.8L1213.6 1173.2L1213.8 1172.9L1214 1173.8L1214.2 1172.9L1214.4 1173.9L1214.6 1173L1214.8 1173.7L1215 1173.1L1215.2 1173.8L1215.4 1173L1215.6 1173.8L1215.8 1173.1L1216 1173.8L1216.2 1173L1216.4 1173.7L1216.6 1173L1216.8 1173.7L1217 1173L1217.2 1173.7L1217.4 1173L1217.6 1174L1217.8 1173L1218 1173.9L1218.2 1173L1218.4 1174L1218.6 1173.1L1218.8 1173.9L1219 1173L1219.2 1174L1219.4 1173.1L1219.6 1174L1219.8 1173.1L1220 1173.9L1220.2 1173L1220.4 1173.7L1220.6 1172.9L1220.8 1173.7L1221 1172.9L1221.2 1173.7L1221.4 1172.9L1221.6 1173.8L1221.8 1173L1222 1173.7L1222.2 1172.9L1222.4 1173.7L1222.6 1173L1222.8 1173.7L1223 1172.9L1223.2 1173.7L1223.4 1173.3L1223.6 1174.1L1223.8 1173.6L1224 1174.5L1224.2 1174L1224.4 1174.9L1224.6 1174.4L1224.8 1175.2L1225 1174.8L1225.2 1175.6L1225.4 1175.2L1225.6 1176L1225.8 1175.8L1226 1177L1226.2 1176.2L1226.4 1177.5L1226.6 1176.6L1226.8 1177.7L1227 1177L1227.2 1178.2L1227.4 1177.3L1227.6 1178.6L1227.8 1177.7L1228 1178.9L1228.2 1178.1L1228.4 1179.4L1228.6 1178.6L1228.8 1179.5L1229 1179L1229.2 1179.8L1229.4 1179.4L1229.6 1180.2L1229.8 1179.8L1230 1180.2L1230.2 1179.4L1230.4 1179.7L1230.6 1178.9L1230.8 1179.3L1231 1178.5L1231.2 1178.9L1231.4 1177.4L1231.6 1178.4L1231.8 1177.1L1232 1177.9L1232.2 1176.5L1232.4 1177.5L1232.6 1176.1L1232.8 1177L1233 1175.7L1233.2 1176.5L1233.4 1175.3L1233.6 1176.2L1233.8 1174.7L1234 1175.7L1234.2 1174.8L1234.4 1175.4L1234.6 1174.4L1234.8 1175L1235 1173.8L1235.2 1174.5L1235.4 1173.5L1235.6 1174.1L1235.8 1172.5L1236 1173L1236.2 1171.6L1236.4 1171.8L1236.6 1170.3L1236.8 1170.4L1237 1168.4L1237.2 1168.4L1237.4 1165.8L1237.6 1165.3L1237.8 1161.8L1238 1160.3L1238.2 1155.6L1238.4 1152.1L1238.6 1145L1238.8 1138.4L1239 1127.5L1239.2 1117L1239.4 1103.3L1239.6 1093.5L1239.8 1089.1L1240 1089.2L1240 1089.3L1240.2 1089.1L1240.4 1093.6L1240.6 1103.5L1240.8 1117.5L1241 1128.3L1241.2 1139.7L1241.4 1146.4L1241.6 1153.7L1241.8 1157.2L1242 1162.1L1242.2 1163.7L1242.4 1167.1L1242.6 1167.7L1242.8 1170L1243 1170.4L1243.2 1172.2L1243.4 1172.2L1243.6 1173.8L1243.8 1173.6L1244 1174.9L1244.2 1174.6L1244.4 1175.7L1244.6 1175.3L1244.8 1176.4L1245 1176.1L1245.2 1177L1245.4 1176.5L1245.6 1177.6L1245.8 1176.7L1246 1177.7L1246.2 1176.9L1246.4 1178L1246.6 1177.1L1246.8 1178.2L1247 1177.3L1247.2 1178.4L1247.4 1177.5L1247.6 1178.6L1247.8 1177.8L1248 1178.9L1248.2 1178L1248.4 1178.9L1248.6 1178.3L1248.8 1179.1L1249 1178.5L1249.2 1179.4L1249.4 1178.7L1249.6 1179.7L1249.8 1178.9L1250 1179.8L1250.2 1179.1L1250.4 1180.1L1250.6 1179.3L1250.8 1180.3L1251 1179.4L1251.2 1180.4L1251.4 1179.6L1251.6 1180.7L1251.8 1179.8L1252 1180.9L1252.2 1180.1L1252.4 1181.1L1252.6 1180.3L1252.8 1181.3L1253 1180.5L1253.2 1181.5L1253.4 1180.7L1253.6 1181.7L1253.8 1181.3L1254 1181.8L1254.2 1181.5L1254.4 1182L1254.6 1181.7L1254.8 1182.3L1255 1181.9L1255.2 1182.4L1255.4 1182.2L1255.6 1182.7L1255.8 1182.3L1256 1182.9L1256.2 1182.4L1256.4 1182.6L1256.6 1181.8L1256.8 1182.6L1257 1181.5L1257.2 1182.4L1257.4 1181.2L1257.6 1182.1L1257.8 1180.9L1258 1181.9L1258.2 1180.8L1258.4 1181.5L1258.6 1180.5L1258.8 1181.3L1259 1180.2L1259.2 1181.1L1259.4 1180.2L1259.6 1180.7L1259.8 1179.9L1260 1180.5L1260.2 1179.6L1260.4 1180.2L1260.6 1179.4L1260.8 1180L1261 1179.2L1261.2 1179.7L1261.4 1178.9L1261.6 1179.4L1261.8 1178.6L1262 1179.2L1262.2 1178.1L1262.4 1179L1262.6 1177.9L1262.8 1178.8L1263 1177.5L1263.2 1178.5L1263.4 1177.3L1263.6 1178.2L1263.8 1177.1L1264 1177.9L1264.2 1176.7L1264.4 1177.7L1264.6 1176.5L1264.8 1177.4L1265 1176.4L1265.2 1177.1L1265.4 1175.9L1265.6 1176.7L1265.8 1175.8L1266 1176.5L1266.2 1175.4L1266.4 1176.1L1266.6 1175.1L1266.8 1175.7L1267 1174.6L1267.2 1175.1L1267.4 1174L1267.6 1174.5L1267.8 1173.5L1268 1173.5L1268.2 1172.5L1268.4 1172.3L1268.6 1171.2L1268.8 1170.7L1269 1169.2L1269.2 1168.4L1269.4 1166.5L1269.6 1165.1L1269.8 1162.4L1270 1160L1270.2 1155.9L1270.4 1151.6L1270.6 1144.9L1270.8 1138.3L1271 1127L1271.2 1115.6L1271.4 1100L1271.6 1087.3L1271.8 1077.7L1272 1076.6L1272.1 1076.5L1272.2 1076.4L1272.4 1077.8L1272.6 1085.9L1272.8 1100.3L1273 1113.1L1273.2 1126.2L1273.4 1135.1L1273.6 1143.4L1273.8 1148.5L1274 1153.8L1274.2 1156.5L1274.4 1160L1274.6 1161.4L1274.8 1164L1275 1164.6L1275.2 1166.6L1275.4 1166.8L1275.6 1168.5L1275.8 1168.3L1276 1169.7L1276.2 1169.3L1276.4 1170.6L1276.6 1170L1276.8 1171.4L1277 1170.7L1277.2 1172.3L1277.4 1171.5L1277.6 1172.8L1277.8 1171.9L1278 1173.3L1278.2 1172.4L1278.4 1173.7L1278.6 1173L1278.8 1174.2L1279 1173.8L1279.2 1174.8L1279.4 1174.3L1279.6 1175.3L1279.8 1174.8L1280 1175.8L1280.2 1175.3L1280.4 1176.3L1280.6 1175.8L1280.8 1176.8L1281 1176.2L1281.2 1177.4L1281.4 1176.7L1281.6 1177.8L1281.8 1177.1L1282 1177.9L1282.2 1177.6L1282.4 1178.4L1282.6 1178.1L1282.8 1178.8L1283 1178.5L1283.2 1179.4L1283.4 1179.1L1283.6 1179.8L1283.8 1179.6L1284 1180.3L1284.2 1179.9L1284.4 1180.5L1284.6 1179.9L1284.8 1180.4L1285 1180.1L1285.2 1180.6L1285.4 1180.3L1285.6 1180.7L1285.8 1180.4L1286 1180.9L1286.2 1180.6L1286.4 1181.1L1286.6 1180.7L1286.8 1181.3L1287 1180.9L1287.2 1181.4L1287.4 1181.1L1287.6 1181.8L1287.8 1181.3L1288 1182L1288.2 1181.5L1288.4 1182.1L1288.6 1181.6L1288.8 1182.3L1289 1181.8L1289.2 1182.5L1289.4 1181.9L1289.6 1182.6L1289.8 1182.1L1290 1182.8L1290.2 1182L1290.4 1182.9L1290.6 1182.2L1290.8 1182.9L1291 1182.1L1291.2 1182.8L1291.4 1182L1291.6 1182.7L1291.8 1181.9L1292 1182.6L1292.2 1181.8L1292.4 1182.4L1292.6 1181.5L1292.8 1182.2L1293 1181.2L1293.2 1182L1293.4 1180.9L1293.6 1181.7L1293.8 1180.5L1294 1181.2L1294.2 1180L1294.4 1180.5L1294.6 1179L1294.8 1179.5L1295 1177.9L1295.2 1178L1295.4 1176.1L1295.6 1175.8L1295.8 1173.5L1296 1173.1L1296.2 1170.6L1296.4 1170.4L1296.6 1168.9L1296.8 1168.8L1297 1168.6L1297 1168.7L1297.2 1168.8L1297.4 1168.8L1297.6 1170L1297.8 1169.9L1298 1171.9L1298.2 1171.8L1298.4 1173.8L1298.6 1174L1298.8 1175.6L1299 1175.2L1299.2 1176.6L1299.4 1176.1L1299.6 1177.1L1299.8 1176.7L1300 1177.7L1300.2 1177.1L1300.4 1178.2L1300.6 1177.4L1300.8 1178.4L1301 1177.7L1301.2 1178.5L1301.4 1177.6L1301.6 1178.5L1301.8 1177.8L1302 1178.7L1302.2 1177.8L1302.4 1178.8L1302.6 1177.9L1302.8 1178.9L1303 1178.1L1303.2 1179.1L1303.4 1178.2L1303.6 1179.3L1303.8 1178.4L1304 1179.4L1304.2 1178.9L1304.4 1179.5L1304.6 1179.1L1304.8 1179.7L1305 1179.2L1305.2 1179.9L1305.4 1179.4L1305.6 1180.1L1305.8 1179.5L1306 1180.2L1306.2 1179.7L1306.4 1180.3L1306.6 1179.8L1306.8 1180.5L1307 1179.7L1307.2 1180.4L1307.4 1179.8L1307.6 1180.5L1307.8 1179.9L1308 1180.7L1308.2 1180L1308.4 1180.8L1308.6 1180.2L1308.8 1181L1309 1180.4L1309.2 1181.1L1309.4 1180.5L1309.6 1181.3L1309.8 1180.4L1310 1181.3L1310.2 1180.6L1310.4 1181.5L1310.6 1180.7L1310.8 1181.7L1311 1181L1311.2 1181.8L1311.4 1181L1311.6 1182L1311.8 1181.1L1312 1182.1L1312.2 1181.5L1312.4 1182.3L1312.6 1181.6L1312.8 1182.4L1313 1181.7L1313.2 1182.5L1313.4 1181.8L1313.6 1182.7L1313.8 1181.9L1314 1182.8L1314.2 1182.1L1314.4 1182.9L1314.6 1182.3L1314.8 1183.1L1315 1182.5L1315.2 1183L1315.4 1182.2L1315.6 1182.7L1315.8 1181.9L1316 1182.5L1316.2 1181.8L1316.4 1182.2L1316.6 1181.5L1316.8 1182L1317 1181.2L1317.2 1181.7L1317.4 1181L1317.6 1181.5L1317.8 1180.7L1318 1181.2L1318.2 1180.4L1318.4 1181.3L1318.6 1180.1L1318.8 1181L1319 1180L1319.2 1180.7L1319.4 1179.6L1319.6 1180.5L1319.8 1179.4L1320 1180.3L1320.2 1179.2L1320.4 1180L1320.6 1178.9L1320.8 1179.7L1321 1178.8L1321.2 1179.7L1321.4 1178.6L1321.6 1179.5L1321.8 1178.4L1322 1179.4L1322.2 1178.1L1322.4 1179L1322.6 1177.8L1322.8 1178.8L1323 1177.6L1323.2 1178.4L1323.4 1177.4L1323.6 1178.3L1323.8 1177.4L1324 1177.8L1324.2 1177.1L1324.4 1177.6L1324.6 1176.9L1324.8 1177.3L1325 1176.6L1325.2 1176.7L1325.4 1175.6L1325.6 1175.6L1325.8 1174.6L1326 1174.6L1326.2 1173.5L1326.4 1173.6L1326.6 1172L1326.8 1172.5L1327 1171.1L1327.2 1171.6L1327.4 1170.1L1327.6 1170.5L1327.8 1169L1328 1169.5L1328.2 1168L1328.4 1168.4L1328.6 1166.9L1328.8 1167.4L1329 1165.9L1329.2 1166.4L1329.4 1165.1L1329.6 1165.2L1329.8 1164.1L1330 1164.1L1330.2 1163.1L1330.4 1163.1L1330.6 1162L1330.8 1161.8L1331 1161L1331.2 1161.3L1331.4 1160.4L1331.6 1160.5L1331.8 1159.5L1332 1159.5L1332.2 1158.1L1332.4 1157.7L1332.6 1156.2L1332.8 1155.4L1333 1153.7L1333.2 1152.5L1333.4 1150.6L1333.6 1149.6L1333.8 1148.3L1334 1148L1334.2 1148L1334.2 1148L1334.4 1148L1334.6 1148.7L1334.8 1150.8L1335 1152.9L1335.2 1156.3L1335.4 1158.7L1335.6 1161.8L1335.8 1163.7L1336 1166L1336.2 1167.3L1336.4 1169L1336.6 1169.7L1336.8 1171.1L1337 1171.5L1337.2 1172.6L1337.4 1172.8L1337.6 1173.6L1337.8 1173.5L1338 1174.7L1338.2 1174.2L1338.4 1175.4L1338.6 1174.6L1338.8 1175.3L1339 1174.6L1339.2 1175.3L1339.4 1174.6L1339.6 1175.3L1339.8 1174.6L1340 1175.3L1340.2 1174.6L1340.4 1175.3L1340.6 1174.8L1340.8 1175.5L1341 1174.8L1341.2 1175.5L1341.4 1174.8L1341.6 1175.4L1341.8 1174.8L1342 1175.3L1342.2 1174.7L1342.4 1175.3L1342.6 1174.7L1342.8 1175.3L1343 1174.7L1343.2 1175.2L1343.4 1174.5L1343.6 1175.1L1343.8 1174.5L1344 1175L1344.2 1174.4L1344.4 1174.9L1344.6 1174.3L1344.8 1174.8L1345 1174.1L1345.2 1174.7L1345.4 1174L1345.6 1174.5L1345.8 1173.7L1346 1174.1L1346.2 1173.2L1346.4 1173.8L1346.6 1172.7L1346.8 1173.3L1347 1172.1L1347.2 1172.5L1347.4 1171.1L1347.6 1171.5L1347.8 1170L1348 1170L1348.2 1168.3L1348.4 1168.2L1348.6 1166.6L1348.8 1166.6L1349 1166.2L1349.2 1166.3L1349.2 1166.3L1349.4 1166.2L1349.6 1166.5L1349.8 1166.4L1350 1167.7L1350.2 1167.6L1350.4 1169L1350.6 1168.9L1350.8 1170L1351 1169.8L1351.2 1170.8L1351.4 1170.4L1351.6 1171.3L1351.8 1170.9L1352 1171.7L1352.2 1171.2L1352.4 1171.9L1352.6 1171.5L1352.8 1172.1L1353 1171.6L1353.2 1172.3L1353.4 1171.6L1353.6 1172.4L1353.8 1171.7L1354 1172.5L1354.2 1171.8L1354.4 1172.5L1354.6 1172.2L1354.8 1172.6L1355 1172.2L1355.2 1172.6L1355.4 1172.3L1355.6 1172.7L1355.8 1172.3L1356 1172.7L1356.2 1172.3L1356.4 1172.8L1356.6 1172.3L1356.8 1172.7L1357 1172.1L1357.2 1172.4L1357.4 1171.9L1357.6 1172.1L1357.8 1171.6L1358 1171.8L1358.2 1171.3L1358.4 1171.5L1358.6 1171L1358.8 1171.2L1359 1170.7L1359.2 1170.9L1359.4 1170.4L1359.6 1170.6L1359.8 1170.1L1360 1169.9L1360.2 1168.9L1360.4 1168.9L1360.6 1167.7L1360.8 1167.7L1361 1166.2L1361.2 1165.9L1361.4 1164.1L1361.6 1163.4L1361.8 1161.1L1362 1159.8L1362.2 1156.8L1362.4 1154.7L1362.6 1150.9L1362.8 1148.1L1363 1144L1363.2 1141.6L1363.4 1138.8L1363.6 1138.1L1363.8 1138L1363.8 1138L1364 1138.1L1364.2 1138.9L1364.4 1142L1364.6 1144.8L1364.8 1149.5L1365 1152.6L1365.2 1157L1365.4 1159.2L1365.6 1162.7L1365.8 1163.8L1366 1166.8L1366.2 1167.3L1366.4 1169.7L1366.6 1169.6L1366.8 1171.5L1367 1171.3L1367.2 1173L1367.4 1172.5L1367.6 1174L1367.8 1173.5L1368 1174.9L1368.2 1174.2L1368.4 1175.7L1368.6 1174.9L1368.8 1175.7L1369 1175.4L1369.2 1176.2L1369.4 1175.8L1369.6 1176.6L1369.8 1176.3L1370 1177.1L1370.2 1176.7L1370.4 1177.5L1370.6 1177.1L1370.8 1178L1371 1177.6L1371.2 1178.4L1371.4 1178.1L1371.6 1179.4L1371.8 1178.5L1372 1179.7L1372.2 1178.9L1372.4 1180.3L1372.6 1179.4L1372.8 1180.7L1373 1179.8L1373.2 1181L1373.4 1180.3L1373.6 1181.6L1373.8 1180.7L1374 1182L1374.2 1181.1L1374.4 1182.4L1374.6 1181.6L1374.8 1182.8L1375 1182L1375.2 1183.1L1375.4 1181.8L1375.6 1182.8L1375.8 1181.7L1376 1182.7L1376.2 1181.6L1376.4 1182.5L1376.6 1181.4L1376.8 1182.5L1377 1181.5L1377.2 1182.2L1377.4 1181.3L1377.6 1182.1L1377.8 1181.2L1378 1182L1378.2 1181.1L1378.4 1181.8L1378.6 1180.9L1378.8 1181.7L1379 1180.8L1379.2 1181.5L1379.4 1180.6L1379.6 1181.4L1379.8 1180.2L1380 1181.1L1380.2 1180L1380.4 1181L1380.6 1180L1380.8 1180.8L1381 1179.8L1381.2 1180.7L1381.4 1179.7L1381.6 1180.5L1381.8 1179.5L1382 1180.5L1382.2 1179.3L1382.4 1180.2L1382.6 1179.4L1382.8 1179.8L1383 1179.2L1383.2 1179.6L1383.4 1179.1L1383.6 1179.5L1383.8 1178.9L1384 1179.3L1384.2 1178.8L1384.4 1179.2L1384.6 1178.7L1384.8 1179.1L1385 1178.5L1385.2 1178.9L1385.4 1178.4L1385.6 1179.2L1385.8 1178.3L1386 1179.1L1386.2 1178.1L1386.4 1179L1386.6 1178L1386.8 1178.8L1387 1177.9L1387.2 1178.7L1387.4 1177.7L1387.6 1178.6L1387.8 1177.7L1388 1178.4L1388.2 1177.3L1388.4 1177.9L1388.6 1177.2L1388.8 1177.7L1389 1177.1L1389.2 1177.6L1389.4 1177L1389.6 1177.5L1389.8 1176.8L1390 1177.4L1390.2 1176.7L1390.4 1177.3L1390.6 1176.6L1390.8 1177.1L1391 1176.3L1391.2 1176.7L1391.4 1175.9L1391.6 1176.2L1391.8 1175.3L1392 1175.4L1392.2 1174.4L1392.4 1174.4L1392.6 1173.1L1392.8 1172.9L1393 1171.4L1393.2 1170.9L1393.4 1169.3L1393.6 1169L1393.8 1168.2L1394 1168L1394.2 1167.9L1394.2 1168L1394.4 1168L1394.6 1168.2L1394.8 1169.2L1395 1169.7L1395.2 1171.5L1395.4 1172.1L1395.6 1173.8L1395.8 1174.1L1396 1175.6L1396.2 1175.6L1396.4 1176.8L1396.6 1176.8L1396.8 1177.8L1397 1177.5L1397.2 1178.4L1397.4 1178L1397.6 1178.9L1397.8 1178.4L1398 1179.2L1398.2 1178.6L1398.4 1179.5L1398.6 1178.9L1398.8 1179.7L1399 1179.1L1399.2 1179.8L1399.4 1179.3L1399.6 1180.1L1399.8 1179.4L1400 1180.1L1400.2 1179.5L1400.4 1180.3L1400.6 1179.7L1400.8 1180.4L1401 1179.8L1401.2 1180.6L1401.4 1180L1401.6 1180.8L1401.8 1180.1L1402 1180.8L1402.2 1179.8L1402.4 1180.7L1402.6 1180L1402.8 1180.8L1403 1180.1L1403.2 1180.9L1403.4 1180.3L1403.6 1181L1403.8 1180.3L1404 1181.2L1404.2 1180.6L1404.4 1181.3L1404.6 1180.7L1404.8 1181.4L1405 1180.9L1405.2 1182.1L1405.4 1181L1405.6 1182.1L1405.8 1181.2L1406 1182.3L1406.2 1181.3L1406.4 1182.3L1406.6 1181.4L1406.8 1182.5L1407 1181.5L1407.2 1182.6L1407.4 1181.7L1407.6 1182.8L1407.8 1182L1408 1182.9L1408.2 1182L1408.4 1183L1408.6 1182.1L1408.8 1182.9L1409 1182L1409.2 1182.9L1409.4 1181.9L1409.6 1182.7L1409.8 1181.8L1410 1182.7L1410.2 1181.8L1410.4 1182.6L1410.6 1181.7L1410.8 1182.4L1411 1181.6L1411.2 1182.3L1411.4 1181.6L1411.6 1182.3L1411.8 1181.5L1412 1182.2L1412.2 1181.4L1412.4 1182.2L1412.6 1181.3L1412.8 1182.1L1413 1181.3L1413.2 1182L1413.4 1181.4L1413.6 1181.8L1413.8 1181.3L1414 1181.8L1414.2 1181.3L1414.4 1181.7L1414.6 1181.2L1414.8 1181.7L1415 1181.2L1415.2 1181.6L1415.4 1181.1L1415.6 1181.5L1415.8 1181L1416 1181.4L1416.2 1180.8L1416.4 1181.8L1416.6 1180.8L1416.8 1181.7L1417 1180.7L1417.2 1181.6L1417.4 1180.6L1417.6 1181.6L1417.8 1180.6L1418 1181.5L1418.2 1180.5L1418.4 1181.2L1418.6 1180.3L1418.8 1181L1419 1180.2L1419.2 1180.6L1419.4 1179.9L1419.6 1180.3L1419.8 1179.5L1420 1179.8L1420.2 1179L1420.4 1179.2L1420.6 1178.3L1420.8 1178.4L1421 1177.3L1421.2 1177.2L1421.4 1175.9L1421.6 1175.5L1421.8 1173.6L1422 1173.1L1422.2 1170.9L1422.4 1170.2L1422.6 1167.8L1422.8 1167.5L1423 1166.3L1423.2 1166.4L1423.3 1166.3L1423.4 1166.2L1423.6 1166.5L1423.8 1166.7L1424 1169L1424.2 1169.8L1424.4 1172.4L1424.6 1173.6L1424.8 1175.7L1425 1176.3L1425.2 1178.1L1425.4 1178.3L1425.6 1179.6L1425.8 1179.7L1426 1180.9L1426.2 1180.6L1426.4 1181.6L1426.6 1181.3L1426.8 1182.2L1427 1181.8L1427.2 1182.8L1427.4 1181.9L1427.6 1182.9L1427.8 1182.1L1428 1182.9L1428.2 1182.1L1428.4 1182.9L1428.6 1182.1L1428.8 1182.8L1429 1182.1L1429.2 1182.9L1429.4 1182.1L1429.6 1182.8L1429.8 1182.1L1430 1182.9L1430.2 1182.2L1430.4 1183.1L1430.6 1182.1L1430.8 1183.1L1431 1182.2L1431.2 1183.1L1431.4 1182.1L1431.6 1183.1L1431.8 1182.2L1432 1183.1L1432.2 1182.1L1432.4 1183.2L1432.6 1182.2L1432.8 1183.1L1433 1182.3L1433.2 1182.7L1433.4 1182.2L1433.6 1182.7L1433.8 1182.2L1434 1182.7L1434.2 1182.2L1434.4 1182.7L1434.6 1182.2L1434.8 1182.7L1435 1182.3L1435.2 1182.5L1435.4 1181.8L1435.6 1182L1435.8 1181.6L1436 1181.6L1436.2 1181.1L1436.4 1181.1L1436.6 1180.7L1436.8 1180.7L1437 1180.2L1437.2 1180.3L1437.4 1179.8L1437.6 1179.8L1437.8 1179.3L1438 1179.4L1438.2 1178.9L1438.4 1178.9L1438.6 1177.9L1438.8 1178.4L1439 1177.4L1439.2 1177.9L1439.4 1177L1439.6 1177.5L1439.8 1176.5L1440 1177L1440.2 1176.2L1440.4 1176.6L1440.6 1175.7L1440.8 1176.1L1441 1175.2L1441.2 1175.7L1441.4 1175.2L1441.6 1175.6L1441.8 1174.8L1442 1175.1L1442.2 1174.3L1442.4 1174.6L1442.6 1173.9L1442.8 1174.3L1443 1173.5L1443.2 1173.7L1443.4 1173L1443.6 1173.3L1443.8 1172.6L1444 1172.9L1444.2 1172L1444.4 1172.6L1444.6 1171.5L1444.8 1172.1L1445 1171.1L1445.2 1171.7L1445.4 1170.6L1445.6 1171.3L1445.8 1170.2L1446 1170.7L1446.2 1169.7L1446.4 1170.4L1446.6 1169.3L1446.8 1169.8L1447 1169.1L1447.2 1169.5L1447.4 1168.6L1447.6 1169L1447.8 1168.2L1448 1168.6L1448.2 1167.7L1448.4 1168.1L1448.6 1167.3L1448.8 1167.6L1449 1166.9L1449.2 1166.8L1449.4 1165.7L1449.6 1165.7L1449.8 1164.2L1450 1164L1450.2 1162.6L1450.4 1161.9L1450.6 1160.1L1450.8 1158.9L1451 1156.3L1451.2 1154.2L1451.4 1150.5L1451.6 1146.7L1451.8 1140.8L1452 1134.1L1452.2 1124.6L1452.4 1113.7L1452.6 1100L1452.8 1088.4L1453 1079.8L1453.2 1078.9L1453.3 1078.8L1453.4 1078.7L1453.6 1080L1453.8 1087.8L1454 1102.1L1454.2 1114.7L1454.4 1127.7L1454.6 1136.5L1454.8 1144.8L1455 1149.7L1455.2 1155.1L1455.4 1157.8L1455.6 1161.2L1455.8 1162.7L1456 1165L1456.2 1165.9L1456.4 1167.7L1456.6 1168.1L1456.8 1169.5L1457 1169.6L1457.2 1170.8L1457.4 1170.7L1457.6 1172L1457.8 1171.6L1458 1172.4L1458.2 1172.1L1458.4 1172.7L1458.6 1172.5L1458.8 1173L1459 1172.8L1459.2 1173.4L1459.4 1173.2L1459.6 1173.7L1459.8 1173.6L1460 1174.1L1460.2 1173.9L1460.4 1174.5L1460.6 1174.3L1460.8 1174.8L1461 1174.7L1461.2 1175.5L1461.4 1175.1L1461.6 1175.9L1461.8 1175.4L1462 1176.2L1462.2 1175.7L1462.4 1176.6L1462.6 1176.1L1462.8 1177L1463 1176.5L1463.2 1177.3L1463.4 1176.8L1463.6 1177.6L1463.8 1176.9L1464 1177.7L1464.2 1177.1L1464.4 1178.1L1464.6 1177.6L1464.8 1178.5L1465 1177.9L1465.2 1178.8L1465.4 1178.3L1465.6 1179.2L1465.8 1178.7L1466 1179.6L1466.2 1179.1L1466.4 1179.9L1466.6 1179.4L1466.8 1180.1L1467 1179.2L1467.2 1179.7L1467.4 1178.9L1467.6 1179.4L1467.8 1178.6L1468 1179.1L1468.2 1178.2L1468.4 1178.8L1468.6 1177.9L1468.8 1178.4L1469 1177.6L1469.2 1178.1L1469.4 1177.2L1469.6 1178.1L1469.8 1176.9L1470 1177.7L1470.2 1176.6L1470.4 1177.5L1470.6 1176.3L1470.8 1177.2L1471 1175.9L1471.2 1176.8L1471.4 1175.6L1471.6 1176.4L1471.8 1175.3L1472 1176.1L1472.2 1175.2L1472.4 1175.6L1472.6 1174.8L1472.8 1175.3L1473 1174.5L1473.2 1174.9L1473.4 1174.2L1473.6 1174.6L1473.8 1173.8L1474 1174.3L1474.2 1173.6L1474.4 1174L1474.6 1173.2L1474.8 1173.6L1475 1172.9L1475.2 1173.3L1475.4 1172.6L1475.6 1173L1475.8 1172.2L1476 1172.8L1476.2 1172.2L1476.4 1172.8L1476.6 1172.1L1476.8 1172.7L1477 1172.1L1477.2 1172.6L1477.4 1172L1477.6 1172.5L1477.8 1171.8L1478 1172.4L1478.2 1171.8L1478.4 1172.3L1478.6 1171.7L1478.8 1172.3L1479 1171.3L1479.2 1171.5L1479.4 1170.4L1479.6 1170.6L1479.8 1169.2L1480 1169.1L1480.2 1167.5L1480.4 1167.1L1480.6 1165.2L1480.8 1164.2L1481 1161.8L1481.2 1160.4L1481.4 1157.9L1481.6 1156.6L1481.8 1155L1482 1154.6L1482.2 1154.5L1482.2 1154.6L1482.4 1154.7L1482.6 1155.2L1482.8 1157.2L1483 1159L1483.2 1162.2L1483.4 1164.2L1483.6 1167.5L1483.8 1168.6L1484 1171.3L1484.2 1171.9L1484.4 1174.1L1484.6 1174.1L1484.8 1175.9L1485 1175.7L1485.2 1177.2L1485.4 1176.8L1485.6 1178.2L1485.8 1178L1486 1179L1486.2 1178.3L1486.4 1178.9L1486.6 1178.6L1486.8 1179.2L1487 1178.9L1487.2 1179.4L1487.4 1179.1L1487.6 1179.7L1487.8 1179.4L1488 1180L1488.2 1179.7L1488.4 1180.2L1488.6 1180L1488.8 1180.5L1489 1179.9L1489.2 1181L1489.4 1180.2L1489.6 1181.2L1489.8 1180.5L1490 1181.5L1490.2 1180.7L1490.4 1181.8L1490.6 1181.1L1490.8 1182.1L1491 1181.3L1491.2 1182.4L1491.4 1181.6L1491.6 1182.7L1491.8 1182.3L1492 1183L1492.2 1182.6L1492.4 1183.2L1492.6 1182.8L1492.8 1183.5L1493 1183.1L1493.2 1183.8L1493.4 1183.4L1493.6 1184.1L1493.8 1183.7L1494 1184.4L1494.2 1183.9L1494.4 1184.7L1494.6 1183.9L1494.8 1184.6L1495 1184.2L1495.2 1184.9L1495.4 1184.5L1495.6 1185.2L1495.8 1184.8L1496 1185.5L1496.2 1185L1496.4 1185.8L1496.6 1185.3L1496.8 1185.9L1497 1185.3L1497.2 1185.8L1497.4 1185.2L1497.6 1185.9L1497.8 1185.1L1498 1185.8L1498.2 1184.9L1498.4 1185.7L1498.6 1184.8L1498.8 1185.6L1499 1184.7L1499.2 1185.4L1499.4 1184.6L1499.6 1185.4L1499.8 1184.5L1500 1185.2L1500.2 1184.5L1500.4 1184.9L1500.6 1184.3L1500.8 1184.7L1501 1184.2L1501.2 1184.6L1501.4 1184.1L1501.6 1184.5L1501.8 1184L1502 1184.4L1502.2 1183.9L1502.4 1184.3L1502.6 1183.7L1502.8 1184.2L1503 1183.3L1503.2 1184L1503.4 1183.3L1503.6 1183.9L1503.8 1183L1504 1183.8L1504.2 1183L1504.4 1183.6L1504.6 1182.9L1504.8 1183.5L1505 1182.8L1505.2 1183.4L1505.4 1182.7L1505.6 1183.2L1505.8 1182.8L1506 1183.3L1506.2 1182.6L1506.4 1183.2L1506.6 1182.5L1506.8 1183.1L1507 1182.4L1507.2 1182.9L1507.4 1182.3L1507.6 1182.8L1507.8 1182.2L1508 1182.7L1508.2 1182.1L1508.4 1182.6L1508.6 1181.9L1508.8 1182.6L1509 1181.8L1509.2 1182.5L1509.4 1181.7L1509.6 1182.4L1509.8 1181.6L1510 1182.2L1510.2 1181.5L1510.4 1182.2L1510.6 1181.3L1510.8 1182L1511 1181.2L1511.2 1182L1511.4 1180.9L1511.6 1181.9L1511.8 1180.7L1512 1181.8L1512.2 1180.7L1512.4 1181.7L1512.6 1180.5L1512.8 1181.5L1513 1180.4L1513.2 1181.4L1513.4 1180.2L1513.6 1181.3L1513.8 1180.1L1514 1181.2L1514.2 1180.1L1514.4 1180.7L1514.6 1180L1514.8 1180.6L1515 1179.9L1515.2 1180.5L1515.4 1179.8L1515.6 1180.3L1515.8 1179.7L1516 1180.4L1516.2 1179.8L1516.4 1180.6L1516.6 1180L1516.8 1180.7L1517 1180.2L1517.2 1180.8L1517.4 1180.3L1517.6 1181L1517.8 1180.6L1518 1181.2L1518.2 1180.7L1518.4 1181.3L1518.6 1180.9L1518.8 1181.5L1519 1181L1519.2 1181.7L1519.4 1181.2L1519.6 1181.8L1519.8 1181.4L1520 1182L1520.2 1181.6L1520.4 1182.2L1520.6 1181.8L1520.8 1182.4L1521 1182L1521.2 1182.5L1521.4 1182.1L1521.6 1182.7L1521.8 1182.3L1522 1182.9L1522.2 1182.4L1522.4 1183.1L1522.6 1182.6L1522.8 1183.2L1523 1182.8L1523.2 1183.4L1523.4 1182.9L1523.6 1183.4L1523.8 1182.8L1524 1183.3L1524.2 1182.7L1524.4 1183.2L1524.6 1182.7L1524.8 1183.2L1525 1182.6L1525.2 1183L1525.4 1182.5L1525.6 1183.1L1525.8 1182.4L1526 1183L1526.2 1182.3L1526.4 1183L1526.6 1182.3L1526.8 1182.9L1527 1182.1L1527.2 1182.8L1527.4 1182L1527.6 1182.7L1527.8 1181.9L1528 1182.6L1528.2 1182L1528.4 1182.7L1528.6 1181.9L1528.8 1182.7L1529 1181.9L1529.2 1182.6L1529.4 1181.7L1529.6 1182.5L1529.8 1181.7L1530 1182.4L1530.2 1181.6L1530.4 1182.3L1530.6 1181.5L1530.8 1182.3L1531 1181.5L1531.2 1182.3L1531.4 1181.6L1531.6 1182.5L1531.8 1181.7L1532 1182.6L1532.2 1181.8L1532.4 1182.6L1532.6 1181.9L1532.8 1182.8L1533 1182L1533.2 1182.8L1533.4 1182L1533.6 1182.9L1533.8 1182.1L1534 1182.7L1534.2 1182.2L1534.4 1182.9L1534.6 1182.3L1534.8 1183L1535 1182.4L1535.2 1183L1535.4 1182.4L1535.6 1183.1L1535.8 1182.5L1536 1183.3L1536.2 1182.7L1536.4 1183.3L1536.6 1182.9L1536.8 1183.2L1537 1183L1537.2 1183.3L1537.4 1183.1L1537.6 1183.4L1537.8 1183.2L1538 1183.5L1538.2 1183.3L1538.4 1183.6L1538.6 1183.4L1538.8 1183.7L1539 1183.5L1539.2 1183.8L1539.4 1183.1L1539.6 1184L1539.8 1183.3L1540 1184.1L1540.2 1183.3L1540.4 1184.2L1540.6 1183.4L1540.8 1184.3L1541 1183.5L1541.2 1184.4L1541.4 1183.6L1541.6 1184.5L1541.8 1183.6L1542 1184.5L1542.2 1183.9L1542.4 1184.4L1542.6 1183.9L1542.8 1184.4L1543 1183.9L1543.2 1184.4L1543.4 1183.9L1543.6 1184.4L1543.8 1183.9L1544 1184.5L1544.2 1184L1544.4 1184.5L1544.6 1184L1544.8 1184.5L1545 1184.2L1545.2 1184.9L1545.4 1184.3L1545.6 1185L1545.8 1184.3L1546 1184.9L1546.2 1184.3L1546.4 1184.9L1546.6 1184.3L1546.8 1185L1547 1184.4L1547.2 1185.1L1547.4 1184.4L1547.6 1185.1L1547.8 1184.1L1548 1184.7L1548.2 1184.1L1548.4 1184.7L1548.6 1184.1L1548.8 1184.8L1549 1184.1L1549.2 1184.8L1549.4 1184.1L1549.6 1184.8L1549.8 1184.2L1550 1184.9L1550.2 1184.2L1550.4 1184.9L1550.6 1184.2L1550.8 1184.9L1551 1184.2L1551.2 1184.9L1551.4 1184.3L1551.6 1184.9L1551.8 1184.3L1552 1185L1552.2 1184.2L1552.4 1185L1552.6 1184.3L1552.8 1185L1553 1184.3L1553.2 1185L1553.4 1184.3L1553.6 1184.9L1553.8 1184.3L1554 1184.9L1554.2 1184.3L1554.4 1184.9L1554.6 1184.3L1554.8 1184.9L1555 1184.4L1555.2 1184.9L1555.4 1184.3L1555.6 1184.9L1555.8 1184.4L1556 1184.9L1556.2 1184.4L1556.4 1185.1L1556.6 1184.4L1556.8 1185.1L1557 1184.4L1557.2 1185.1L1557.4 1184.4L1557.6 1185.1L1557.8 1184.4L1558 1185.2L1558.2 1184.4L1558.4 1185.2L1558.6 1184.4L1558.8 1185.1L1559 1184.3L1559.2 1185L1559.4 1184.3L1559.6 1185L1559.8 1184.4L1560 1185L1560.2 1184.4L1560.4 1185L1560.6 1184.4L1560.8 1185.1L1561 1184.4L1561.2 1185L1561.4 1184.4L1561.6 1185.1L1561.8 1184.9L1562 1185.5L1562.2 1184.7L1562.4 1185.4L1562.6 1184.7L1562.8 1185.3L1563 1184.5L1563.2 1185.2L1563.4 1184.4L1563.6 1185L1563.8 1184.3L1564 1184.9L1564.2 1184.1L1564.4 1184.8L1564.6 1183.8L1564.8 1184.4L1565 1183.4L1565.2 1183.7L1565.4 1182.7L1565.6 1182.9L1565.8 1181.8L1566 1181.7L1566.2 1180.3L1566.4 1180.2L1566.6 1178.4L1566.8 1177.9L1567 1175.7L1567.2 1174.6L1567.4 1171.7L1567.6 1170.1L1567.8 1166.7L1568 1164.8L1568.2 1161.5L1568.4 1160.2L1568.6 1159.4L1568.8 1159.5L1568.8 1159.6L1569 1159.4L1569.2 1160.2L1569.4 1161.6L1569.6 1165L1569.8 1167L1570 1170.6L1570.2 1172.3L1570.4 1175.3L1570.6 1176.4L1570.8 1178.8L1571 1179.3L1571.2 1181.2L1571.4 1181.3L1571.6 1182.8L1571.8 1182.7L1572 1184L1572.2 1183.7L1572.4 1184.9L1572.6 1184.4L1572.8 1185.6L1573 1185.1L1573.2 1186L1573.4 1185.6L1573.6 1186.3L1573.8 1185.7L1574 1186.3L1574.2 1185.6L1574.4 1186.4L1574.6 1185.6L1574.8 1186.4L1575 1185.7L1575.2 1186.4L1575.4 1185.7L1575.6 1186.4L1575.8 1185.9L1576 1186.7L1576.2 1185.9L1576.4 1186.7L1576.6 1186L1576.8 1186.8L1577 1186L1577.2 1186.9L1577.4 1186L1577.6 1186.9L1577.8 1186L1578 1186.8L1578.2 1186L1578.4 1186.9L1578.6 1185.8L1578.8 1186.6L1579 1185.8L1579.2 1186.6L1579.4 1185.8L1579.6 1186.6L1579.8 1185.9L1580 1186.7L1580.2 1185.9L1580.4 1186.8L1580.6 1185.9L1580.8 1186.7L1581 1185.9L1581.2 1186.8L1581.4 1186.3L1581.6 1186.7L1581.8 1186.4L1582 1186.7L1582.2 1186.4L1582.4 1186.7L1582.6 1186.4L1582.8 1186.7L1583 1186.4L1583.2 1186.8L1583.4 1186.4L1583.6 1186.8L1583.8 1186.5L1584 1186.7L1584.2 1186.2L1584.4 1186.4L1584.6 1186L1584.8 1186.1L1585 1185.8L1585.2 1185.9L1585.4 1185.5L1585.6 1185.7L1585.8 1185.3L1586 1185.4L1586.2 1185.1L1586.4 1185.2L1586.6 1184.8L1586.8 1185L1587 1184.6L1587.2 1184.9L1587.4 1184.4L1587.6 1184.7L1587.8 1184.2L1588 1184.5L1588.2 1183.9L1588.4 1184.3L1588.6 1183.7L1588.8 1184L1589 1183.5L1589.2 1183.8L1589.4 1183.2L1589.6 1183.6L1589.8 1183L1590 1183.6L1590.2 1182.8L1590.4 1183.3L1590.6 1182.5L1590.8 1183.1L1591 1182.3L1591.2 1182.9L1591.4 1182.1L1591.6 1182.5L1591.8 1181.8L1592 1182.5L1592.2 1182L1592.4 1182.7L1592.6 1182.2L1592.8 1182.7L1593 1182.3L1593.2 1182.9L1593.4 1182.5L1593.6 1183.1L1593.8 1182.6L1594 1183.2L1594.2 1182.7L1594.4 1183.4L1594.6 1182.9L1594.8 1183.5L1595 1183L1595.2 1183.5L1595.4 1182.8L1595.6 1183.3L1595.8 1183L1596 1183.5L1596.2 1183.1L1596.4 1183.6L1596.6 1183.3L1596.8 1183.7L1597 1183.4L1597.2 1183.9L1597.4 1183.6L1597.6 1184L1597.8 1183.6L1598 1184.1L1598.2 1183.8L1598.4 1184.3L1598.6 1183.9L1598.8 1184.5L1599 1184L1599.2 1184.6L1599.4 1184.2L1599.6 1184.7L1599.8 1184.3L1600 1184.9L1600.2 1184.4L1600.4 1185L1600.6 1184.6L1600.8 1185.1L1601 1184.9L1601.2 1185.5L1601.4 1185.1L1601.6 1185.6L1601.8 1185.2L1602 1185.7L1602.2 1185.3L1602.4 1185.9L1602.6 1185.5L1602.8 1186L1603 1185.6L1603.2 1186.1L1603.4 1185.7L1603.6 1186.3L1603.8 1185.7L1604 1186.1L1604.2 1185.7L1604.4 1186.1L1604.6 1185.7L1604.8 1186.1L1605 1185.7L1605.2 1186.1L1605.4 1185.7L1605.6 1186.1L1605.8 1185.7L1606 1186.1L1606.2 1185.7L1606.4 1186.1L1606.6 1185.6L1606.8 1186.1L1607 1185.6L1607.2 1186.1L1607.4 1185.6L1607.6 1186.1L1607.8 1185.6L1608 1186.1L1608.2 1185.6L1608.4 1186.1L1608.6 1185.5L1608.8 1186.1L1609 1185.5L1609.2 1186.1L1609.4 1185.7L1609.6 1186.1L1609.8 1185.7L1610 1186.2L1610.2 1185.7L1610.4 1186.1L1610.6 1185.7L1610.8 1186.1L1611 1185.7L1611.2 1186.2L1611.4 1185.7L1611.6 1186.1L1611.8 1185.7L1612 1186.2L1612.2 1185.5L1612.4 1186.1L1612.6 1185.5L1612.8 1186L1613 1185.5L1613.2 1186L1613.4 1185.5L1613.6 1186L1613.8 1185.5L1614 1186L1614.2 1185.5L1614.4 1186.1L1614.6 1185.5L1614.8 1186.1L1615 1185.5L1615.2 1186.2L1615.4 1185.4L1615.6 1186.3L1615.8 1185.5L1616 1186.3L1616.2 1185.4L1616.4 1186.3L1616.6 1185.4L1616.8 1186.2L1617 1185.5L1617.2 1186.3L1617.4 1185.4L1617.6 1186.3L1617.8 1185.7L1618 1186.1L1618.2 1185.7L1618.4 1186.1L1618.6 1185.4L1618.8 1185.8L1619 1185.2L1619.2 1185.6L1619.4 1185.1L1619.6 1185.4L1619.8 1184.8L1620 1185.2L1620.2 1184.6L1620.4 1185L1620.6 1184.4L1620.8 1184.9L1621 1184.2L1621.2 1184.7L1621.4 1184L1621.6 1184.5L1621.8 1183.8L1622 1184.2L1622.2 1183.5L1622.4 1184L1622.6 1183.2L1622.8 1183.7L1623 1182.8L1623.2 1183.2L1623.4 1182.4L1623.6 1182.6L1623.8 1181.7L1624 1181.6L1624.2 1180.6L1624.4 1180.3L1624.6 1179.1L1624.8 1178.7L1625 1177.3L1625.2 1177L1625.4 1176.1L1625.6 1176L1625.8 1175.9L1625.8 1175.9L1626 1176L1626.2 1176L1626.4 1176.8L1626.6 1177.1L1626.8 1178.5L1627 1178.8L1627.2 1180.1L1627.4 1180.3L1627.6 1181.3L1627.8 1181.3L1628 1182.2L1628.2 1182L1628.4 1182.9L1628.6 1182.6L1628.8 1183.3L1629 1182.9L1629.2 1183.9L1629.4 1183.2L1629.6 1184.1L1629.8 1183.4L1630 1184.3L1630.2 1183.7L1630.4 1184.5L1630.6 1183.7L1630.8 1184.6L1631 1183.9L1631.2 1184.7L1631.4 1184L1631.6 1184.9L1631.8 1184.1L1632 1184.9L1632.2 1184.2L1632.4 1185L1632.6 1184.3L1632.8 1185.1L1633 1184.5L1633.2 1185.3L1633.4 1184.6L1633.6 1185.4L1633.8 1184.8L1634 1185.5L1634.2 1184.8L1634.4 1185.6L1634.6 1185L1634.8 1185.9L1635 1185.2L1635.2 1185.9L1635.4 1185.3L1635.6 1186L1635.8 1185.4L1636 1186.2L1636.2 1185.4L1636.4 1186.3L1636.6 1185.5L1636.8 1186.3L1637 1185.7L1637.2 1186.4L1637.4 1185.5L1637.6 1186.2L1637.8 1185.7L1638 1186.4L1638.2 1185.8L1638.4 1186.5L1638.6 1185.8L1638.8 1186.6L1639 1186L1639.2 1186.7L1639.4 1186L1639.6 1186.7L1639.8 1186.1L1640 1186.7L1640.2 1186.4L1640.4 1186.8L1640.6 1186.4L1640.8 1186.8L1641 1186.3L1641.2 1186.8L1641.4 1186.3L1641.6 1186.8L1641.8 1186.3L1642 1186.7L1642.2 1186.3L1642.4 1186.8L1642.6 1186.2L1642.8 1186.7L1643 1186.3L1643.2 1186.7L1643.4 1186.2L1643.6 1186.7L1643.8 1186.2L1644 1186.6L1644.2 1186.2L1644.4 1186.7L1644.6 1186.2L1644.8 1186.6L1645 1186.2L1645.2 1186.6L1645.4 1186.1L1645.6 1186.6L1645.8 1186L1646 1186.6L1646.2 1186L1646.4 1186.5L1646.6 1186L1646.8 1186.5L1647 1186L1647.2 1186.6L1647.4 1186L1647.6 1186.6L1647.8 1186L1648 1186.6L1648.2 1185.9L1648.4 1186.5L1648.6 1186L1648.8 1186.7L1649 1186L1649.2 1186.7L1649.4 1186L1649.6 1186.7L1649.8 1186L1650 1186.6L1650.2 1186L1650.4 1186.5L1650.6 1186L1650.8 1186.6L1651 1185.9L1651.2 1186.5L1651.4 1185.6L1651.6 1186.3L1651.8 1185.6L1652 1186.2L1652.2 1185.5L1652.4 1186.2L1652.6 1185.6L1652.8 1186.2L1653 1185.6L1653.2 1186.2L1653.4 1185.6L1653.6 1186.1L1653.8 1185.6L1654 1186.1L1654.2 1185.8L1654.4 1186.4L1654.6 1185.7L1654.8 1186.4L1655 1185.7L1655.2 1186.3L1655.4 1185.7L1655.6 1186.1L1655.8 1185.4L1656 1185.9L1656.2 1185.2L1656.4 1185.7L1656.6 1185L1656.8 1185.5L1657 1184.7L1657.2 1185.1L1657.4 1184.4L1657.6 1184.9L1657.8 1184.3L1658 1184.7L1658.2 1184L1658.4 1184.5L1658.6 1183.9L1658.8 1184.3L1659 1183.6L1659.2 1184.1L1659.4 1183.4L1659.6 1183.9L1659.8 1183.6L1660 1183.9L1660.2 1183.4L1660.4 1183.7L1660.6 1183.2L1660.8 1183.5L1661 1183L1661.2 1183.3L1661.4 1182.8L1661.6 1183.1L1661.8 1182.5L1662 1182.9L1662.2 1182.3L1662.4 1182.7L1662.6 1181.9L1662.8 1182.2L1663 1181.7L1663.2 1182.2L1663.4 1181.9L1663.6 1182.4L1663.8 1182.1L1664 1182.6L1664.2 1182.4L1664.4 1182.8L1664.6 1182.6L1664.8 1183.1L1665 1182.8L1665.2 1183.3L1665.4 1183.2L1665.6 1183.6L1665.8 1183.4L1666 1183.8L1666.2 1183.6L1666.4 1184.1L1666.6 1183.9L1666.8 1184.3L1667 1184.1L1667.2 1184.5L1667.4 1184.3L1667.6 1184.7L1667.8 1184.5L1668 1184.9L1668.2 1184.4L1668.4 1185.1L1668.6 1184.5L1668.8 1185.3L1669 1184.8L1669.2 1185.5L1669.4 1185.1L1669.6 1185.7L1669.8 1185.2L1670 1186L1670.2 1185.5L1670.4 1186.2L1670.6 1185.6L1670.8 1186.4L1671 1186.3L1671.2 1186.9L1671.4 1186.5L1671.6 1187.1L1671.8 1186.7L1672 1187.3L1672.2 1186.9L1672.4 1187.6L1672.6 1187.1L1672.8 1187.5L1673 1186.9L1673.2 1187.3L1673.4 1186.8L1673.6 1187.1L1673.8 1186.5L1674 1186.8L1674.2 1186.3L1674.4 1186.7L1674.6 1186.1L1674.8 1186.5L1675 1185.9L1675.2 1186.4L1675.4 1185.8L1675.6 1186.2L1675.8 1185.6L1676 1186L1676.2 1185.5L1676.4 1185.9L1676.6 1185.5L1676.8 1185.8L1677 1185.3L1677.2 1185.7L1677.4 1185.1L1677.6 1185.5L1677.8 1185L1678 1185.3L1678.2 1184.7L1678.4 1185L1678.6 1184.4L1678.8 1184.7L1679 1184.1L1679.2 1184.3L1679.4 1183.2L1679.6 1183.4L1679.8 1182.5L1680 1182.6L1680.2 1181.5L1680.4 1181.4L1680.6 1180.1L1680.8 1179.6L1681 1178L1681.2 1177.4L1681.4 1175.7L1681.6 1175.2L1681.8 1174.2L1682 1174L1682.2 1174L1682.2 1174L1682.4 1174.1L1682.6 1174.2L1682.8 1175.4L1683 1175.7L1683.2 1177.5L1683.4 1177.8L1683.6 1179.4L1683.8 1179.6L1684 1181L1684.2 1181L1684.4 1182.2L1684.6 1181.9L1684.8 1182.9L1685 1182.6L1685.2 1183L1685.4 1183L1685.6 1183.4L1685.8 1183.4L1686 1183.7L1686.2 1183.6L1686.4 1183.9L1686.6 1183.9L1686.8 1184.2L1687 1184.2L1687.2 1184.5L1687.4 1184.4L1687.6 1184.8L1687.8 1184.6L1688 1185.2L1688.2 1184.9L1688.4 1185.5L1688.6 1185L1688.8 1185.5L1689 1185L1689.2 1185.5L1689.4 1185.1L1689.6 1185.6L1689.8 1185.2L1690 1185.7L1690.2 1185.2L1690.4 1185.7L1690.6 1185.4L1690.8 1185.9L1691 1185.4L1691.2 1185.9L1691.4 1185.5L1691.6 1185.9L1691.8 1185.6L1692 1186L1692.2 1185.6L1692.4 1186.1L1692.6 1185.7L1692.8 1186.1L1693 1185.7L1693.2 1186.1L1693.4 1185.5L1693.6 1186.3L1693.8 1185.7L1694 1186.3L1694.2 1185.7L1694.4 1186.4L1694.6 1185.7L1694.8 1186.4L1695 1185.7L1695.2 1186.5L1695.4 1185.8L1695.6 1186.5L1695.8 1185.9L1696 1186.5L1696.2 1186.1L1696.4 1186.7L1696.6 1186.1L1696.8 1186.8L1697 1186.2L1697.2 1186.8L1697.4 1186.2L1697.6 1186.8L1697.8 1186.3L1698 1186.9L1698.2 1186.3L1698.4 1186.9L1698.6 1186.4L1698.8 1187L1699 1186.3L1699.2 1186.8L1699.4 1186.2L1699.6 1186.6L1699.8 1186L1700 1186.5L1700.2 1185.9L1700.4 1186.3L1700.6 1185.8L1700.8 1186.2L1701 1185.6L1701.2 1186L1701.4 1185.4L1701.6 1185.9L1701.8 1185.2L1702 1186L1702.2 1185.1L1702.4 1185.8L1702.6 1184.9L1702.8 1185.7L1703 1184.7L1703.2 1185.6L1703.4 1184.6L1703.6 1185.3L1703.8 1184.5L1704 1185.2L1704.2 1184.3L1704.4 1185.1L1704.6 1184.2L1704.8 1184.6L1705 1184.1L1705.2 1184.4L1705.4 1183.9L1705.6 1184.3L1705.8 1183.8L1706 1183.9L1706.2 1183.3L1706.4 1183.4L1706.6 1182.7L1706.8 1182.8L1707 1182L1707.2 1181.9L1707.4 1180.9L1707.6 1180.6L1707.8 1179.4L1708 1178.8L1708.2 1177.2L1708.4 1176.2L1708.6 1174.2L1708.8 1172.7L1709 1170.3L1709.2 1168.5L1709.4 1166.2L1709.6 1165.2L1709.8 1164.6L1710 1164.7L1710 1164.7L1710.2 1164.6L1710.4 1165.2L1710.6 1166.2L1710.8 1168.7L1711 1170.3L1711.2 1173.1L1711.4 1174.5L1711.6 1176.7L1711.8 1177.6L1712 1179.3L1712.2 1179.8L1712.4 1181.2L1712.6 1181.3L1712.8 1182.4L1713 1182.6L1713.2 1183.5L1713.4 1183.4L1713.6 1184.1L1713.8 1184L1714 1184.6L1714.2 1184.4L1714.4 1185.1L1714.6 1184.7L1714.8 1185.3L1715 1185L1715.2 1185.5L1715.4 1185L1715.6 1185.5L1715.8 1185L1716 1185.3L1716.2 1185L1716.4 1185.3L1716.6 1185L1716.8 1185.3L1717 1185L1717.2 1185.3L1717.4 1185L1717.6 1185.3L1717.8 1184.9L1718 1185.2L1718.2 1184.9L1718.4 1185.2L1718.6 1184.6L1718.8 1185.2L1719 1184.7L1719.2 1185.2L1719.4 1184.6L1719.6 1185.2L1719.8 1184.6L1720 1185.1L1720.2 1184.5L1720.4 1185.1L1720.6 1184.6L1720.8 1185.1L1721 1184.5L1721.2 1185.1L1721.4 1184.5L1721.6 1185.4L1721.8 1184.4L1722 1185.4L1722.2 1184.4L1722.4 1185.4L1722.6 1184.4L1722.8 1185.4L1723 1184.3L1723.2 1185.4L1723.4 1184.3L1723.6 1185.3L1723.8 1184.4L1724 1185.2L1724.2 1184.7L1724.4 1185.2L1724.6 1184.7L1724.8 1185.3L1725 1184.7L1725.2 1185.2L1725.4 1184.7L1725.6 1185.2L1725.8 1184.6L1726 1185.2L1726.2 1184.6L1726.4 1185.2L1726.6 1184.6L1726.8 1185.2L1727 1184.7L1727.2 1185.3L1727.4 1184.7L1727.6 1185.3L1727.8 1184.6L1728 1185.2L1728.2 1184.6L1728.4 1185.2L1728.6 1184.6L1728.8 1185.2L1729 1184.6L1729.2 1185.2L1729.4 1184.6L1729.6 1185.1L1729.8 1184.4L1730 1184.9L1730.2 1184.4L1730.4 1184.9L1730.6 1184.4L1730.8 1184.8L1731 1184.1L1731.2 1184.4L1731.4 1183.8L1731.6 1184.2L1731.8 1183.5L1732 1183.9L1732.2 1183.2L1732.4 1183.6L1732.6 1182.8L1732.8 1183L1733 1182.5L1733.2 1182.7L1733.4 1182.2L1733.6 1182.4L1733.8 1181.8L1734 1181.7L1734.2 1181L1734.4 1180.9L1734.6 1180L1734.8 1179.8L1735 1178.8L1735.2 1178.4L1735.4 1177.2L1735.6 1176.5L1735.8 1174.8L1736 1173.7L1736.2 1171.5L1736.4 1169.6L1736.6 1166.6L1736.8 1163.8L1737 1159.8L1737.2 1156.1L1737.4 1151.3L1737.6 1147.4L1737.8 1143.6L1738 1141.8L1738.2 1141.5L1738.3 1141.5L1738.4 1141.6L1738.6 1141.7L1738.8 1144.1L1739 1146.8L1739.2 1151.6L1739.4 1155.1L1739.6 1159.7L1739.8 1162.6L1740 1166.3L1740.2 1168.2L1740.4 1171L1740.6 1172.1L1740.8 1174.3L1741 1174.8L1741.2 1176.5L1741.4 1176.8L1741.6 1178.2L1741.8 1178.2L1742 1179.4L1742.2 1179.2L1742.4 1180.3L1742.6 1180L1742.8 1181.1L1743 1180.6L1743.2 1181.6L1743.4 1181.1L1743.6 1182L1743.8 1181.4L1744 1182.3L1744.2 1181.8L1744.4 1182.5L1744.6 1182.1L1744.8 1182.8L1745 1182.3L1745.2 1183L1745.4 1182.5L1745.6 1183.2L1745.8 1182.8L1746 1183.4L1746.2 1183L1746.4 1183.6L1746.6 1183L1746.8 1183.8L1747 1183.3L1747.2 1184.1L1747.4 1183.5L1747.6 1184.3L1747.8 1183.7L1748 1184.5L1748.2 1184L1748.4 1184.8L1748.6 1184.1L1748.8 1185L1749 1184.4L1749.2 1185.2L1749.4 1184.8L1749.6 1185.4L1749.8 1185L1750 1185.7L1750.2 1185.3L1750.4 1185.9L1750.6 1185.5L1750.8 1186.1L1751 1185.8L1751.2 1186.4L1751.4 1186L1751.6 1186.6L1751.8 1186.2L1752 1186.8L1752.2 1186.2L1752.4 1186.8L1752.6 1186.1L1752.8 1186.7L1753 1186L1753.2 1186.5L1753.4 1185.8L1753.6 1186.5L1753.8 1185.7L1754 1186.3L1754.2 1185.6L1754.4 1186.2L1754.6 1185.4L1754.8 1186L1755 1185.4L1755.2 1185.7L1755.4 1185.3L1755.6 1185.6L1755.8 1185.2L1756 1185.4L1756.2 1185L1756.4 1185.3L1756.6 1184.8L1756.8 1185.2L1757 1184.8L1757.2 1185L1757.4 1184.6L1757.6 1184.9L1757.8 1184.3L1758 1184.6L1758.2 1184.2L1758.4 1184.5L1758.6 1184L1758.8 1184.3L1759 1183.9L1759.2 1184.2L1759.4 1183.8L1759.6 1184.1L1759.8 1183.6L1760 1184L1760.2 1183.7L1760.4 1184.1L1760.6 1183.7L1760.8 1184.2L1761 1183.9L1761.2 1184.3L1761.4 1184L1761.6 1184.4L1761.8 1184L1762 1184.4L1762.2 1184.1L1762.4 1184.5L1762.6 1184.1L1762.8 1184.6L1763 1184.3L1763.2 1184.7L1763.4 1184.2L1763.6 1184.7L1763.8 1184.2L1764 1184.7L1764.2 1184.3L1764.4 1184.8L1764.6 1184.4L1764.8 1184.9L1765 1184.4L1765.2 1185L1765.4 1184.5L1765.6 1185L1765.8 1184.6L1766 1185.1L1766.2 1184.5L1766.4 1185.3L1766.6 1184.7L1766.8 1185.4L1767 1184.7L1767.2 1185.5L1767.4 1184.8L1767.6 1185.5L1767.8 1184.9L1768 1185.6L1768.2 1184.9L1768.4 1185.7L1768.6 1185L1768.8 1185.8L1769 1185.5L1769.2 1185.8L1769.4 1185.6L1769.6 1185.9L1769.8 1185.6L1770 1185.9L1770.2 1185.7L1770.4 1186L1770.6 1185.8L1770.8 1186.1L1771 1185.9L1771.2 1186.2L1771.4 1185.9L1771.6 1186.2L1771.8 1185.9L1772 1186.4L1772.2 1185.9L1772.4 1186.5L1772.6 1186.1L1772.8 1186.6L1773 1186.1L1773.2 1186.7L1773.4 1186.2L1773.6 1186.7L1773.8 1186.3L1774 1186.8L1774.2 1186.4L1774.4 1186.9L1774.6 1186.4L1774.8 1186.9L1775 1186.4L1775.2 1186.9L1775.4 1186.4L1775.6 1187L1775.8 1186.4L1776 1187L1776.2 1186.4L1776.4 1186.9L1776.6 1186.4L1776.8 1186.9L1777 1186.4L1777.2 1186.9"/>
</g>
</g>
<g fill="none" stroke-linecap="butt">
<line x1="184.6" y1="16" x2="184.6" y2="1485.3" stroke="#3a3a3a" stroke-width="3"/>
<line x1="183.3" y1="17" x2="1778.8" y2="17" stroke="#2b2b2b" stroke-width="2"/>
<line x1="183.3" y1="1483.8" x2="1778.8" y2="1483.8" stroke="#666" stroke-width="3"/>
<line x1="1777.3" y1="16" x2="1777.3" y2="1485.3" stroke="#000" stroke-width="3.4"/>
<line x1="465.3" y1="17" x2="465.3" y2="52.6" stroke="#2e2e2e" stroke-width="3.6"/>
<line x1="465.3" y1="1447.5" x2="465.3" y2="1483.8" stroke="#2a2a2a" stroke-width="3.4"/>
<line x1="840.2" y1="17" x2="840.2" y2="52.6" stroke="#2e2e2e" stroke-width="3.6"/>
<line x1="840.2" y1="1447.5" x2="840.2" y2="1483.8" stroke="#2a2a2a" stroke-width="3.4"/>
<line x1="1215.1" y1="17" x2="1215.1" y2="52.6" stroke="#2e2e2e" stroke-width="3.6"/>
<line x1="1215.1" y1="1447.5" x2="1215.1" y2="1483.8" stroke="#2a2a2a" stroke-width="3.4"/>
<line x1="1590" y1="17" x2="1590" y2="52.6" stroke="#2e2e2e" stroke-width="3.6"/>
<line x1="1590" y1="1447.5" x2="1590" y2="1483.8" stroke="#2a2a2a" stroke-width="3.4"/>
</g>
<g font-family="'Liberation Sans', sans-serif">
<text transform="translate(0 1588) scale(0.9334 1)" x="441.83 495.91" y="0" font-size="99.5" fill="#120a0c" stroke="#fff" stroke-width="0.5" stroke-linejoin="round" xml:space="preserve">20</text>
<text transform="translate(0 1588) scale(0.9319 1)" x="846.14 901.83" y="0" font-size="99.5" fill="#120a0c" stroke="#fff" stroke-width="0.5" stroke-linejoin="round" xml:space="preserve">40</text>
<text transform="translate(0 1588) scale(0.9259 1)" x="1255.79 1310.14" y="0" font-size="99.5" fill="#120a0c" stroke="#fff" stroke-width="0.5" stroke-linejoin="round" xml:space="preserve">60</text>
<text transform="translate(0 1588) scale(0.9239 1)" x="1664.6 1718.97" y="0" font-size="99.5" fill="#120a0c" stroke="#fff" stroke-width="0.5" stroke-linejoin="round" xml:space="preserve">80</text>
<text transform="translate(0 1719) scale(0.9750 1)" x="769.1 841.52 893.3 945.08 987.14 1059.67 1129.14 1202.19" y="0" font-size="126.5" fill="#120a0c" stroke="#fff" stroke-width="0.3" stroke-linejoin="round" xml:space="preserve">2<tspan font-style="italic">θ</tspan> (deg)</text>
<text transform="translate(117 1300) rotate(-90) scale(0.9900 1)" x="-11.13 23.71 97.3 133.61 203.5 268.63 328.08 360.94 399.38 445.55 491.73 525.68 599.46 644.24 710.59 741.77 772.95 848.25 918.99 953.31 987.92 1042.71" y="0" font-size="123.5" fill="#120a0c" stroke="#fff" stroke-width="1" stroke-linejoin="round" xml:space="preserve">Intensity (arb. units)</text>
<text transform="translate(0 158.6) scale(0.9300 1)" x="1335.4 1377.16 1435.42 1522.48 1579.42 1602.46" y="0" font-size="97.5" fill="#120a0c" stroke="#fff" stroke-width="0.4" stroke-linejoin="round" xml:space="preserve">sample</text>
<text transform="translate(0 283.2) scale(0.8700 1)" x="1429.06 1499.96 1556.07 1580.95 1630.64 1685.84" y="0" font-size="97.5" fill="#ffa31f" stroke="#fff" stroke-width="0.4" stroke-linejoin="round" xml:space="preserve">Ce<tspan dy="18.2" font-size="49">3</tspan><tspan dy="-18.2">Te</tspan><tspan dy="18.2" font-size="49">4</tspan></text>
<text transform="translate(0 406.6) scale(0.8900 1)" x="1396.67 1466.05 1521.09 1590.08 1644.83 1672.57 1743.13 1801.69 1827.62 1875.47 1930.67" y="0" font-size="97.5" fill="#86b1dc" stroke="#fff" stroke-width="0.4" stroke-linejoin="round" xml:space="preserve">RbCe<tspan dy="18.2" font-size="49">2</tspan><tspan dy="-18.2">Ag</tspan><tspan dy="18.2" font-size="49">3</tspan><tspan dy="-18.2">Te</tspan><tspan dy="18.2" font-size="49">5</tspan></text>
</g>
</g>
</svg>
</body>
</html>
